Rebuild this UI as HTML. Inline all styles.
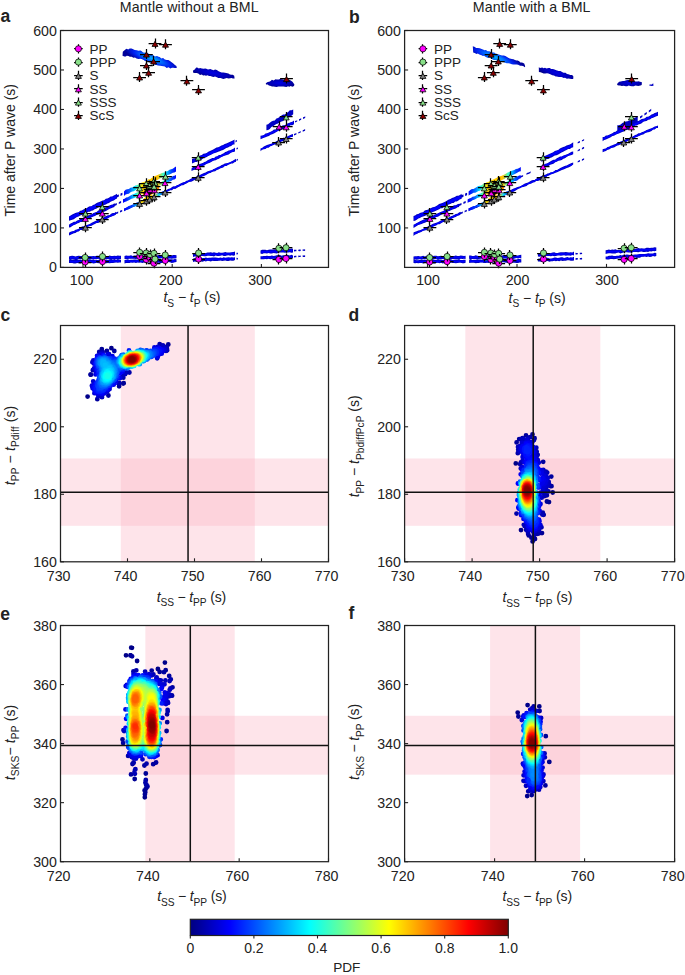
<!DOCTYPE html>
<html><head><meta charset="utf-8"><style>
html,body{margin:0;padding:0;background:#fff;overflow:hidden;}
svg{display:block;font-family:"Liberation Sans",sans-serif;}
</style></head><body>
<svg width="685" height="975" viewBox="0 0 685 975" font-family="Liberation Sans, sans-serif" fill="#222222"><rect x="120.80" y="325.5" width="134.00" height="236.30" fill="#fbb4c4" fill-opacity="0.36"/>
<rect x="60.5" y="458.50" width="268.00" height="67.31" fill="#fbb4c4" fill-opacity="0.36"/>
<rect x="465.35" y="325.5" width="135.00" height="236.30" fill="#fbb4c4" fill-opacity="0.36"/>
<rect x="404.6" y="458.50" width="270.00" height="67.31" fill="#fbb4c4" fill-opacity="0.36"/>
<rect x="145.37" y="625.5" width="89.33" height="236.20" fill="#fbb4c4" fill-opacity="0.36"/>
<rect x="60.5" y="715.79" width="268.00" height="58.87" fill="#fbb4c4" fill-opacity="0.36"/>
<rect x="490.10" y="625.5" width="90.00" height="236.20" fill="#fbb4c4" fill-opacity="0.36"/>
<rect x="404.6" y="715.79" width="270.00" height="58.87" fill="#fbb4c4" fill-opacity="0.36"/>
<g fill="none" stroke-width="4.8" stroke-linecap="round"><path d="M87.6 396.6h0M111.4 348.2h0" stroke="#00008a"/><path d="M123.7 383.2h0M101.8 349.1h0M123.2 383.5h0M168.3 344.5h0M119.1 386.3h0M90.6 374.6h0" stroke="#000095"/><path d="M90.8 374.7h0M114.3 351.0h0M108.4 395.5h0M97.3 399.2h0M106.9 350.9h0" stroke="#00009f"/><path d="M159.7 344.1h0M99.2 352.0h0M119.0 383.4h0M166.6 347.0h0M129.4 372.5h0M92.8 370.2h0M123.3 377.7h0M167.2 350.3h0" stroke="#0000aa"/><path d="M166.9 348.3h0M125.1 374.2h0M119.0 382.6h0M102.7 352.0h0M162.9 345.5h0M166.1 348.2h0M166.3 349.1h0M92.4 362.2h0M102.0 397.2h0" stroke="#0000b5"/><path d="M125.0 373.4h0M126.3 372.5h0M166.0 350.9h0M163.4 346.1h0M122.5 376.1h0" stroke="#0000bf"/><path d="M94.0 368.3h0M101.8 396.3h0M93.3 360.5h0M93.2 381.3h0M164.9 348.8h0M157.2 358.3h0M98.4 396.3h0M164.8 348.9h0M109.0 354.1h0M91.9 385.7h0" stroke="#0000ca"/><path d="M164.4 349.6h0M157.7 346.8h0M120.1 378.0h0M107.3 391.5h0M93.8 363.5h0M107.4 391.3h0M109.6 389.0h0M94.4 393.2h0M102.1 353.7h0" stroke="#0000d4"/><path d="M95.5 374.4h0M97.1 355.8h0M163.8 350.0h0M107.7 354.4h0M100.8 354.1h0M92.5 387.6h0M154.4 347.5h0M104.7 393.3h0M92.6 388.3h0M163.5 350.7h0M112.4 356.1h0M108.5 389.5h0M98.3 355.4h0M161.6 353.7h0M113.6 384.7h0M157.9 356.5h0M96.0 371.5h0" stroke="#0000df"/><path d="M119.4 377.7h0M115.1 383.1h0M93.5 385.4h0M122.8 371.7h0M108.0 389.4h0M162.6 350.5h0M162.0 352.4h0M103.2 393.4h0M157.2 356.6h0M97.3 393.8h0M159.4 348.1h0M96.3 370.0h0M116.0 381.7h0" stroke="#0000ea"/><path d="M162.0 351.7h0M162.1 351.4h0M95.7 367.1h0M161.7 349.7h0M161.0 349.2h0M101.0 393.7h0M159.3 348.5h0M161.6 350.3h0M159.7 354.0h0M95.6 391.9h0M161.5 350.3h0M96.5 368.9h0M94.4 389.9h0M161.4 351.6h0M97.6 356.8h0M94.1 388.4h0" stroke="#0000f4"/><path d="M95.6 391.6h0M160.2 349.3h0M94.2 387.6h0M97.4 357.2h0M160.2 349.5h0M121.0 371.9h0M106.9 389.3h0M120.2 373.1h0M95.4 363.1h0M159.0 349.2h0M95.7 391.0h0M95.6 391.0h0M160.6 351.3h0M117.9 378.0h0M103.3 355.1h0M158.7 349.4h0M107.6 388.4h0M102.2 392.5h0M95.5 383.7h0" stroke="#0000ff"/><path d="M113.2 383.4h0M95.8 390.8h0M156.0 349.1h0M95.7 363.9h0M160.0 350.8h0M117.7 377.8h0M110.5 385.8h0M112.1 358.1h0M95.1 386.6h0M112.5 358.3h0M97.6 373.9h0M96.5 359.2h0M97.5 369.5h0M158.3 353.7h0M114.7 358.6h0M99.0 392.1h0" stroke="#000bff"/><path d="M104.3 355.7h0M98.8 356.9h0M156.9 349.9h0M157.2 350.0h0M112.9 358.7h0M95.8 389.1h0M97.8 370.1h0M97.9 391.5h0M158.5 350.8h0M103.6 390.8h0M98.6 391.6h0M109.9 385.8h0M96.5 364.9h0M97.3 367.1h0M157.7 350.7h0M96.2 363.6h0M154.7 349.9h0M103.8 390.3h0M100.6 391.6h0M129.0 350.5h0M106.5 388.3h0M157.7 353.1h0" stroke="#0015ff"/><path d="M101.8 391.2h0M153.9 350.0h0M96.2 362.3h0M97.0 382.5h0M110.1 358.1h0M98.1 390.9h0M114.2 359.3h0M103.8 390.0h0M96.8 383.6h0M117.2 377.2h0M110.8 384.6h0M100.9 391.2h0M123.2 369.4h0M96.9 360.0h0M104.4 356.2h0M101.2 390.9h0M98.0 390.3h0M98.6 372.1h0" stroke="#0020ff"/><path d="M110.0 358.4h0M156.2 353.9h0M156.6 351.6h0M156.8 352.5h0M97.1 360.1h0M115.4 359.6h0M111.9 359.5h0M113.1 360.0h0M97.0 385.7h0M103.5 389.4h0M101.8 390.1h0M155.4 351.3h0M121.5 369.2h0M97.5 384.1h0M113.0 360.1h0M119.5 370.0h0M97.0 364.0h0M103.1 389.3h0" stroke="#002aff"/><path d="M155.0 351.4h0M114.9 379.8h0M154.6 351.2h0M98.4 380.2h0M110.2 359.0h0M98.5 389.3h0M154.0 355.5h0M105.8 387.6h0M109.0 385.3h0M97.6 385.8h0M98.1 359.1h0M98.1 382.9h0M97.6 359.9h0M116.8 376.0h0M99.2 370.7h0M97.1 361.6h0M98.1 383.4h0M109.0 385.2h0M105.7 387.3h0M98.2 383.4h0M98.4 367.0h0M155.1 352.7h0M97.4 360.8h0M115.6 360.4h0M146.5 350.3h0M113.5 381.0h0M155.0 352.8h0M98.2 359.2h0" stroke="#0035ff"/><path d="M150.9 350.9h0M99.0 376.5h0M99.0 388.2h0M98.5 387.2h0M99.8 357.9h0M98.6 366.8h0M117.6 372.4h0M114.1 380.0h0M110.3 359.8h0M98.5 386.4h0M154.4 353.1h0M119.3 368.9h0M107.8 385.6h0M98.8 382.1h0M153.2 351.8h0M97.8 364.6h0M105.7 386.8h0M151.5 356.9h0M154.2 353.4h0M98.3 359.6h0M101.4 388.4h0M98.7 386.6h0M140.5 349.8h0M118.2 369.9h0M114.4 361.4h0M146.8 350.6h0M153.4 352.1h0" stroke="#0040ff"/><path d="M115.0 378.4h0M121.7 355.1h0M149.9 351.1h0M119.4 368.5h0M153.7 352.7h0M97.7 362.5h0M153.7 353.5h0M101.2 387.9h0M153.7 353.6h0M115.0 361.7h0M98.1 360.6h0M153.5 352.7h0M99.2 358.9h0M100.6 357.9h0M105.7 357.8h0M153.0 354.9h0M108.2 359.0h0M153.5 353.2h0M116.0 376.3h0M153.1 354.8h0M101.8 387.7h0M104.9 357.6h0M98.6 365.5h0M101.2 387.5h0M99.5 385.8h0M152.6 355.1h0M104.8 357.7h0" stroke="#004aff"/><path d="M116.8 372.9h0M104.5 357.7h0M115.9 375.8h0M103.8 386.8h0M99.5 383.7h0M98.4 364.6h0M114.1 362.3h0M120.6 367.8h0M151.2 356.4h0M99.0 359.6h0M117.4 369.8h0M152.8 353.4h0M117.0 370.9h0M142.5 350.3h0M127.1 368.4h0M104.9 358.0h0M105.6 385.8h0M119.0 358.3h0" stroke="#0055ff"/><path d="M152.0 355.0h0M109.5 383.5h0M116.1 362.5h0M101.4 386.0h0M98.9 360.2h0M101.8 358.1h0M112.5 362.4h0M151.9 354.8h0M106.2 358.7h0M105.6 358.4h0M121.8 367.6h0M105.6 385.6h0M147.0 359.5h0M100.0 377.9h0M102.0 386.0h0M98.9 364.6h0M101.8 385.9h0M116.3 372.4h0M100.3 383.0h0M115.5 363.3h0M98.7 363.9h0M151.9 353.8h0M148.2 358.4h0M98.6 362.0h0M98.9 364.5h0M151.6 354.9h0M98.6 362.2h0M99.6 365.9h0M102.7 385.8h0M100.9 370.1h0" stroke="#0060ff"/><path d="M151.3 355.2h0M109.1 360.7h0M100.4 381.9h0M120.9 356.5h0M149.7 352.3h0M106.6 359.2h0M101.7 385.1h0M100.8 383.6h0M101.5 384.8h0M106.7 359.3h0M104.5 385.4h0M115.5 364.3h0M115.6 374.3h0M100.6 382.1h0M100.3 359.3h0M104.3 358.5h0M99.2 360.7h0M101.6 384.5h0M99.0 362.5h0M99.1 361.6h0M113.7 364.2h0M115.3 374.7h0M99.3 360.9h0M100.9 359.1h0M116.1 367.9h0" stroke="#006aff"/><path d="M149.3 352.5h0M118.0 361.3h0M150.5 353.3h0M106.9 384.4h0M110.4 362.3h0M150.4 355.5h0M118.0 365.6h0M106.3 384.6h0M111.1 381.4h0M148.5 357.6h0M112.2 363.7h0M113.1 364.3h0M120.6 357.2h0M114.4 376.8h0M99.3 363.3h0M114.8 365.6h0M112.3 363.8h0M115.6 369.7h0M99.4 361.5h0M123.4 354.7h0M104.5 359.0h0M101.5 368.7h0M117.8 363.1h0M107.6 383.8h0M104.4 359.0h0M150.1 353.7h0M150.0 355.4h0M115.4 370.7h0M106.4 359.8h0M114.6 366.0h0M112.6 379.5h0M118.8 365.5h0M120.5 366.4h0M150.2 354.2h0M112.3 379.9h0M114.5 376.0h0M101.1 374.0h0" stroke="#0075ff"/><path d="M108.3 383.3h0M105.3 384.4h0M101.9 383.2h0M103.5 384.4h0M118.2 361.8h0M102.0 383.2h0M105.8 384.2h0M105.7 359.7h0M115.1 371.6h0M108.4 383.0h0M106.6 360.3h0M149.8 354.8h0M109.4 382.3h0M113.4 377.8h0M141.6 350.9h0M107.1 383.7h0M101.4 359.7h0M102.0 359.5h0M109.5 362.6h0M113.8 376.9h0M140.2 350.8h0M114.7 374.2h0M99.9 363.5h0M149.0 356.3h0M106.6 383.8h0M105.5 359.9h0M100.5 360.6h0M149.6 354.3h0" stroke="#0080ff"/><path d="M102.2 369.3h0M102.6 359.4h0M106.4 383.7h0M147.7 352.7h0M104.4 359.6h0M113.6 377.2h0M114.6 368.7h0M149.3 355.3h0M148.8 353.4h0M100.1 363.4h0M146.6 352.3h0M112.4 365.4h0M101.6 380.7h0M102.4 382.5h0M148.2 356.9h0M144.0 351.6h0M109.3 363.0h0M119.9 365.3h0M102.5 369.8h0M118.6 362.6h0M108.4 362.3h0M119.5 359.6h0M113.5 366.9h0M101.4 376.5h0M113.1 377.7h0M101.5 366.1h0M111.4 364.9h0M119.0 361.0h0M111.1 364.8h0M108.2 362.3h0M114.5 372.2h0" stroke="#008aff"/><path d="M103.0 382.8h0M144.1 360.9h0M100.5 361.7h0M100.6 361.5h0M120.0 358.8h0M113.5 376.7h0M100.6 361.8h0M102.0 380.7h0M101.5 376.4h0M100.8 364.3h0M110.5 380.9h0M139.8 364.2h0M102.0 380.6h0M100.6 362.4h0M107.4 361.9h0M113.8 375.6h0M101.9 360.4h0M124.8 367.2h0M128.6 367.6h0M113.3 367.7h0M101.5 360.7h0M104.4 360.2h0M100.9 364.0h0M108.6 363.1h0M102.5 360.2h0M114.0 369.7h0M102.3 372.8h0M112.5 366.8h0M108.6 382.2h0M119.1 361.8h0M113.5 376.0h0M113.6 369.0h0M119.7 359.7h0M119.1 362.0h0" stroke="#0095ff"/><path d="M147.9 356.6h0M147.1 353.1h0M102.8 360.4h0M111.9 378.9h0M105.1 383.0h0M103.9 382.7h0M146.2 358.5h0M114.0 372.1h0M110.1 380.8h0M102.3 380.5h0M113.1 376.7h0M108.6 363.8h0M108.8 381.8h0M113.9 372.1h0M108.2 363.4h0M103.4 382.1h0M101.8 361.1h0M146.0 352.7h0M119.3 362.5h0M103.5 369.1h0M102.9 360.7h0M102.9 366.4h0M102.3 379.7h0M120.7 358.2h0M146.2 358.5h0M102.3 374.2h0M108.5 381.9h0M102.2 365.0h0M104.2 360.9h0M110.4 380.3h0M102.5 373.6h0M104.4 382.5h0" stroke="#009fff"/><path d="M137.5 351.0h0M111.0 366.6h0M102.4 361.2h0M102.1 361.6h0M119.4 361.9h0M103.5 371.0h0M120.6 358.7h0M107.4 382.2h0M103.7 370.3h0M112.8 376.6h0M143.1 361.3h0M103.1 372.3h0M104.0 369.4h0M104.1 368.3h0M109.7 365.8h0M102.4 375.0h0M103.0 361.3h0M146.5 353.3h0M113.1 375.2h0M102.7 374.0h0M102.1 362.7h0M107.9 364.4h0M103.1 365.3h0M107.1 363.7h0M103.3 365.6h0M129.6 352.2h0M147.3 354.2h0M104.1 361.7h0M102.7 379.7h0M108.2 365.1h0M108.8 381.2h0" stroke="#00aaff"/><path d="M112.2 377.4h0M147.5 354.7h0M102.5 363.6h0M103.3 365.1h0M112.4 369.5h0M110.1 380.1h0M111.8 377.9h0M102.7 379.2h0M106.3 382.2h0M110.0 366.8h0M103.1 364.5h0M104.6 367.9h0M112.2 369.3h0M111.6 378.3h0M102.8 374.3h0M103.1 362.1h0M104.6 369.0h0M146.7 357.2h0M109.9 380.3h0M102.9 362.9h0M106.4 363.9h0M112.1 369.3h0M103.7 362.3h0M104.8 368.6h0M104.4 362.5h0M103.1 363.0h0M123.9 366.5h0M146.5 357.3h0M103.8 364.8h0M102.7 378.5h0M107.4 365.4h0M112.1 369.8h0M107.6 365.7h0M103.4 363.7h0M105.5 381.9h0M107.2 365.5h0M121.9 365.5h0M104.6 365.3h0M110.6 379.3h0M104.6 363.3h0M103.2 373.7h0M105.2 366.0h0M106.1 364.9h0M104.6 363.5h0" stroke="#00b5ff"/><path d="M110.0 379.8h0M105.0 364.9h0M120.9 358.7h0M105.4 365.1h0M103.6 372.8h0M110.1 367.9h0M111.7 369.6h0M106.1 366.5h0M109.4 367.5h0M105.6 368.4h0M112.0 370.1h0M120.5 359.6h0M147.0 355.0h0M110.0 379.6h0M103.3 374.3h0M106.6 367.3h0M107.6 367.1h0M104.4 371.5h0M103.2 374.5h0M106.5 367.7h0M112.4 372.2h0M106.8 367.7h0M106.6 367.9h0M146.7 356.2h0M146.6 354.5h0M104.6 380.9h0" stroke="#00bfff"/><path d="M146.7 354.9h0M105.5 370.0h0M104.1 372.7h0M103.7 379.8h0M103.7 379.9h0M105.3 370.6h0M107.3 381.1h0M109.5 368.6h0M109.1 368.5h0M121.6 364.8h0M143.6 352.6h0M122.5 365.4h0M103.3 376.2h0M144.4 359.4h0M122.9 356.5h0M146.5 355.3h0M104.9 380.7h0M108.6 368.7h0M112.1 373.8h0M145.5 357.9h0M141.7 352.1h0M103.8 379.1h0" stroke="#00caff"/><path d="M131.8 366.7h0M108.5 380.2h0M110.7 370.5h0M145.3 358.1h0M108.9 379.9h0M104.6 380.1h0M110.7 370.6h0M103.7 375.3h0M111.7 375.5h0M106.4 380.8h0M111.2 371.4h0M103.6 376.2h0M105.0 380.3h0M120.7 360.4h0M111.6 373.1h0M146.0 354.9h0M120.9 363.4h0M106.1 371.1h0M107.0 370.3h0M103.8 376.0h0M110.0 370.6h0" stroke="#00d4ff"/><path d="M105.1 380.1h0M103.8 376.7h0M142.4 352.5h0M109.6 378.7h0M109.2 379.1h0M109.0 370.5h0M111.2 373.4h0M120.9 362.8h0M143.0 352.8h0M104.1 376.0h0M109.9 371.3h0M108.4 379.5h0M111.0 375.9h0M104.6 374.5h0" stroke="#00dfff"/><path d="M107.2 371.3h0M107.0 371.6h0M134.2 365.9h0M143.4 359.9h0M110.7 372.9h0M145.5 355.0h0M106.1 372.5h0M107.1 379.7h0M145.3 354.7h0M144.5 353.9h0M104.5 377.7h0M110.8 374.1h0M138.4 364.0h0M109.6 377.9h0M122.1 364.3h0M105.8 379.4h0M110.5 373.5h0M125.6 366.2h0M121.0 362.4h0M104.6 376.4h0M144.2 358.7h0" stroke="#00eaff"/><path d="M105.8 379.2h0M107.6 372.0h0M105.4 378.8h0M107.7 379.2h0M121.0 362.0h0M128.7 353.3h0M109.0 378.3h0M107.1 379.2h0M145.3 355.6h0M104.9 376.3h0M121.5 359.7h0M105.1 377.5h0M105.9 374.0h0M108.0 378.6h0M105.9 378.6h0" stroke="#00f4ff"/><path d="M121.3 362.3h0M105.2 377.1h0M108.8 377.9h0M105.6 374.7h0M139.3 352.2h0M105.9 374.2h0M109.4 376.9h0M109.1 373.3h0M109.3 373.6h0M109.0 377.4h0M109.8 375.0h0M106.3 374.1h0M107.0 378.6h0M107.0 378.6h0M145.0 356.0h0M108.3 377.9h0M108.6 377.7h0M125.1 365.8h0M109.0 373.8h0M105.7 377.2h0M109.2 376.3h0M109.1 376.6h0M105.8 377.2h0" stroke="#00ffff"/><path d="M109.3 375.1h0M105.9 375.7h0M109.1 375.1h0M108.0 374.0h0M106.7 374.6h0M143.2 359.4h0M108.5 374.3h0M106.1 376.9h0M109.0 375.4h0M121.7 362.8h0M106.6 374.9h0M106.2 376.6h0M106.8 374.9h0M144.6 355.5h0M144.7 356.4h0M108.2 376.7h0M108.5 375.9h0M143.7 354.2h0M107.0 375.2h0M106.7 376.0h0" stroke="#0bfff4"/><path d="M107.9 376.6h0M142.1 353.3h0M122.7 364.2h0M107.3 375.2h0M107.3 376.5h0M107.1 376.0h0M107.8 376.0h0M122.4 363.7h0M133.8 365.6h0M125.8 365.8h0M143.8 358.1h0M122.2 359.1h0M124.9 365.4h0" stroke="#15ffea"/><path d="M137.2 352.3h0M122.0 362.7h0M130.7 353.0h0M141.0 353.0h0M121.9 360.0h0M142.0 353.4h0M142.6 353.8h0M121.9 362.4h0M144.2 355.6h0M144.2 356.0h0M122.9 363.9h0M127.4 354.4h0M121.9 361.7h0M142.4 359.8h0" stroke="#20ffdf"/><path d="M143.6 354.9h0M144.0 356.0h0M143.2 354.4h0M143.7 357.6h0M143.5 354.9h0M142.5 353.9h0M142.2 353.8h0M142.2 359.9h0" stroke="#2bffd4"/><path d="M122.2 362.2h0M122.2 362.2h0" stroke="#35ffca"/><path d="M123.9 364.4h0M139.6 362.2h0M138.0 352.7h0M142.7 358.9h0M142.4 354.4h0M122.4 360.2h0" stroke="#40ffbf"/><path d="M139.1 362.5h0M124.7 364.7h0M122.4 361.8h0M143.3 355.7h0M142.3 359.3h0M142.3 354.6h0" stroke="#4affb5"/><path d="M132.2 353.1h0M130.3 353.6h0M142.4 355.1h0M125.2 364.7h0" stroke="#55ffaa"/><path d="M142.9 357.2h0M125.8 365.0h0M124.8 356.8h0M134.6 352.9h0M142.8 356.7h0M142.2 358.5h0M124.4 364.1h0" stroke="#60ff9f"/><path d="M127.7 354.9h0" stroke="#6aff95"/><path d="M141.4 354.7h0M141.8 358.9h0M142.3 357.7h0M139.7 353.8h0M141.3 354.6h0M141.9 355.3h0M135.5 353.1h0M137.4 353.3h0" stroke="#75ff8a"/><path d="M137.9 362.8h0M123.5 362.5h0M139.1 353.7h0M131.9 365.2h0M141.6 359.0h0M140.5 360.4h0M123.2 360.4h0M125.5 356.6h0M124.4 363.6h0M142.0 355.9h0" stroke="#80ff80"/><path d="M135.7 353.3h0M125.5 364.3h0M142.1 356.5h0M137.4 353.4h0M123.3 361.0h0M133.6 364.7h0M140.9 354.8h0M128.0 365.1h0M141.0 355.0h0" stroke="#8aff75"/><path d="M135.4 364.0h0M123.5 359.8h0M134.7 364.2h0M127.3 364.9h0M126.4 364.6h0M129.3 365.1h0" stroke="#95ff6a"/><path d="M124.2 362.9h0M141.5 355.8h0M139.8 360.7h0M137.2 362.9h0M141.2 358.6h0M141.1 355.4h0M123.7 361.7h0M140.7 359.6h0" stroke="#9fff60"/><path d="M125.2 363.7h0M123.8 359.9h0M141.6 356.9h0M135.0 353.6h0M133.2 364.5h0M123.9 359.7h0" stroke="#aaff55"/><path d="M137.6 362.4h0M126.2 356.6h0M141.3 356.5h0M137.1 353.9h0" stroke="#b5ff4a"/><path d="M132.0 364.7h0M124.8 358.2h0M126.7 356.3h0M140.4 355.3h0M124.5 362.7h0M134.1 364.1h0M139.2 354.6h0M140.2 355.2h0M126.9 364.3h0M136.3 353.8h0M124.3 359.3h0M124.6 362.6h0" stroke="#bfff40"/><path d="M130.8 354.4h0M141.0 356.9h0M140.9 356.8h0M138.2 361.6h0M140.9 357.5h0M127.3 364.3h0M125.5 357.6h0" stroke="#caff35"/><path d="M140.8 357.3h0M140.6 356.3h0M125.6 363.3h0M140.6 358.2h0M139.9 355.5h0M131.0 364.6h0M130.3 354.7h0M140.7 356.8h0" stroke="#d5ff2a"/><path d="M138.8 354.8h0M125.5 363.2h0M139.8 359.7h0M124.5 361.6h0M136.7 354.2h0M133.7 354.1h0M140.6 357.9h0M124.9 362.3h0M140.6 357.2h0" stroke="#dfff20"/><path d="M140.4 358.3h0M138.5 354.8h0M126.2 363.5h0" stroke="#eaff15"/><path d="M126.6 363.7h0M140.4 357.6h0M139.2 360.2h0M124.7 360.0h0M135.1 354.2h0M126.4 357.2h0" stroke="#f4ff0b"/><path d="M126.2 363.3h0M129.9 355.2h0M129.5 355.3h0M137.0 362.0h0M135.8 354.4h0M136.9 354.6h0" stroke="#ffff00"/><path d="M125.4 358.7h0M126.6 363.3h0M139.9 357.0h0M137.6 361.5h0M131.8 354.7h0M136.3 362.4h0M133.6 354.5h0M127.8 363.8h0M128.8 355.8h0" stroke="#fff400"/><path d="M131.6 364.0h0M125.0 360.3h0M133.5 363.6h0M126.8 363.3h0M138.4 355.4h0M134.0 354.5h0M125.7 358.6h0" stroke="#ffea00"/><path d="M126.2 357.9h0M129.3 364.0h0M139.2 356.2h0M125.3 361.5h0M127.2 357.0h0M132.3 354.8h0" stroke="#ffdf00"/><path d="M133.1 363.6h0M126.3 362.7h0M138.7 355.9h0M131.1 355.1h0M133.8 354.7h0M138.8 359.5h0" stroke="#ffd500"/><path d="M130.8 355.3h0M137.0 361.5h0M125.4 361.1h0M131.3 363.8h0M130.1 363.9h0M129.9 363.9h0M125.4 360.2h0M139.3 357.4h0M139.2 357.0h0M126.4 358.1h0M138.6 356.1h0M135.6 362.4h0M127.2 357.2h0" stroke="#ffca00"/><path d="M131.8 355.1h0M126.2 358.5h0M137.5 360.9h0M136.2 355.0h0M137.2 355.3h0M128.4 363.5h0M126.4 362.4h0M126.9 362.8h0M125.8 359.3h0" stroke="#ffbf00"/><path d="M138.2 360.0h0M133.0 355.0h0M132.5 363.4h0M139.0 357.7h0M138.9 358.4h0M137.6 360.6h0M129.5 363.6h0M132.5 355.1h0M128.4 363.4h0M125.8 361.2h0M138.9 357.3h0" stroke="#ffb500"/><path d="M133.6 355.0h0M125.8 360.2h0M133.2 363.2h0M138.9 357.8h0M126.5 358.4h0M136.9 355.5h0M137.4 360.6h0M136.3 355.4h0M137.8 360.1h0M133.2 355.1h0" stroke="#ffaa00"/><path d="M137.7 360.2h0M130.3 355.8h0M129.7 356.0h0M138.6 358.6h0M126.5 362.0h0M135.6 362.0h0" stroke="#ff9f00"/><path d="M126.8 362.2h0M126.9 362.3h0M127.4 357.6h0M128.2 357.0h0M137.8 356.3h0M126.1 360.1h0M128.2 363.0h0M126.2 359.5h0M129.5 363.3h0M136.0 361.6h0" stroke="#ff9500"/><path d="M138.4 358.0h0M138.2 356.9h0M138.0 359.3h0M137.8 359.7h0M136.4 355.7h0M127.7 357.6h0M130.1 356.2h0" stroke="#ff8a00"/><path d="M138.0 357.0h0M131.6 355.7h0M127.8 362.6h0M135.9 355.7h0M132.3 355.6h0M138.0 358.9h0M137.3 360.2h0M138.1 358.7h0M126.8 361.7h0M137.4 359.9h0" stroke="#ff8000"/><path d="M133.4 362.7h0M137.3 356.4h0M128.8 356.9h0M131.7 363.1h0M126.5 360.2h0M134.9 362.0h0M136.2 361.1h0M135.6 361.5h0M137.5 356.7h0M134.8 355.6h0M136.2 356.0h0" stroke="#ff7500"/><path d="M137.9 358.1h0M133.8 355.6h0M130.6 363.1h0M137.7 359.0h0M135.8 361.3h0" stroke="#ff6a00"/><path d="M134.6 362.0h0M132.5 355.8h0M137.6 357.3h0M128.3 362.5h0M137.6 359.1h0M137.2 359.7h0M133.6 362.4h0M126.9 359.6h0M137.3 356.9h0M136.2 360.8h0" stroke="#ff6000"/><path d="M135.2 361.5h0M127.7 358.3h0M126.9 360.7h0M133.0 362.5h0M136.6 356.5h0M127.5 358.5h0M127.3 361.4h0M128.1 362.2h0" stroke="#ff5500"/><path d="M137.0 357.0h0M130.7 356.4h0M133.2 362.3h0M129.7 362.7h0M129.2 362.5h0M137.0 357.2h0M127.5 361.5h0M127.1 360.6h0M127.4 359.1h0" stroke="#ff4a00"/><path d="M130.6 356.6h0M135.8 356.4h0M135.2 356.2h0M137.1 357.4h0M128.0 358.3h0M134.3 361.7h0M137.0 357.6h0M137.1 358.9h0" stroke="#ff4000"/><path d="M127.6 359.1h0M134.2 356.1h0M135.3 361.1h0M132.7 362.3h0M127.4 360.9h0M127.3 360.1h0M135.6 356.5h0M132.8 362.3h0M134.9 356.2h0M128.0 361.6h0M131.7 356.4h0M132.5 356.2h0M128.7 362.0h0" stroke="#ff3500"/><path d="M136.9 357.9h0M127.5 360.5h0M127.7 361.0h0M129.6 362.3h0M135.2 356.5h0M127.6 360.8h0M130.5 362.4h0" stroke="#ff2a00"/><path d="M135.4 360.7h0M132.1 356.5h0M129.1 357.7h0M134.5 361.3h0M129.2 362.1h0M129.1 362.0h0M127.7 360.5h0M136.6 358.1h0M136.3 357.4h0M127.9 360.9h0" stroke="#ff2000"/><path d="M128.1 358.9h0M127.9 359.3h0M130.8 356.9h0M135.9 357.2h0M131.5 362.2h0M128.3 361.3h0M134.2 361.3h0M131.8 356.7h0M136.4 358.6h0M135.7 360.1h0" stroke="#ff1500"/><path d="M136.1 357.5h0M130.6 362.1h0M133.4 356.6h0M129.4 361.8h0M135.7 357.3h0M134.3 356.7h0M129.7 361.9h0M136.1 359.2h0M135.4 357.1h0M134.7 360.9h0M128.9 358.3h0" stroke="#ff0b00"/><path d="M135.5 357.3h0M134.7 356.9h0M131.2 362.0h0M134.1 361.1h0M135.4 360.1h0M128.4 360.9h0M136.0 358.5h0" stroke="#ff0000"/><path d="M133.8 361.2h0M134.2 356.9h0M131.0 357.2h0M133.1 356.8h0M132.6 356.9h0M128.4 360.3h0M135.5 359.7h0M132.4 361.7h0" stroke="#f40000"/><path d="M129.2 361.3h0M129.4 361.4h0M135.8 358.5h0M128.5 359.7h0M135.3 359.8h0M133.5 361.2h0M132.9 357.0h0M128.6 359.6h0M135.5 358.0h0M135.6 358.2h0M132.3 357.1h0" stroke="#ea0000"/><path d="M130.5 361.6h0M132.1 361.6h0M128.9 359.0h0M130.0 361.5h0M130.4 357.7h0M134.3 357.3h0M128.7 359.8h0" stroke="#df0000"/><path d="M128.8 360.3h0M129.3 358.7h0M130.6 361.5h0M129.1 360.7h0M131.8 361.5h0M128.9 360.0h0M134.8 359.8h0M133.8 360.7h0M129.0 360.0h0M129.2 359.1h0" stroke="#d50000"/><path d="M132.6 361.2h0M130.5 358.0h0M135.0 358.2h0M129.4 360.7h0M132.8 357.4h0M135.0 358.9h0M132.2 357.5h0M130.0 358.4h0M134.3 357.7h0" stroke="#ca0000"/><path d="M129.3 360.4h0M129.8 360.9h0M129.4 359.1h0M132.3 357.5h0M131.3 361.2h0M131.1 357.8h0M133.9 357.7h0M134.2 357.9h0M130.2 360.9h0" stroke="#bf0000"/><path d="M131.1 361.1h0M133.6 357.7h0M129.6 360.3h0M134.5 358.3h0M129.5 360.1h0M134.6 358.5h0M134.6 358.9h0M129.7 360.3h0M134.2 358.1h0M132.4 360.9h0M132.7 357.7h0M133.9 360.0h0M132.8 357.8h0M133.4 360.4h0M134.4 358.6h0" stroke="#b50000"/><path d="M129.9 360.3h0M130.0 360.5h0M134.1 359.7h0M129.8 360.0h0M130.0 360.3h0M130.7 358.5h0M132.4 360.7h0M133.7 360.0h0M132.3 357.9h0M130.3 360.5h0M130.3 358.9h0M133.4 360.1h0" stroke="#aa0000"/><path d="M130.7 360.6h0M134.0 359.4h0M130.0 359.9h0M131.8 358.2h0M130.7 360.5h0M130.5 358.9h0M132.5 360.5h0M133.8 359.4h0M132.2 360.5h0M131.9 360.5h0" stroke="#9f0000"/><path d="M133.8 358.9h0M130.3 359.7h0M133.7 359.4h0M130.4 359.7h0M132.5 358.3h0M130.6 359.1h0M131.0 358.7h0M131.6 358.4h0M133.0 360.0h0M133.2 359.8h0M131.7 360.4h0M131.1 360.2h0M130.6 359.7h0M133.2 359.6h0M131.0 360.1h0" stroke="#950000"/><path d="M131.7 358.6h0M132.5 360.1h0M132.7 359.9h0M130.9 359.9h0M131.1 359.0h0M131.7 360.1h0M132.9 358.8h0M131.8 360.1h0M132.9 358.8h0M131.7 358.8h0M132.3 359.9h0M132.4 358.7h0M131.2 359.3h0M131.3 359.9h0M131.9 358.8h0M132.3 359.8h0M132.5 358.9h0" stroke="#8a0000"/><path d="M131.7 359.0h0M132.1 358.9h0M132.4 359.1h0M132.5 359.2h0M131.7 359.5h0M132.0 359.1h0M131.7 359.3h0M132.2 359.3h0" stroke="#800000"/></g>
<g fill="none" stroke-width="4.8" stroke-linecap="round"><path d="M532.6 541.4h0M549.0 502.1h0M515.8 463.4h0M552.7 492.5h0M521.0 530.1h0" stroke="#00008a"/><path d="M535.0 539.0h0M546.9 501.5h0M542.0 533.1h0M532.5 434.3h0M531.4 537.7h0" stroke="#000095"/><path d="M516.6 442.4h0M551.5 486.2h0M534.6 438.2h0M528.7 535.4h0M543.7 514.8h0M551.3 476.6h0M519.2 439.1h0M526.0 435.4h0M546.9 495.3h0M550.3 486.0h0M543.2 461.8h0M528.2 534.3h0M539.4 533.2h0" stroke="#00009f"/><path d="M516.5 513.6h0M542.8 512.7h0M548.4 491.4h0M517.8 453.2h0M544.6 496.0h0M537.7 533.8h0M534.3 535.0h0M534.0 440.0h0M542.5 512.8h0M520.2 464.2h0M530.1 437.2h0M534.6 534.8h0M522.4 438.2h0M537.7 454.8h0" stroke="#0000aa"/><path d="M527.9 532.5h0M544.4 494.5h0M518.0 446.9h0M521.4 439.5h0M542.3 514.6h0M520.9 462.5h0M536.7 451.7h0M541.5 527.3h0M526.1 529.8h0M547.2 472.6h0M518.2 449.7h0M533.9 534.1h0M536.5 451.6h0M536.3 447.7h0M544.0 493.3h0M523.8 524.8h0M548.8 484.2h0M528.4 438.0h0M522.2 439.6h0M524.5 526.0h0M546.1 490.3h0M545.9 471.6h0" stroke="#0000b5"/><path d="M546.2 489.6h0M547.9 485.7h0M523.4 439.2h0M548.7 481.9h0M536.7 456.3h0M541.7 497.7h0M539.0 530.2h0M546.4 487.2h0M545.5 488.4h0M520.8 468.4h0M543.3 469.8h0" stroke="#0000bf"/><path d="M519.4 446.7h0M519.6 451.6h0M519.5 446.6h0M528.1 530.0h0M542.9 490.1h0M527.2 439.5h0M532.4 441.9h0M522.7 460.6h0M547.7 478.1h0M537.7 459.8h0M519.9 446.1h0M546.5 484.7h0M535.9 457.3h0M544.7 473.2h0M545.5 486.0h0M540.5 525.2h0M528.2 529.3h0M521.8 442.9h0" stroke="#0000ca"/><path d="M543.5 487.6h0M546.4 476.4h0M538.1 461.4h0M534.6 451.7h0M538.8 462.6h0M534.6 454.4h0M540.5 504.0h0M533.2 531.6h0M544.2 486.3h0M526.9 440.4h0M522.6 456.9h0M542.0 470.4h0M542.5 487.7h0M546.8 478.8h0M543.5 486.2h0M546.0 482.7h0M540.5 492.7h0M522.2 443.2h0M546.4 481.2h0M535.3 530.8h0M538.4 462.9h0M534.0 447.8h0M520.6 449.3h0" stroke="#0000d4"/><path d="M534.4 457.1h0M544.7 483.6h0M530.7 442.3h0M522.3 467.2h0M538.3 527.8h0M545.9 480.6h0M541.8 471.9h0M533.9 452.7h0M521.9 468.8h0M541.0 470.2h0M543.6 484.2h0M532.2 530.5h0M530.7 442.8h0M543.7 475.5h0M530.2 529.4h0M528.5 442.0h0M521.3 447.2h0M524.5 462.0h0M539.7 496.0h0" stroke="#0000df"/><path d="M533.1 447.2h0M527.7 526.0h0M534.8 459.4h0M539.5 523.7h0M533.3 452.0h0M539.6 510.6h0M532.8 446.7h0M523.5 518.9h0M532.9 447.0h0M542.6 482.5h0M524.7 462.5h0M531.1 529.2h0M533.6 458.2h0M543.9 479.7h0M534.9 460.1h0M541.5 484.0h0M528.9 527.2h0M541.8 483.4h0M543.5 478.4h0M529.9 528.2h0M521.7 449.7h0M532.6 456.0h0M525.7 442.8h0M543.1 478.6h0M528.9 526.9h0M540.8 473.5h0M539.5 521.3h0M530.8 528.7h0M529.2 527.2h0M533.9 529.4h0M540.7 473.5h0M531.0 528.8h0M531.7 529.1h0M528.5 442.9h0M522.2 446.8h0M522.7 452.9h0M521.2 515.2h0" stroke="#0000ea"/><path d="M535.5 528.7h0M542.2 478.2h0M532.8 529.1h0M522.1 448.1h0M522.3 451.0h0M542.0 479.2h0M531.7 445.9h0M531.9 446.4h0M534.0 529.0h0M520.7 474.3h0M518.3 507.5h0M532.5 458.5h0M522.3 470.4h0M523.2 445.8h0M526.5 522.3h0M526.1 521.6h0M532.2 452.5h0M530.6 527.8h0M527.6 443.4h0M525.4 456.8h0M526.5 443.6h0M539.2 506.0h0M531.8 447.3h0M539.0 519.7h0" stroke="#0000f4"/><path d="M531.6 528.0h0M530.2 445.0h0M532.1 459.0h0M532.4 459.4h0M526.8 459.5h0M529.1 525.8h0M526.2 462.3h0M538.3 468.7h0M526.9 522.0h0M526.3 462.4h0M517.4 500.2h0M526.3 444.3h0M535.8 463.3h0M526.2 520.8h0M519.0 508.7h0M539.2 487.0h0M531.3 459.1h0M525.1 454.7h0M525.6 455.1h0M532.6 527.7h0M539.8 480.2h0M529.7 456.9h0M531.4 449.1h0M537.4 524.5h0M527.9 460.0h0M538.8 503.5h0M517.9 483.5h0M531.2 452.0h0" stroke="#0000ff"/><path d="M538.7 472.5h0M537.0 466.0h0M538.7 472.7h0M520.9 513.1h0M531.2 459.9h0M527.9 456.5h0M527.2 455.9h0M535.6 526.5h0M526.2 454.9h0M537.0 466.4h0M528.2 456.0h0M531.0 448.7h0M530.7 447.5h0M525.5 454.0h0M534.2 527.1h0M528.7 445.5h0M529.9 460.0h0M527.8 445.3h0M526.0 519.8h0M527.6 455.4h0M529.4 446.1h0M524.0 450.7h0M530.2 447.2h0M538.6 501.2h0M535.1 526.4h0M524.1 448.3h0M524.0 449.6h0M528.9 446.1h0M527.8 445.7h0M537.5 522.6h0M526.4 454.1h0M527.5 445.7h0M535.8 464.9h0M528.7 446.1h0" stroke="#000bff"/><path d="M529.9 452.6h0M528.3 454.3h0M524.4 449.0h0M537.9 513.2h0M538.5 487.4h0M525.0 451.8h0M527.6 446.1h0M524.9 447.6h0M538.7 478.6h0M525.0 518.1h0M527.5 463.2h0M527.4 463.4h0M528.8 446.8h0M532.4 526.2h0M538.3 508.8h0M527.8 521.6h0M521.9 513.9h0M523.9 469.6h0M529.1 447.1h0M530.1 524.6h0M524.6 517.4h0M528.7 447.0h0M537.5 520.7h0M536.3 524.0h0M528.7 447.1h0M538.5 479.5h0M529.1 523.1h0M537.3 470.4h0M527.2 446.7h0M528.8 462.4h0M528.8 447.4h0M531.1 525.1h0M529.7 450.2h0M525.2 448.9h0M530.3 524.3h0M525.2 449.6h0M534.6 464.3h0M533.6 463.4h0M529.2 448.3h0M526.4 519.2h0" stroke="#0015ff"/><path d="M534.6 525.3h0M526.4 447.5h0M535.1 525.0h0M531.0 462.2h0M536.7 522.6h0M526.3 451.8h0M528.0 463.6h0M523.9 470.2h0M527.7 452.2h0M529.1 449.6h0M526.2 466.3h0M530.5 462.6h0M526.0 449.2h0M527.7 448.1h0M528.8 449.7h0M526.0 518.4h0M528.6 449.5h0M523.4 471.6h0M527.6 448.5h0M538.1 505.4h0M528.4 449.8h0M526.9 450.8h0M521.5 512.5h0M529.7 463.0h0M526.6 450.0h0M532.5 524.9h0M537.7 477.9h0M534.0 524.8h0M535.5 466.8h0M535.4 466.5h0M535.2 523.9h0M537.0 472.4h0M537.5 511.5h0M531.6 463.2h0M536.9 518.8h0" stroke="#0020ff"/><path d="M537.8 479.3h0M538.0 503.3h0M534.5 465.5h0M524.3 516.0h0M537.8 498.0h0M530.3 463.8h0M523.5 472.1h0M529.0 464.3h0M536.9 475.7h0M536.1 520.6h0M531.7 464.0h0M528.2 465.2h0M525.8 517.4h0M531.5 523.3h0" stroke="#002aff"/><path d="M537.0 512.6h0M532.8 464.9h0M531.3 522.7h0M525.0 516.4h0M535.9 471.1h0M537.6 485.0h0M533.8 523.1h0M529.4 520.8h0M535.7 470.4h0M519.5 505.8h0M535.4 521.0h0M536.3 473.9h0M532.7 523.0h0M536.8 513.0h0M537.6 502.6h0M531.3 522.1h0M523.4 473.1h0M525.4 516.4h0M537.5 502.1h0" stroke="#0035ff"/><path d="M523.0 513.6h0M534.6 468.1h0M535.0 469.3h0M523.4 473.2h0M529.5 465.7h0M535.8 516.8h0M531.2 465.4h0M520.4 508.1h0M535.3 470.8h0M526.5 517.2h0M536.0 475.1h0M531.7 521.6h0M537.3 487.0h0M530.9 520.9h0M522.6 512.6h0M523.3 473.7h0M532.5 521.5h0M528.7 518.9h0" stroke="#0040ff"/><path d="M535.1 471.4h0M537.2 498.3h0M532.9 466.9h0M535.1 517.5h0M537.2 500.0h0M532.5 520.6h0M532.1 520.5h0M519.9 505.5h0M537.1 500.1h0M537.0 486.0h0" stroke="#004aff"/><path d="M533.9 519.2h0M527.7 468.4h0M531.2 466.8h0M526.2 470.2h0M534.9 473.2h0M534.5 472.0h0M533.4 519.0h0M529.4 467.5h0M532.3 467.8h0M534.2 518.0h0M533.9 470.2h0M522.4 476.0h0M532.0 519.4h0M530.8 467.3h0M526.2 515.9h0M527.9 517.2h0M530.6 518.9h0M535.7 477.9h0M530.9 467.5h0M534.1 517.5h0" stroke="#0055ff"/><path d="M533.7 470.5h0M533.6 518.0h0M533.8 517.7h0M527.0 516.3h0M533.6 517.8h0M530.1 518.3h0M526.9 470.1h0M532.7 469.3h0M530.3 518.1h0M520.0 481.7h0M534.7 515.1h0M533.9 516.9h0M535.2 513.5h0M520.0 504.5h0M536.7 492.9h0M533.6 471.3h0M534.0 516.6h0M527.4 470.0h0M535.9 510.5h0M530.2 468.5h0" stroke="#0060ff"/><path d="M535.7 479.6h0M533.8 516.6h0M534.2 473.9h0M527.0 470.6h0M536.2 482.2h0M528.6 516.9h0M536.6 502.1h0M528.0 469.9h0M521.6 508.9h0M535.1 477.7h0M528.3 469.8h0M530.4 469.1h0M533.3 516.7h0M523.2 511.7h0M527.9 470.3h0M531.3 517.5h0M530.1 469.3h0M536.3 506.9h0M532.1 517.2h0M519.8 502.2h0" stroke="#006aff"/><path d="M535.4 511.5h0M531.0 469.8h0M535.9 482.5h0M531.6 517.0h0M533.0 516.1h0M521.9 508.8h0" stroke="#0075ff"/><path d="M532.7 472.5h0M531.3 470.8h0M526.4 514.6h0M527.4 471.4h0M536.3 499.1h0M520.6 505.1h0M524.1 512.2h0M523.7 511.7h0M528.6 515.8h0M536.3 501.1h0M531.3 471.3h0M529.6 516.1h0M534.1 513.4h0M520.0 501.6h0M530.7 471.2h0M519.0 495.1h0" stroke="#0080ff"/><path d="M527.2 472.1h0M536.1 492.6h0M532.5 473.3h0M530.2 515.9h0M533.6 513.9h0M520.0 501.1h0M530.0 471.5h0M530.1 515.8h0M520.2 482.8h0M523.0 476.9h0M536.1 494.8h0M531.8 472.8h0M519.1 495.1h0M530.2 515.7h0M527.0 514.4h0M519.0 493.0h0M523.3 510.4h0" stroke="#008aff"/><path d="M520.8 504.5h0M531.7 472.9h0M535.3 482.0h0M521.3 506.2h0M533.9 477.2h0M535.7 505.6h0M528.6 515.0h0M535.9 500.3h0M525.4 474.3h0M530.2 472.2h0M534.9 509.6h0M528.3 472.4h0M530.0 472.3h0M519.8 498.6h0M535.9 496.3h0" stroke="#0095ff"/><path d="M523.2 509.8h0M532.2 474.3h0M532.2 514.3h0M533.7 477.4h0M527.4 514.0h0M519.4 495.2h0M530.3 472.9h0M526.5 473.8h0M524.5 511.3h0M530.2 473.1h0" stroke="#009fff"/><path d="M520.7 502.5h0M520.3 500.6h0M523.4 509.7h0M529.4 514.4h0M519.3 493.3h0M524.6 511.2h0M533.9 478.7h0M529.7 514.3h0M534.0 510.7h0M533.9 510.8h0" stroke="#00aaff"/><path d="M519.8 497.3h0M535.6 496.4h0M524.2 476.5h0M532.3 513.2h0M530.1 514.1h0M528.0 513.6h0M535.0 506.3h0M530.6 474.1h0M523.5 509.3h0M531.9 475.4h0M527.2 513.1h0M535.3 503.2h0M532.0 475.8h0M532.4 476.3h0M519.9 496.7h0" stroke="#00b5ff"/><path d="M534.4 508.7h0M532.1 476.1h0M527.1 474.4h0M530.5 474.5h0M519.9 496.1h0M535.2 500.9h0" stroke="#00bfff"/><path d="M533.3 478.7h0M526.2 511.9h0M521.4 503.6h0M530.5 513.3h0M523.8 509.1h0M531.1 513.0h0M528.2 513.0h0M528.4 513.0h0M533.9 509.0h0M532.4 511.6h0M535.1 500.9h0" stroke="#00caff"/><path d="M532.2 477.1h0M528.9 512.9h0M526.0 511.3h0M528.8 512.7h0M531.3 476.3h0M534.6 504.7h0" stroke="#00d4ff"/><path d="M529.1 475.0h0M525.5 476.3h0M530.0 475.5h0M528.4 512.3h0M519.8 489.6h0M531.0 476.3h0M530.1 512.4h0M529.8 475.5h0M525.9 510.8h0M529.5 512.4h0M521.8 503.4h0M528.5 475.2h0M533.5 480.7h0M533.9 507.3h0M520.1 494.8h0M534.7 501.6h0" stroke="#00dfff"/><path d="M531.3 511.7h0M534.7 502.2h0M524.1 477.9h0M531.5 477.1h0M528.8 512.1h0M534.9 493.8h0M525.1 509.6h0M526.5 510.9h0M529.8 512.0h0M520.9 484.1h0M527.6 511.5h0" stroke="#00eaff"/><path d="M526.2 510.5h0M534.4 503.4h0M522.9 506.0h0M526.1 476.5h0M520.0 492.2h0M532.0 478.1h0M522.7 480.3h0M534.8 492.6h0M525.9 510.2h0M526.7 510.8h0M534.4 502.1h0M527.5 511.2h0M527.1 476.1h0M532.2 510.0h0" stroke="#00f4ff"/><path d="M534.0 505.3h0M533.8 482.6h0M534.2 503.7h0M534.7 492.1h0M521.9 502.4h0M527.2 510.7h0M524.8 508.6h0M521.9 502.3h0" stroke="#00ffff"/><path d="M534.1 503.0h0M524.5 508.0h0M533.9 483.7h0M534.4 486.8h0M521.5 500.4h0M531.3 478.0h0M532.0 509.3h0M533.4 506.0h0M523.9 479.1h0" stroke="#0bfff4"/><path d="M521.0 497.9h0M534.2 499.9h0M532.1 508.8h0" stroke="#15ffea"/><path d="M530.6 477.8h0M529.6 477.1h0M520.4 491.8h0M529.9 477.3h0M526.2 477.4h0M534.4 492.8h0M533.1 506.1h0M528.7 510.4h0M521.2 497.8h0M530.1 510.2h0M523.5 505.5h0M528.0 510.2h0M521.1 497.1h0M533.9 501.2h0M524.6 478.7h0" stroke="#20ffdf"/><path d="M527.8 477.0h0M530.0 510.0h0M533.7 484.8h0M526.7 477.3h0M531.6 479.3h0M533.7 502.2h0M525.3 478.3h0M525.9 508.5h0M529.7 509.9h0M522.4 502.2h0M522.2 482.6h0M530.0 477.8h0M529.2 509.9h0" stroke="#2bffd4"/><path d="M530.5 478.2h0M527.6 509.5h0M531.7 479.8h0M527.3 477.4h0M520.7 488.3h0M534.1 488.7h0M533.0 505.1h0M528.4 509.6h0M524.8 507.0h0M534.0 495.6h0M532.3 506.9h0M522.2 500.8h0M533.1 504.4h0" stroke="#35ffca"/><path d="M520.8 488.4h0M528.8 509.5h0M522.7 482.0h0M527.4 509.0h0M528.1 509.2h0M521.7 498.3h0M524.1 479.9h0M526.9 508.7h0M528.5 509.3h0M530.1 509.0h0" stroke="#40ffbf"/><path d="M525.6 507.5h0M531.4 507.8h0M532.5 505.7h0M522.4 501.0h0M533.4 501.4h0M523.5 504.0h0M532.1 506.4h0M522.2 483.5h0" stroke="#4affb5"/><path d="M523.5 503.7h0M529.1 508.8h0M521.9 498.7h0M532.0 481.2h0M521.1 494.4h0M523.6 503.8h0M522.1 483.7h0M531.4 480.4h0M524.6 479.8h0M527.9 478.1h0M521.8 497.8h0" stroke="#55ffaa"/><path d="M528.9 508.6h0M527.5 478.2h0M529.5 508.3h0M531.4 480.6h0M532.9 484.0h0" stroke="#60ff9f"/><path d="M526.4 507.3h0M532.0 505.2h0M533.5 495.4h0M527.1 507.7h0M529.7 508.0h0M525.7 506.5h0M533.3 498.2h0M522.3 499.0h0" stroke="#6aff95"/><path d="M529.8 479.2h0M529.5 479.1h0M523.2 501.6h0M525.2 505.6h0M521.7 496.0h0M527.3 507.4h0M526.8 507.2h0M523.5 481.8h0M530.0 507.4h0M528.8 507.7h0M529.2 479.0h0M528.5 478.8h0M533.4 494.6h0M526.6 506.9h0" stroke="#75ff8a"/><path d="M521.8 496.3h0M530.2 507.1h0M528.0 507.5h0M529.1 507.5h0M524.2 503.8h0M531.6 505.1h0M527.7 478.9h0M522.9 483.0h0M529.2 507.4h0M533.4 491.8h0M533.0 498.1h0M531.4 481.6h0" stroke="#80ff80"/><path d="M533.2 494.7h0M530.8 480.7h0M527.8 507.1h0M532.9 486.1h0" stroke="#8aff75"/><path d="M524.4 503.5h0M532.3 501.9h0M533.2 492.3h0M523.3 500.9h0M531.5 504.4h0M533.0 487.1h0M532.5 484.6h0M529.5 506.6h0M528.5 479.4h0" stroke="#95ff6a"/><path d="M530.4 505.7h0M525.2 504.4h0M531.9 483.4h0M523.6 501.2h0M530.2 505.8h0M531.4 503.9h0" stroke="#9fff60"/><path d="M521.6 492.2h0M532.9 494.6h0M531.7 483.1h0M530.8 504.8h0M530.5 481.0h0M523.8 501.3h0" stroke="#aaff55"/><path d="M528.9 480.0h0M529.5 505.9h0M521.7 489.6h0M527.4 505.9h0M523.1 499.2h0M529.3 480.3h0M527.5 505.8h0M529.0 480.2h0" stroke="#b5ff4a"/><path d="M532.9 492.8h0M531.6 502.2h0M523.7 482.9h0M530.3 504.8h0M524.0 501.1h0M523.9 501.0h0M521.9 492.7h0M526.6 505.0h0" stroke="#bfff40"/><path d="M522.5 485.6h0M529.6 505.2h0M527.4 505.3h0M521.9 489.0h0M530.4 504.3h0M532.1 498.9h0M531.7 500.9h0M528.9 505.2h0" stroke="#caff35"/><path d="M532.4 486.6h0M527.6 505.1h0M521.9 489.6h0M524.8 481.8h0M524.9 502.4h0M531.3 502.1h0M525.1 481.5h0M530.8 482.4h0M530.3 503.9h0M529.1 480.8h0M531.2 502.0h0M529.6 481.2h0" stroke="#d5ff2a"/><path d="M531.5 500.9h0M532.5 488.1h0M526.6 504.3h0M522.3 493.9h0M529.3 504.6h0M527.0 504.5h0M525.3 481.5h0M526.0 481.0h0M526.2 503.9h0M523.9 483.1h0M524.2 500.6h0M523.2 497.9h0M525.6 503.1h0" stroke="#dfff20"/><path d="M525.3 502.5h0M529.5 481.4h0M531.6 499.3h0M526.4 503.6h0" stroke="#eaff15"/><path d="M532.4 489.6h0M526.1 503.3h0M528.4 504.3h0M522.2 491.0h0M525.9 503.0h0M531.3 500.2h0M532.0 486.7h0M531.0 501.2h0M524.8 482.4h0M523.5 484.3h0" stroke="#f4ff0b"/><path d="M532.2 494.0h0M523.9 499.1h0M526.1 481.4h0M527.7 503.9h0M531.0 500.9h0M531.5 498.7h0M522.9 495.4h0M528.3 503.8h0M524.7 500.7h0" stroke="#ffff00"/><path d="M531.7 497.1h0M529.3 503.3h0M527.0 481.3h0M527.4 481.2h0M532.0 494.4h0M525.1 501.1h0M526.4 502.8h0M522.5 488.5h0M530.7 483.7h0M526.2 502.6h0" stroke="#fff400"/><path d="M527.9 503.5h0M532.0 494.5h0M523.7 484.6h0M525.8 502.1h0M528.2 481.4h0M529.2 503.1h0M527.0 481.5h0M530.8 500.3h0M528.4 503.2h0M529.6 502.5h0M522.6 488.7h0M531.6 496.3h0" stroke="#ffea00"/><path d="M526.3 502.3h0M527.7 503.1h0M531.0 499.2h0M523.5 485.3h0M524.4 483.5h0M525.6 482.3h0M531.8 494.4h0M531.0 484.8h0M532.0 491.2h0M525.4 482.5h0M526.7 502.4h0" stroke="#ffdf00"/><path d="M532.0 491.3h0M524.9 499.9h0M522.7 491.8h0M529.6 482.7h0M531.5 496.1h0M524.4 498.8h0M530.7 499.8h0M529.1 502.3h0M531.8 488.9h0" stroke="#ffd500"/><path d="M531.4 486.3h0M525.7 501.0h0M524.0 497.6h0M530.5 499.8h0M524.6 483.7h0M531.6 487.5h0M527.8 481.9h0M527.2 502.2h0M526.9 482.0h0M531.0 485.3h0M529.6 501.5h0M531.7 493.7h0M523.1 487.2h0M531.7 488.9h0" stroke="#ffca00"/><path d="M526.3 482.2h0M527.3 482.0h0M531.1 497.4h0M522.8 491.3h0M527.4 482.0h0M524.6 498.6h0M531.3 495.8h0M529.0 501.8h0M531.6 493.0h0M529.4 501.4h0M531.6 488.4h0M531.7 491.8h0M527.2 501.8h0" stroke="#ffbf00"/><path d="M522.9 489.5h0M530.8 497.9h0M524.1 497.2h0M525.4 483.2h0M526.1 482.7h0M526.5 501.1h0M529.3 483.1h0M531.0 496.7h0M526.2 500.8h0" stroke="#ffb500"/><path d="M529.9 500.2h0M529.7 483.6h0M523.6 495.0h0M527.1 501.4h0M525.2 499.2h0M527.6 501.5h0M523.7 495.4h0M531.3 487.9h0M523.0 490.7h0M530.3 484.7h0M526.5 500.8h0" stroke="#ffaa00"/><path d="M529.7 500.0h0M529.6 483.7h0M524.0 496.0h0M524.2 496.8h0M527.4 501.2h0M526.5 500.6h0M530.3 498.3h0M528.9 500.8h0M529.2 500.4h0M528.4 501.0h0" stroke="#ff9f00"/><path d="M529.8 499.5h0M529.9 499.1h0M523.2 490.7h0M526.1 499.8h0M530.7 486.0h0M529.3 500.0h0M530.4 485.4h0M531.3 489.8h0" stroke="#ff9500"/><path d="M529.1 500.2h0M531.3 491.9h0M527.0 500.6h0M523.7 486.8h0M526.2 483.2h0M528.2 483.1h0M529.6 499.3h0M531.1 493.0h0M527.4 483.0h0M530.5 496.5h0M524.5 496.7h0M529.4 499.5h0M524.0 486.4h0M525.5 498.7h0M526.9 500.2h0M526.0 499.4h0" stroke="#ff8a00"/><path d="M529.8 484.7h0M528.7 483.5h0M530.1 485.2h0M526.4 499.7h0M524.5 496.3h0M525.2 484.3h0M530.1 497.6h0M526.9 500.0h0M528.4 483.4h0M527.8 500.2h0M531.1 489.5h0" stroke="#ff8000"/><path d="M527.1 483.2h0M523.8 487.3h0M529.0 483.9h0M526.9 499.9h0M530.9 488.3h0M528.6 499.8h0M529.2 484.1h0M524.2 495.2h0M528.4 499.8h0M530.5 495.5h0M525.9 483.9h0M530.4 486.3h0M525.2 484.5h0M525.0 497.0h0" stroke="#ff7500"/><path d="M529.2 484.2h0M524.7 496.4h0M526.9 483.4h0M530.4 495.8h0M530.1 496.7h0M528.6 483.8h0M530.5 486.9h0M525.6 498.0h0M530.0 496.8h0M530.8 493.5h0M526.4 499.0h0M530.9 489.6h0" stroke="#ff6a00"/><path d="M528.4 483.8h0M530.1 486.0h0M530.8 492.3h0M530.8 491.8h0M526.7 483.8h0M528.1 499.3h0M530.7 493.2h0M525.0 496.4h0" stroke="#ff6000"/><path d="M524.2 486.9h0M527.4 499.2h0M524.9 485.5h0M526.9 483.8h0M530.0 486.0h0M530.4 487.3h0M525.5 497.2h0M527.7 499.0h0M524.8 495.7h0M527.8 499.0h0M529.9 496.3h0" stroke="#ff5500"/><path d="M526.1 497.9h0M524.3 493.9h0M527.4 498.8h0M524.9 485.8h0M528.2 498.6h0M529.7 496.3h0M524.7 495.0h0M528.1 484.2h0M525.4 496.6h0" stroke="#ff4a00"/><path d="M525.9 497.4h0M526.1 497.6h0M527.0 498.4h0M528.6 484.6h0M525.9 497.3h0M524.9 486.0h0M524.5 494.3h0M529.1 497.3h0M525.0 495.6h0" stroke="#ff4000"/><path d="M530.3 492.9h0M524.9 495.1h0M525.9 484.9h0M530.4 488.8h0M529.3 496.7h0M526.1 484.8h0M529.5 496.1h0M526.3 497.4h0M530.3 492.8h0M524.6 487.0h0M524.4 493.1h0M526.7 497.8h0M524.2 492.0h0M525.4 485.5h0M527.9 498.0h0M525.5 485.4h0M525.3 495.8h0M527.2 497.9h0" stroke="#ff3500"/><path d="M526.5 484.6h0M526.7 497.6h0M524.4 487.9h0M525.1 495.2h0M527.6 484.5h0M530.4 490.2h0M526.9 497.6h0M530.1 493.2h0M524.2 489.6h0M527.3 484.6h0M529.5 495.5h0" stroke="#ff2a00"/><path d="M527.3 497.6h0M525.7 485.5h0M527.7 497.6h0M529.6 494.9h0M525.0 494.5h0M524.3 490.8h0M527.5 497.4h0M524.5 492.4h0M528.2 497.2h0M529.6 494.9h0M524.8 493.6h0M527.6 497.3h0M524.5 492.1h0M529.4 495.1h0" stroke="#ff2000"/><path d="M530.0 492.6h0M528.0 485.0h0M526.2 485.2h0M526.4 496.7h0M529.8 487.5h0M525.0 486.8h0M524.9 493.8h0M528.3 496.8h0M527.0 496.9h0M524.4 489.9h0M527.9 497.0h0" stroke="#ff1500"/><path d="M529.9 492.6h0M529.2 486.5h0M527.4 485.1h0M527.9 496.8h0M530.0 490.6h0M524.6 491.7h0M528.9 495.7h0M529.6 487.5h0M529.9 489.0h0M528.9 495.6h0M525.4 494.6h0M527.8 496.6h0M529.8 492.5h0" stroke="#ff0b00"/><path d="M524.5 489.9h0M529.9 491.5h0M525.3 486.8h0M524.7 492.2h0M529.9 490.2h0M526.9 496.4h0M527.5 485.4h0M528.2 496.2h0M525.4 486.9h0M529.0 495.0h0M529.8 491.0h0" stroke="#ff0000"/><path d="M526.1 495.3h0M524.8 491.8h0M529.7 488.5h0M524.8 488.5h0M527.6 496.3h0M526.1 486.0h0M527.1 496.2h0M529.6 492.5h0M525.8 494.7h0M527.9 496.0h0M526.9 495.9h0" stroke="#f40000"/><path d="M529.4 488.0h0M525.1 492.8h0M529.6 491.5h0M526.8 485.8h0M528.3 486.1h0M527.1 495.8h0M524.8 489.9h0M528.6 494.9h0M529.3 492.9h0M526.1 494.8h0M529.4 488.4h0M528.2 486.2h0M527.4 495.7h0M527.8 495.6h0M527.6 495.6h0M526.0 486.5h0" stroke="#ea0000"/><path d="M525.2 488.0h0M529.5 491.3h0M527.1 485.9h0M525.5 487.5h0M526.6 486.2h0M529.3 488.3h0M529.2 492.8h0M528.7 494.4h0M526.4 494.9h0M525.0 490.1h0M525.1 489.1h0M526.1 494.3h0M526.0 486.8h0" stroke="#df0000"/><path d="M525.9 486.9h0M528.3 486.6h0M525.1 490.8h0M525.7 493.6h0M525.1 489.3h0M529.2 492.4h0M527.5 495.1h0M527.0 486.3h0M528.5 487.1h0M529.4 490.5h0M527.3 494.9h0M525.8 493.3h0" stroke="#d50000"/><path d="M528.3 494.3h0M529.3 490.8h0M525.8 487.5h0M528.3 487.0h0M528.0 494.5h0M526.5 486.8h0M527.9 486.8h0M527.9 486.7h0M529.1 491.7h0" stroke="#ca0000"/><path d="M526.1 493.6h0M528.9 488.5h0M527.0 494.4h0M528.0 487.0h0M526.9 486.8h0M525.8 492.6h0M529.1 489.6h0M525.4 490.3h0M527.0 486.9h0M525.7 488.3h0M526.2 487.5h0M529.0 490.2h0M529.0 489.7h0M525.8 488.3h0" stroke="#bf0000"/><path d="M528.0 493.6h0M526.0 492.6h0M526.5 493.4h0M528.1 493.4h0M525.6 489.9h0M528.8 491.5h0M528.8 490.4h0M528.8 489.4h0" stroke="#b50000"/><path d="M526.0 492.3h0M526.7 493.4h0M527.2 493.6h0M526.9 487.5h0M526.6 493.2h0M528.6 492.0h0M527.4 493.5h0M526.4 487.9h0M528.7 491.3h0M527.1 487.5h0M525.9 489.0h0M527.8 487.7h0M528.6 489.3h0M526.0 491.8h0M527.9 493.0h0M526.1 492.1h0" stroke="#aa0000"/><path d="M526.7 487.8h0M526.2 488.7h0M527.8 492.8h0M528.5 490.5h0M526.4 492.3h0M528.1 492.4h0M528.5 490.8h0M527.0 492.9h0M527.7 492.8h0M526.9 488.0h0M526.9 492.7h0M527.7 492.7h0M526.2 489.1h0M528.0 492.3h0" stroke="#9f0000"/><path d="M526.6 488.4h0M527.9 492.3h0M527.7 492.5h0M527.9 492.2h0M526.9 492.3h0M527.9 488.9h0M527.5 492.3h0M527.8 491.9h0M528.1 490.8h0M526.6 491.7h0" stroke="#950000"/><path d="M528.1 489.6h0M526.9 488.7h0M528.1 490.3h0M526.8 488.9h0M526.5 489.7h0M526.9 491.8h0M527.7 491.5h0M527.4 488.9h0M527.6 489.1h0M527.9 489.6h0M527.2 488.9h0M526.5 490.2h0M527.0 489.0h0M526.8 489.2h0M527.8 490.1h0M527.0 491.3h0M527.2 489.2h0" stroke="#8a0000"/><path d="M527.7 490.3h0M527.7 490.2h0M526.8 489.9h0M527.4 491.0h0M526.8 490.4h0M526.9 490.1h0M527.6 490.3h0M527.1 490.9h0M527.0 490.1h0M527.2 489.9h0M527.4 490.3h0" stroke="#800000"/></g>
<g fill="none" stroke-width="4.8" stroke-linecap="round"><path d="M126.0 655.3h0M131.2 647.7h0M132.0 647.8h0M137.1 661.0h0M164.9 662.6h0M157.9 669.0h0M144.8 797.3h0" stroke="#00008a"/><path d="M167.2 722.2h0M134.7 779.0h0M144.9 794.3h0M145.3 792.2h0M144.6 790.4h0M166.6 731.0h0M122.5 739.5h0M145.7 789.1h0M165.7 670.2h0M130.4 655.4h0M130.6 655.5h0M145.8 773.5h0M159.7 671.9h0M146.4 787.8h0" stroke="#000095"/><path d="M151.7 670.6h0M164.0 672.2h0M123.1 743.1h0M132.1 656.3h0M169.2 675.9h0M147.5 786.5h0M156.1 762.5h0M132.5 764.0h0M144.4 765.5h0M167.1 714.3h0M172.1 695.7h0M131.0 774.4h0M153.2 764.2h0M172.5 687.3h0" stroke="#00009f"/><path d="M171.5 695.3h0M133.7 762.8h0M170.8 679.3h0M133.6 762.3h0M136.3 670.3h0M133.4 671.4h0M146.4 784.6h0M128.1 755.9h0M146.0 784.6h0M167.7 711.2h0M146.5 763.7h0M145.8 780.0h0M145.6 781.0h0M145.4 782.7h0M167.6 710.0h0M123.5 730.1h0" stroke="#0000aa"/><path d="M134.9 773.8h0M153.4 674.4h0M169.6 681.0h0M170.4 688.4h0M135.4 769.2h0M134.5 772.1h0M145.1 671.6h0M134.9 770.3h0" stroke="#0000b5"/><path d="M169.3 696.2h0M160.8 680.3h0M168.1 702.9h0M142.5 759.3h0M169.3 694.3h0M169.7 689.8h0M165.4 680.5h0M124.1 731.0h0M167.6 702.5h0M167.8 701.9h0M159.3 680.1h0M156.6 677.3h0M151.9 675.3h0M131.7 757.0h0" stroke="#0000bf"/><path d="M133.8 758.2h0M166.0 704.0h0M149.0 674.1h0M159.6 681.2h0M135.9 758.7h0M125.7 686.1h0M133.7 757.9h0M166.1 702.5h0M133.5 674.1h0M132.9 757.2h0M156.4 678.5h0" stroke="#0000ca"/><path d="M132.8 757.0h0M167.3 693.1h0M134.4 757.5h0M162.3 684.5h0M166.4 698.4h0M164.5 684.3h0M164.8 702.3h0M149.8 675.4h0M166.5 694.7h0M162.2 685.3h0M134.6 757.2h0" stroke="#0000d4"/><path d="M165.2 698.7h0M157.6 755.2h0M165.8 695.2h0M130.7 754.6h0M162.4 717.9h0M129.3 753.1h0M125.5 709.4h0M158.5 682.7h0M140.8 756.1h0M159.3 683.9h0M165.2 696.7h0M126.8 685.0h0" stroke="#0000df"/><path d="M164.8 692.4h0M145.6 674.6h0M137.9 756.3h0M162.0 687.4h0M164.3 698.3h0M131.7 755.0h0M134.3 756.1h0M163.0 703.3h0M164.3 696.5h0" stroke="#0000ea"/><path d="M155.7 756.2h0M125.6 728.0h0M135.6 675.0h0" stroke="#0000f4"/><path d="M161.3 688.9h0M140.4 754.8h0M162.6 699.6h0M155.7 681.1h0M154.2 757.0h0M126.1 718.8h0M130.8 678.8h0" stroke="#0000ff"/><path d="M133.4 676.7h0M127.6 685.8h0M142.8 675.4h0M138.4 675.2h0" stroke="#000bff"/><path d="M129.7 680.8h0M148.8 677.8h0" stroke="#0015ff"/><path d="M147.2 677.4h0M129.6 681.7h0M151.6 756.9h0M161.3 703.3h0M127.9 686.9h0M149.4 756.8h0M160.8 739.3h0M153.6 755.9h0" stroke="#0020ff"/><path d="M128.2 747.1h0M145.5 754.2h0M141.0 753.0h0M133.4 753.2h0M134.9 753.5h0" stroke="#002aff"/><path d="M160.0 745.1h0M156.4 753.0h0M131.8 679.7h0M152.4 681.1h0M144.7 677.3h0M134.8 753.2h0" stroke="#0035ff"/><path d="M137.1 753.1h0M141.9 676.8h0M129.5 683.7h0M130.4 681.8h0M131.0 750.9h0M152.1 681.3h0M129.1 748.1h0" stroke="#0040ff"/><path d="M155.4 684.0h0M136.6 752.8h0M127.6 741.5h0M133.2 752.2h0M147.8 679.3h0M148.6 679.8h0M140.4 751.9h0" stroke="#004aff"/><path d="M140.9 677.3h0M127.4 715.6h0M148.7 754.9h0M160.0 696.1h0M135.3 678.1h0M155.4 753.1h0M160.0 697.0h0M130.3 683.2h0M154.8 683.9h0M132.5 680.2h0M159.3 745.2h0M159.3 692.7h0" stroke="#0055ff"/><path d="M151.1 681.6h0M152.5 682.3h0M154.1 753.9h0M157.6 750.0h0M151.0 755.0h0M146.6 753.1h0M153.3 754.3h0" stroke="#0060ff"/><path d="M127.9 709.4h0M130.7 749.3h0M130.9 682.7h0M139.9 677.8h0M132.2 681.1h0M127.8 717.3h0M154.3 684.2h0M129.4 686.8h0" stroke="#006aff"/><path d="M133.7 751.5h0M152.3 683.0h0M128.8 744.7h0M135.5 679.0h0M159.4 741.7h0M135.9 751.6h0" stroke="#0075ff"/><path d="M156.7 750.4h0M157.7 690.2h0M138.0 751.2h0M129.7 686.9h0" stroke="#0080ff"/><path d="M149.3 753.7h0M148.7 681.6h0M131.3 749.2h0M144.1 679.5h0M154.1 752.8h0M145.3 750.8h0M159.7 723.3h0" stroke="#008aff"/><path d="M159.5 709.9h0M136.1 751.1h0M144.3 679.7h0M150.5 682.8h0M149.6 753.5h0M128.3 694.8h0M154.9 686.2h0M145.7 680.4h0M128.2 736.5h0M128.0 733.1h0M158.3 693.8h0" stroke="#0095ff"/><path d="M128.1 697.8h0M136.5 679.5h0M156.2 688.4h0M153.4 684.8h0M140.7 679.3h0M134.7 750.7h0M143.6 679.9h0M148.0 752.2h0" stroke="#009fff"/><path d="M128.2 698.9h0M152.0 684.2h0M143.1 749.0h0M133.0 682.0h0M158.6 743.1h0M149.3 752.8h0M154.3 751.9h0M146.2 750.5h0M146.4 750.6h0M135.2 680.5h0" stroke="#00aaff"/><path d="M131.1 685.4h0M159.1 732.8h0M137.0 750.2h0M142.6 748.4h0M128.4 701.8h0" stroke="#00b5ff"/><path d="M138.8 679.9h0M150.4 752.7h0M132.5 683.3h0M128.8 737.9h0M128.4 729.6h0M141.3 680.1h0M149.2 683.5h0M158.0 696.3h0" stroke="#00bfff"/><path d="M158.9 733.6h0M128.8 695.4h0M151.9 752.5h0M140.9 748.4h0M128.9 717.3h0M150.9 684.6h0M142.3 747.8h0M148.6 683.6h0" stroke="#00caff"/><path d="M133.2 683.1h0M143.5 747.7h0M136.2 749.8h0M128.8 735.1h0M133.3 749.0h0M148.3 751.2h0M157.6 695.7h0M134.7 681.9h0M150.9 752.2h0M157.9 700.2h0M140.7 680.7h0M143.1 747.3h0M128.8 723.8h0M153.8 687.0h0M156.1 748.9h0" stroke="#00d4ff"/><path d="M154.6 750.6h0M147.2 683.1h0M143.8 747.3h0M128.8 701.1h0M138.0 749.1h0M129.2 738.5h0M150.5 751.9h0M129.5 692.9h0M151.6 685.6h0M146.3 749.1h0M130.9 688.2h0M158.6 712.4h0M153.3 686.9h0" stroke="#00dfff"/><path d="M154.4 750.6h0M152.2 751.8h0M131.3 687.0h0M139.5 681.0h0M143.3 681.7h0M130.4 690.1h0M152.3 751.6h0M129.8 692.2h0M154.5 688.4h0M144.2 682.1h0M158.3 737.7h0M133.4 748.6h0M158.8 727.6h0M158.6 716.7h0" stroke="#00eaff"/><path d="M142.2 746.6h0M149.8 751.3h0M158.4 735.6h0M132.2 685.7h0M141.1 681.5h0M153.4 687.5h0M154.7 689.2h0M132.2 747.4h0M141.5 746.5h0M148.6 684.8h0M154.3 750.3h0" stroke="#00f4ff"/><path d="M152.1 686.6h0M146.4 748.4h0M142.1 681.9h0M129.6 693.9h0M131.4 746.1h0M148.4 750.2h0M129.4 720.5h0M156.4 693.1h0M153.9 688.4h0M143.6 682.4h0M157.4 702.0h0M156.8 694.8h0M134.8 683.0h0M158.6 725.8h0M150.3 685.9h0" stroke="#00ffff"/><path d="M140.1 681.8h0M129.7 738.8h0M157.1 745.0h0M134.5 748.5h0M151.6 686.8h0M131.5 688.1h0M157.7 741.7h0" stroke="#0bfff4"/><path d="M138.0 682.1h0M154.4 749.7h0M130.4 742.4h0M156.5 746.4h0M158.5 725.2h0M147.0 684.8h0M139.3 747.2h0M147.6 748.8h0" stroke="#15ffea"/><path d="M157.3 703.8h0M158.1 713.5h0M153.7 750.0h0M139.0 682.4h0M138.7 682.4h0M146.9 748.0h0M156.4 746.3h0M132.9 747.2h0M130.1 709.2h0M154.4 690.1h0M142.0 744.7h0M153.8 689.3h0M130.4 692.6h0M146.4 684.8h0M152.4 688.0h0M129.5 733.3h0M148.6 686.0h0M135.4 748.2h0M130.1 710.8h0M144.3 683.7h0M143.5 744.4h0M155.2 691.9h0" stroke="#20ffdf"/><path d="M146.8 685.2h0M135.0 683.9h0M139.4 682.7h0M155.5 747.9h0M144.4 683.9h0M129.8 736.3h0M129.8 721.1h0M156.5 696.9h0M155.7 693.5h0M139.8 746.0h0M131.1 743.7h0M151.9 688.0h0M129.8 696.5h0" stroke="#2bffd4"/><path d="M151.0 750.4h0M157.7 737.0h0M139.9 683.1h0M140.3 683.2h0M129.7 733.6h0M155.5 693.3h0M151.3 687.9h0M134.6 747.6h0M138.3 746.9h0M130.9 691.8h0M131.2 743.5h0" stroke="#35ffca"/><path d="M152.2 750.1h0M130.4 707.5h0M132.2 745.7h0M149.0 749.2h0M144.8 744.5h0M138.1 683.4h0M149.9 749.8h0M138.9 683.4h0M143.5 684.2h0M136.7 683.7h0M130.3 738.5h0M135.4 684.4h0M147.2 747.3h0M151.3 688.3h0M154.9 692.5h0M140.6 744.3h0M148.6 748.7h0M130.3 715.0h0M135.8 684.2h0M156.8 743.5h0M138.2 683.6h0" stroke="#40ffbf"/><path d="M147.3 686.6h0M146.3 686.1h0M155.1 693.0h0M143.7 684.6h0M129.9 698.2h0M148.0 748.0h0M130.1 735.8h0M145.1 744.2h0M135.0 684.9h0M136.0 747.4h0M144.3 685.0h0M130.3 714.6h0M133.2 687.0h0M147.7 687.0h0M154.0 748.9h0M152.8 749.5h0M131.5 743.6h0" stroke="#4affb5"/><path d="M153.2 690.2h0M156.3 701.9h0M140.0 744.6h0M144.2 742.6h0M137.3 684.2h0M157.0 741.5h0M130.4 719.2h0M131.8 690.1h0M142.4 741.1h0M153.9 748.7h0M149.2 748.8h0M154.4 692.3h0M130.4 720.0h0M139.7 744.7h0M142.8 684.9h0M151.6 749.6h0M134.7 685.7h0" stroke="#55ffaa"/><path d="M146.8 746.1h0M157.9 728.8h0M134.1 746.6h0M130.3 704.2h0M153.9 691.6h0M138.1 684.4h0M134.3 686.2h0M155.9 699.6h0M138.9 745.3h0M157.2 710.2h0M150.9 689.1h0M136.6 746.8h0M141.4 741.5h0M130.3 722.6h0M132.2 689.7h0M153.4 691.1h0M130.2 701.6h0M135.0 746.8h0M141.6 741.1h0M133.0 745.6h0M130.5 695.5h0M130.3 697.3h0M153.1 749.0h0" stroke="#60ff9f"/><path d="M132.7 688.9h0M136.8 684.9h0M155.3 695.2h0M130.0 727.1h0M131.7 743.1h0M135.6 685.4h0M144.9 686.5h0M136.8 685.0h0M153.1 748.9h0M154.5 693.2h0M130.5 704.3h0M140.5 742.5h0M133.8 687.2h0M130.3 697.2h0M130.1 730.2h0M144.6 709.1h0M152.9 691.0h0M132.1 743.8h0M157.8 726.5h0M153.6 748.5h0M143.6 686.1h0M145.0 686.9h0" stroke="#6aff95"/><path d="M145.9 744.1h0M135.2 685.9h0M155.7 700.0h0M141.3 708.7h0M130.9 713.0h0M140.6 741.7h0M154.4 693.4h0M140.1 685.3h0M146.3 744.6h0M150.8 749.0h0M132.5 689.7h0M130.7 719.9h0M144.6 712.5h0M153.8 692.4h0M146.3 688.2h0M143.4 686.5h0M131.5 692.5h0M154.3 693.4h0M144.3 715.4h0" stroke="#75ff8a"/><path d="M157.2 713.9h0M143.7 686.8h0M152.1 690.8h0M144.2 716.4h0M145.1 687.7h0M146.1 688.4h0M133.8 687.7h0M154.5 747.3h0M134.2 687.4h0M155.4 699.3h0M133.3 688.6h0M157.3 733.9h0M141.0 715.5h0M135.0 686.6h0M143.9 687.1h0M156.6 707.6h0M130.9 737.8h0M149.2 747.9h0M155.5 700.7h0M157.5 730.7h0M131.0 714.4h0M130.6 696.6h0M135.0 686.6h0M131.0 714.9h0M142.8 686.7h0M156.3 706.0h0M142.5 686.6h0M130.5 723.5h0M146.7 689.2h0M139.0 685.8h0M156.9 710.6h0M155.0 746.5h0M146.5 744.4h0" stroke="#80ff80"/><path d="M132.3 690.8h0M133.0 689.3h0M147.9 689.9h0M146.3 689.3h0M155.3 699.1h0M140.4 710.0h0M152.9 692.0h0M140.8 716.4h0M151.5 748.7h0M152.3 691.5h0M137.7 685.9h0M145.2 741.1h0M140.4 710.9h0M145.5 688.9h0M131.8 742.0h0M143.8 687.8h0M146.6 689.7h0M155.1 698.3h0M140.3 686.4h0M147.4 690.1h0M151.1 748.6h0M138.2 686.1h0M140.8 686.7h0M156.8 711.0h0M133.6 745.1h0" stroke="#8aff75"/><path d="M144.2 688.4h0M144.7 739.0h0M144.4 737.9h0M146.1 689.8h0M132.1 691.5h0M157.1 714.6h0M143.5 734.4h0M130.7 701.2h0M140.8 706.4h0M139.6 742.1h0M147.1 690.5h0M131.2 713.4h0M144.5 718.5h0M151.1 691.2h0M140.8 686.9h0M140.4 740.0h0M139.5 686.6h0M140.1 709.6h0M146.4 690.3h0M136.6 686.5h0M154.4 695.2h0M140.4 707.2h0M143.8 688.5h0M145.2 689.6h0M131.3 706.6h0M141.9 704.3h0M145.0 689.5h0M146.6 743.8h0M155.8 704.6h0M141.8 687.6h0M131.4 712.6h0M150.4 691.2h0M131.1 695.1h0M140.3 739.9h0M150.1 691.2h0M142.2 734.7h0M145.6 705.7h0M144.8 689.5h0M131.3 717.8h0" stroke="#95ff6a"/><path d="M131.2 716.4h0M156.4 741.0h0M144.2 721.6h0M139.2 742.6h0M140.3 687.1h0M135.7 687.1h0M145.8 710.5h0M140.3 739.5h0M130.7 700.2h0M149.1 691.4h0M137.2 745.1h0M149.6 691.4h0M132.1 692.2h0M156.8 736.3h0M144.2 723.3h0M137.1 686.7h0M140.2 715.5h0M131.3 738.5h0M149.9 747.7h0M131.2 695.2h0M143.7 689.2h0M155.2 701.9h0M146.2 742.5h0M138.2 686.8h0M145.4 703.0h0M146.0 708.8h0M140.0 713.4h0M141.9 734.0h0M140.5 719.1h0M156.7 738.1h0M139.9 712.6h0M131.7 710.4h0M141.9 733.3h0M147.9 745.6h0M157.1 732.7h0M145.3 691.0h0M131.0 722.1h0M139.7 740.9h0M146.2 691.8h0M130.9 702.2h0M144.2 700.9h0" stroke="#9fff60"/><path d="M146.4 692.1h0M151.1 692.0h0M150.6 691.9h0M156.3 741.2h0M131.0 735.0h0M131.7 711.4h0M146.9 692.4h0M142.7 689.2h0M132.8 743.3h0M154.6 697.6h0M139.9 715.5h0M143.6 689.9h0M131.1 721.9h0M142.4 689.1h0M131.0 696.8h0M133.3 744.0h0M141.4 728.7h0M151.9 692.5h0M131.1 696.4h0M136.6 745.0h0M131.8 740.3h0M131.5 694.4h0M131.0 702.3h0M146.1 710.4h0M146.2 705.1h0M148.4 692.4h0M131.8 711.3h0M155.0 702.1h0M145.2 730.7h0M152.7 693.3h0M132.4 742.1h0M147.4 693.0h0M141.5 732.8h0M140.2 705.8h0M145.0 693.1h0M146.3 702.9h0M138.6 687.5h0M153.7 747.1h0M145.2 728.5h0M137.6 687.3h0" stroke="#aaff55"/><path d="M139.9 717.2h0M146.4 700.3h0M135.1 745.0h0M149.9 692.4h0M136.3 687.5h0M131.5 717.3h0M157.1 722.6h0M135.0 745.0h0M155.2 744.7h0M132.7 691.4h0M140.2 705.5h0M154.2 696.7h0M131.4 737.4h0M139.5 713.1h0M144.1 692.8h0M150.5 692.6h0M149.2 692.8h0M146.5 705.6h0M137.4 744.1h0M134.0 689.3h0M142.7 700.4h0M136.5 687.6h0M148.1 693.5h0M131.3 721.2h0M141.5 689.5h0M131.6 715.2h0M135.8 744.9h0M145.3 732.3h0M150.3 692.7h0M146.5 708.9h0M140.9 724.2h0M134.1 689.4h0M153.4 694.8h0M146.1 712.2h0M135.3 688.2h0M142.3 701.1h0M147.5 694.7h0M142.7 700.0h0M140.4 721.3h0" stroke="#b5ff4a"/><path d="M146.8 704.5h0M145.2 719.3h0M141.8 690.1h0M145.6 738.5h0M153.7 695.6h0M139.5 715.3h0M156.7 735.5h0M147.1 697.9h0M146.7 705.7h0M140.6 704.1h0M143.4 695.7h0M153.8 696.0h0M143.3 693.2h0M155.1 703.8h0M139.8 705.9h0M142.4 700.3h0M147.4 696.2h0M142.7 699.1h0M145.5 728.3h0M145.6 730.0h0M142.8 691.9h0M140.8 689.5h0M149.7 693.3h0M154.3 699.6h0M147.6 695.7h0M139.6 717.6h0M136.8 687.9h0M146.7 707.9h0M145.6 730.1h0M132.0 707.8h0M139.7 705.8h0M147.4 700.1h0M154.9 703.0h0M136.6 688.0h0M131.0 731.1h0M146.1 740.3h0M142.2 700.3h0M140.8 689.7h0M148.1 745.1h0M153.4 747.0h0M139.2 713.5h0M137.9 743.0h0M147.6 697.8h0M140.8 726.5h0M138.4 688.4h0" stroke="#bfff40"/><path d="M145.4 725.8h0M140.0 737.6h0M150.1 747.1h0M140.8 733.7h0M142.4 698.4h0M145.9 738.7h0M131.9 706.2h0M139.1 714.1h0M153.0 695.1h0M148.3 745.1h0M142.3 698.2h0M142.4 693.7h0M154.6 702.5h0M154.2 700.7h0M136.4 744.1h0M148.7 695.4h0M140.3 703.8h0M133.7 743.4h0M152.1 694.3h0M157.0 729.7h0M156.7 718.2h0M154.9 744.6h0M141.9 692.4h0M140.7 729.2h0M148.3 697.2h0M135.2 689.0h0M140.8 690.6h0M135.1 744.2h0M142.0 698.9h0M138.8 711.7h0" stroke="#caff35"/><path d="M139.1 689.2h0M142.2 695.4h0M138.0 742.3h0M137.8 742.6h0M154.3 745.6h0M148.8 695.8h0M149.2 695.2h0M132.4 708.8h0M138.7 740.8h0M140.1 703.8h0M137.1 688.6h0M156.1 710.6h0M141.9 698.0h0M151.9 747.3h0M150.0 694.5h0M132.7 741.3h0M137.7 742.6h0M149.2 695.4h0M153.7 698.2h0M151.6 747.2h0M132.4 693.4h0M149.8 694.9h0M146.5 740.6h0M148.3 701.8h0M146.0 730.9h0M133.1 691.9h0M149.2 695.8h0M145.9 734.6h0M148.0 744.2h0M154.2 745.7h0M131.4 733.0h0M155.7 741.5h0M152.1 694.9h0M155.9 709.6h0M153.6 698.3h0M141.8 695.3h0M134.0 690.6h0M133.1 742.0h0M132.1 715.1h0M132.3 739.6h0M138.9 715.7h0M155.9 740.0h0M152.4 695.3h0" stroke="#d5ff2a"/><path d="M152.6 747.0h0M132.3 712.5h0M139.3 719.6h0M139.2 738.7h0M150.7 694.8h0M155.5 707.3h0M140.4 726.9h0M139.3 705.1h0M134.0 743.1h0M139.4 737.9h0M131.7 703.4h0M146.3 714.6h0M138.5 712.9h0M141.5 694.7h0M146.9 741.5h0M150.7 695.1h0M150.9 746.9h0M149.1 697.7h0M148.9 700.4h0M137.4 689.2h0M141.3 699.0h0M147.5 707.0h0M155.8 709.5h0M150.9 695.1h0M151.4 695.2h0M153.0 696.9h0M140.3 729.7h0M136.1 689.2h0M146.0 717.8h0M148.9 701.2h0M132.7 709.5h0M138.7 715.9h0M146.7 740.5h0M153.8 701.5h0M132.2 715.8h0M156.5 718.6h0M139.7 722.2h0M150.9 695.3h0M138.1 741.2h0M145.8 725.1h0" stroke="#dfff20"/><path d="M146.3 730.3h0M141.2 698.7h0M136.1 743.4h0M132.5 739.7h0M152.7 696.8h0M155.6 708.9h0M153.1 698.1h0M140.7 692.8h0M156.5 719.3h0M139.6 690.9h0M139.9 734.9h0M151.4 695.6h0M152.9 697.3h0M154.8 705.1h0M150.6 695.8h0M149.5 698.2h0M133.3 741.8h0M141.2 697.6h0M145.7 724.1h0M149.5 698.6h0M148.8 745.0h0M153.2 699.4h0M132.1 695.1h0M148.1 705.0h0M156.6 722.5h0M152.9 697.7h0M139.6 691.1h0M154.6 704.6h0M156.8 725.8h0M153.9 702.5h0M151.8 696.0h0M153.3 700.4h0M135.0 743.3h0M141.2 696.1h0M132.7 707.9h0M147.3 709.8h0M140.1 731.3h0M156.4 718.7h0M138.9 705.0h0M146.2 717.3h0M151.3 696.0h0M156.6 731.5h0M140.1 692.0h0M139.7 691.5h0M132.8 710.5h0" stroke="#eaff15"/><path d="M131.3 726.0h0M140.5 693.1h0M131.6 733.3h0M133.1 740.9h0M153.5 701.6h0M150.4 697.1h0M140.6 699.9h0M140.4 692.9h0M139.1 704.4h0M140.0 732.3h0M132.4 716.6h0M132.5 714.4h0M151.8 696.6h0M140.0 731.8h0M131.7 734.0h0M153.2 700.7h0M151.4 696.6h0M154.7 705.5h0M140.7 694.4h0M155.5 709.1h0M131.8 701.8h0M146.4 716.8h0M151.2 746.6h0M146.4 735.4h0M136.1 689.9h0M147.2 741.0h0M132.2 737.5h0M155.4 708.9h0M147.6 709.5h0M151.8 697.2h0M137.7 709.4h0M139.9 730.1h0M154.0 703.6h0M132.3 695.0h0M133.0 710.8h0M139.6 724.1h0M138.0 713.2h0" stroke="#f4ff0b"/><path d="M150.8 697.9h0M152.0 697.9h0M152.8 700.4h0M132.1 721.1h0M152.4 699.3h0M132.1 696.2h0M131.9 702.1h0M134.5 691.1h0M139.8 727.8h0M146.9 739.4h0M151.8 698.2h0M152.1 698.8h0M132.2 703.8h0M147.4 741.2h0M150.7 699.3h0M146.4 717.6h0M132.8 713.1h0M152.4 700.2h0M151.2 698.7h0M151.1 698.8h0M149.3 703.6h0M134.7 742.5h0M151.3 699.1h0M139.6 692.6h0M147.9 708.3h0M138.1 706.0h0M146.8 715.1h0M133.2 710.6h0M138.0 715.5h0M132.7 714.3h0M151.1 699.9h0M147.8 709.1h0" stroke="#ffff00"/><path d="M137.7 712.9h0M133.3 708.7h0M137.6 712.3h0M138.7 704.1h0M131.7 730.0h0M146.8 738.0h0M133.5 740.8h0M150.2 745.7h0M153.1 702.6h0M132.5 737.7h0M134.2 691.7h0M131.7 729.4h0M151.6 700.9h0M155.7 711.6h0M146.6 727.3h0M132.2 721.9h0M135.2 742.3h0M132.2 736.0h0M137.5 740.5h0M148.1 708.3h0M138.6 691.6h0M155.8 737.0h0M146.6 717.4h0M151.0 746.0h0M152.5 701.8h0M132.5 737.6h0M138.5 737.6h0M135.5 742.3h0M132.8 717.0h0M147.3 712.8h0M139.0 722.4h0M151.1 701.6h0M146.8 729.0h0M138.7 691.9h0M140.2 696.6h0M132.4 736.9h0M132.0 700.9h0M156.5 728.5h0M133.3 707.6h0" stroke="#fff400"/><path d="M132.6 719.9h0M151.7 701.7h0M156.1 733.7h0M133.8 740.9h0M137.3 712.6h0M153.8 744.7h0M138.9 703.0h0M154.4 706.1h0M155.5 739.3h0M149.8 745.1h0M147.4 712.5h0M136.9 709.8h0M151.3 702.1h0M151.9 702.2h0M139.9 698.2h0M152.6 702.8h0M136.9 708.6h0M138.0 738.4h0M138.3 720.5h0M133.6 711.1h0M137.9 691.5h0M137.5 715.2h0M152.1 745.8h0M137.5 715.4h0M139.5 700.4h0M138.3 704.1h0M133.8 709.1h0M131.7 726.7h0M139.9 696.2h0M150.9 702.8h0M133.7 708.1h0M133.1 714.3h0M133.3 713.0h0M137.9 718.8h0M136.8 708.4h0M132.4 721.6h0M151.7 702.5h0" stroke="#ffea00"/><path d="M133.3 713.6h0M148.9 706.4h0M151.1 702.7h0M132.8 737.6h0M154.7 707.7h0M132.2 722.6h0M133.3 706.4h0M139.4 694.2h0M147.8 711.3h0M137.7 738.9h0M132.2 700.6h0M134.6 741.4h0M136.7 708.5h0M136.9 712.3h0M133.6 740.0h0M132.9 704.8h0M137.4 716.0h0M138.2 692.2h0M133.8 711.4h0M137.9 704.8h0M133.6 712.5h0M139.2 726.4h0M132.8 704.5h0M132.3 734.0h0M153.5 704.7h0M148.5 708.3h0M150.0 704.4h0M137.3 715.8h0M155.2 740.3h0M138.1 692.2h0M136.4 709.0h0M147.0 727.6h0M147.1 733.6h0M133.6 713.1h0M134.1 710.3h0M132.4 701.7h0" stroke="#ffdf00"/><path d="M147.2 737.2h0M132.9 695.3h0M156.0 719.9h0M147.1 732.7h0M139.2 728.7h0M146.6 724.3h0M133.9 707.6h0M132.2 731.7h0M138.9 732.8h0M134.3 710.1h0M132.9 737.1h0M150.3 704.3h0M138.7 723.0h0M152.6 703.8h0M132.8 736.7h0M148.0 710.9h0M149.2 706.4h0M133.3 694.4h0M134.3 710.5h0M156.0 719.5h0M133.8 712.5h0M156.3 728.8h0M147.1 727.8h0M132.3 700.1h0M138.4 702.8h0M137.4 739.0h0M133.4 705.8h0M135.6 691.7h0M134.6 740.8h0M136.6 691.7h0M138.5 693.2h0M138.6 723.0h0M139.3 695.3h0M137.3 705.5h0M147.4 738.4h0M132.9 704.1h0M132.5 702.1h0M136.2 740.7h0M138.9 700.9h0M134.0 740.0h0M156.2 730.4h0M148.5 709.0h0M135.8 709.4h0M138.5 702.2h0M154.3 742.8h0M138.5 734.8h0M134.7 709.0h0M132.4 733.7h0" stroke="#ffd500"/><path d="M137.2 692.0h0M148.3 710.0h0M135.6 710.0h0M133.1 720.1h0M156.3 726.3h0M139.3 697.6h0M137.3 705.0h0M138.2 735.9h0M135.3 709.1h0M135.1 709.0h0M134.1 693.2h0M135.0 710.5h0M135.7 711.1h0M135.0 708.6h0M135.2 710.5h0M152.3 745.2h0M153.8 743.9h0M135.3 710.9h0M147.3 736.3h0M134.6 707.8h0M138.8 725.3h0M134.8 708.1h0M137.1 717.6h0M134.0 739.6h0M139.1 699.3h0M133.5 718.2h0M146.9 725.1h0M156.2 724.9h0M136.4 713.9h0M132.7 735.1h0M138.7 700.9h0M155.6 714.9h0M134.3 712.6h0M156.2 729.9h0M155.9 733.2h0M135.6 711.9h0M134.5 707.3h0M134.6 707.4h0M134.0 739.4h0M152.0 745.1h0M132.1 728.5h0M137.1 692.4h0M137.0 717.9h0" stroke="#ffca00"/><path d="M155.4 713.4h0M154.5 742.0h0M138.8 725.7h0M149.5 706.6h0M135.4 712.0h0M152.5 704.6h0M136.4 715.0h0M154.2 742.7h0M155.2 711.7h0M135.1 740.3h0M132.2 725.3h0M138.9 699.5h0M134.5 712.9h0M134.8 712.5h0M139.0 698.2h0M136.5 715.8h0M135.8 713.2h0M155.2 738.0h0M155.1 739.1h0M133.5 704.7h0M156.1 724.5h0M132.3 729.7h0M135.7 706.9h0M133.7 718.6h0M136.8 717.9h0M135.9 713.7h0M151.6 704.7h0M152.7 744.6h0M148.8 742.4h0M132.8 734.5h0M132.9 697.1h0M134.0 705.7h0M136.5 716.5h0M134.5 706.4h0M135.4 713.3h0M134.6 739.6h0M135.5 713.5h0M147.7 714.4h0M147.4 716.9h0M136.1 739.6h0" stroke="#ffbf00"/><path d="M135.7 706.5h0M136.3 739.4h0M152.0 744.9h0M137.3 720.2h0M134.8 713.8h0M132.7 700.0h0M147.6 736.4h0M135.6 714.2h0M153.6 706.5h0M132.5 724.2h0M149.7 707.0h0M147.9 713.7h0M136.7 704.8h0M133.8 738.0h0M135.6 692.8h0M135.8 706.2h0M134.2 717.4h0M138.6 699.0h0M132.3 728.7h0M133.7 719.7h0M134.5 693.5h0M136.0 715.8h0M151.1 705.3h0M137.9 722.4h0M132.3 727.3h0M134.4 693.8h0M137.7 702.5h0M149.7 743.4h0M134.3 738.8h0M134.6 715.8h0M137.1 737.2h0M137.2 693.3h0M134.8 715.6h0M135.0 715.3h0" stroke="#ffb500"/><path d="M147.3 718.9h0M138.1 700.8h0M136.2 717.9h0M138.1 694.7h0M133.1 722.0h0M137.9 722.8h0M148.9 741.8h0M152.7 705.7h0M155.5 716.9h0M132.7 731.9h0M133.0 698.2h0M137.3 703.1h0M154.9 711.5h0M132.5 729.3h0M133.1 701.7h0M137.2 693.6h0M132.6 730.2h0M136.7 737.8h0M136.8 704.0h0M132.9 699.8h0M138.3 695.7h0M137.8 734.4h0M147.6 716.6h0M135.2 716.8h0M151.2 705.7h0M134.8 717.3h0M138.4 725.7h0M135.8 717.5h0M138.4 729.6h0M148.3 739.9h0M149.0 709.9h0M133.0 699.2h0M152.6 705.9h0M134.7 717.7h0M151.1 744.4h0M147.9 737.3h0M150.5 706.4h0M132.4 727.2h0M150.4 706.5h0M133.3 735.0h0M138.4 729.1h0M135.3 717.5h0M155.9 724.7h0M134.3 694.3h0M151.8 705.6h0M149.2 709.2h0M132.7 724.0h0M138.1 731.8h0M136.9 693.7h0" stroke="#ffaa00"/><path d="M155.0 712.5h0M135.5 738.8h0M153.8 742.4h0M138.4 727.4h0M133.1 733.5h0M134.9 718.3h0M136.9 736.9h0M133.5 696.3h0M138.3 728.5h0M135.2 738.7h0M133.5 735.6h0M150.9 744.1h0M137.8 733.2h0M135.2 718.4h0M137.7 722.9h0M155.4 734.4h0M135.9 738.3h0M147.9 736.0h0M149.2 709.7h0M137.9 732.6h0M155.4 717.0h0M149.2 709.6h0M154.6 711.1h0M137.1 694.2h0M133.5 702.4h0M132.8 730.0h0M137.4 734.6h0M152.9 706.7h0M153.6 707.7h0M137.8 695.6h0M147.9 732.7h0M133.6 702.6h0M135.6 704.6h0M149.6 742.5h0" stroke="#ff9f00"/><path d="M134.4 720.1h0M137.6 722.9h0M136.0 737.8h0M134.4 704.3h0M155.3 717.5h0M150.2 707.5h0M138.0 698.0h0M137.6 700.7h0M136.3 720.2h0M138.0 724.9h0M147.6 718.6h0M134.2 695.1h0M148.0 730.4h0M147.9 716.0h0M148.4 739.1h0M134.8 694.5h0M148.0 730.3h0M135.6 704.3h0M155.4 718.9h0M136.6 736.3h0M153.0 707.2h0M149.5 709.3h0M152.4 743.7h0M154.6 739.3h0M133.4 700.0h0M135.9 720.1h0M147.5 724.2h0M133.7 735.1h0M148.1 735.4h0M132.8 728.8h0M147.7 718.3h0" stroke="#ff9500"/><path d="M135.9 737.2h0M133.4 699.3h0M134.1 736.0h0M133.1 723.8h0M137.2 733.9h0M136.7 694.6h0M136.9 735.1h0M137.5 696.2h0M134.5 703.6h0M155.7 725.2h0M137.1 734.3h0M137.2 722.6h0M133.6 733.9h0M154.7 738.1h0M155.5 732.0h0M154.8 737.6h0M151.2 743.6h0M148.5 713.5h0M154.6 711.9h0M151.0 707.1h0M134.1 721.4h0M137.6 724.2h0M155.4 720.8h0M136.2 736.3h0M150.8 707.4h0M137.4 732.3h0M136.0 694.5h0M151.6 743.6h0M133.3 731.5h0M137.8 728.9h0M133.0 729.4h0M137.4 723.7h0M149.9 709.1h0M133.7 700.9h0M134.7 720.8h0M134.4 736.2h0M153.3 742.3h0M137.5 698.0h0M133.7 733.9h0M133.9 734.5h0M152.6 707.3h0" stroke="#ff8a00"/><path d="M137.6 724.8h0M133.2 730.4h0M134.5 702.9h0M133.8 722.3h0M148.0 717.3h0M147.6 722.7h0M152.6 743.1h0M149.2 711.1h0M137.0 700.9h0M133.7 698.6h0M136.0 694.9h0M148.9 739.6h0M134.6 702.8h0M135.8 736.1h0M135.1 736.2h0M134.5 696.0h0M137.5 730.4h0M150.0 742.1h0M133.1 728.4h0M148.5 737.0h0M155.3 732.8h0M150.3 742.5h0M135.7 695.1h0M151.0 707.8h0M133.3 730.1h0M135.8 702.6h0M137.5 729.7h0M135.2 736.1h0M134.6 735.5h0M133.8 722.9h0M135.8 721.3h0M148.6 714.2h0M152.3 743.1h0M136.6 734.1h0M136.1 695.3h0" stroke="#ff8000"/><path d="M154.9 735.3h0M134.4 702.1h0M148.9 712.8h0M134.1 701.3h0M136.9 723.2h0M153.5 709.2h0M149.7 710.1h0M147.7 721.9h0M154.4 738.5h0M137.0 699.3h0M134.5 721.8h0M149.1 739.8h0M134.7 735.2h0M135.3 721.5h0M148.4 735.3h0M150.7 708.5h0M134.0 733.1h0M133.6 731.2h0M134.6 722.0h0M134.2 697.7h0M133.4 724.6h0M133.3 728.4h0M136.1 701.3h0M136.9 723.6h0M137.4 725.6h0M136.7 732.6h0" stroke="#ff7500"/><path d="M135.1 735.0h0M135.0 696.3h0M137.1 730.9h0M135.7 696.0h0M149.0 739.0h0M133.5 724.6h0M133.9 732.2h0M153.0 708.8h0M135.6 696.2h0M137.4 728.1h0M136.4 697.0h0M134.5 700.7h0M135.9 734.2h0M136.5 723.2h0M153.2 741.6h0M152.0 742.7h0M134.4 698.7h0M154.1 711.8h0M155.4 729.0h0M136.3 700.1h0M151.5 708.3h0M134.0 731.9h0M133.4 727.9h0M155.0 719.8h0M149.8 710.8h0M135.1 701.0h0M133.5 728.4h0M155.2 731.9h0M148.0 719.7h0" stroke="#ff6a00"/><path d="M134.6 699.1h0M135.0 700.7h0M137.1 729.1h0M134.8 700.3h0M155.0 720.2h0M135.2 697.1h0M136.4 723.4h0M151.4 742.5h0M148.1 725.1h0M136.1 697.8h0M134.9 733.3h0M155.3 730.6h0M136.7 731.0h0M134.9 698.2h0M135.5 722.6h0M148.7 734.9h0M154.9 733.3h0M136.2 732.3h0M153.2 741.1h0M136.1 732.6h0M135.9 698.3h0M148.1 719.9h0M151.8 708.6h0M135.5 733.2h0M135.5 722.7h0M135.0 698.8h0M133.7 725.0h0M136.1 732.4h0M135.4 698.2h0M151.3 742.2h0M135.0 722.9h0" stroke="#ff6000"/><path d="M133.6 726.0h0M148.8 735.8h0M133.6 727.6h0M133.7 728.7h0M155.3 724.5h0M148.1 723.0h0M152.9 741.3h0M150.0 740.7h0M152.2 742.0h0M134.4 731.4h0M151.8 708.9h0M149.3 738.7h0M148.8 715.5h0M155.0 721.3h0M151.2 741.9h0M133.7 727.2h0M133.9 729.1h0M150.9 741.7h0M134.6 731.3h0M136.1 731.0h0M155.3 726.6h0M153.7 739.3h0" stroke="#ff5500"/><path d="M154.9 720.9h0M136.6 729.1h0M134.2 729.8h0M136.3 730.0h0M149.2 714.2h0M148.9 734.7h0M133.9 726.1h0M151.8 709.4h0M153.8 712.4h0M136.1 730.5h0M149.1 736.4h0M134.5 730.3h0M136.5 728.7h0M134.0 727.6h0M153.5 711.6h0M134.1 725.5h0M135.3 723.9h0M148.4 725.5h0M154.2 736.5h0M134.3 728.9h0M135.4 730.7h0M153.1 710.8h0M134.3 725.2h0M150.3 711.3h0" stroke="#ff4a00"/><path d="M148.5 725.5h0M149.0 732.8h0M148.3 723.8h0M149.6 738.7h0M154.3 735.6h0M149.5 713.7h0M136.4 727.3h0M134.1 726.3h0M154.4 735.2h0M134.8 729.8h0M149.1 733.3h0M148.7 718.4h0M135.5 729.7h0M148.9 729.7h0" stroke="#ff4000"/><path d="M135.9 728.8h0M153.4 738.9h0M152.6 710.6h0M135.4 725.0h0M134.8 725.3h0M150.6 740.3h0M153.8 713.5h0M135.2 725.1h0M152.1 740.8h0M135.7 728.4h0M154.4 734.3h0M154.8 722.9h0M153.2 711.8h0M135.6 725.5h0M134.7 726.0h0M155.1 727.2h0M152.9 739.9h0M153.6 738.1h0M150.8 711.2h0M134.7 726.7h0M134.9 727.4h0M149.2 731.8h0" stroke="#ff3500"/><path d="M135.3 726.3h0M135.4 726.8h0M155.0 726.0h0M154.8 729.9h0M150.9 711.5h0M151.4 740.4h0M149.5 715.3h0M153.2 738.6h0M153.5 737.7h0M149.4 735.0h0M151.2 711.3h0M154.0 735.2h0M152.7 711.6h0M150.9 711.8h0" stroke="#ff2a00"/><path d="M154.7 730.2h0M154.5 732.1h0M151.3 739.9h0M149.6 734.6h0M153.0 712.6h0M149.3 729.5h0M154.4 721.2h0M149.7 715.5h0M154.1 718.4h0M150.7 739.0h0M154.5 731.3h0" stroke="#ff2000"/><path d="M153.9 735.0h0M151.2 712.0h0M149.1 719.0h0M149.0 725.7h0M153.9 717.0h0M149.6 716.1h0M153.2 737.6h0M153.2 713.6h0M154.8 727.5h0M152.4 739.1h0M153.2 713.6h0M154.5 723.0h0M151.1 712.4h0M153.0 713.2h0M154.3 721.7h0" stroke="#ff1500"/><path d="M150.2 736.8h0M153.7 735.5h0M149.8 715.7h0M150.3 714.1h0M151.0 738.7h0M149.3 718.4h0M149.9 734.8h0M154.1 720.0h0M150.8 738.2h0M149.8 733.5h0M152.7 738.0h0M149.7 730.8h0M149.0 723.0h0M149.8 732.2h0M153.7 734.8h0M151.8 712.6h0M150.1 715.2h0" stroke="#ff0b00"/><path d="M150.5 714.1h0M154.2 731.9h0M151.7 712.7h0M152.7 737.6h0M152.0 738.4h0M153.1 736.5h0M154.5 725.1h0M149.8 717.1h0M154.3 723.4h0M149.2 720.6h0M149.7 729.5h0M154.0 720.5h0M149.6 728.1h0M150.6 714.6h0" stroke="#ff0000"/><path d="M152.2 713.4h0M150.7 737.0h0M153.8 719.1h0M152.4 713.6h0M150.2 734.8h0M150.0 732.8h0M153.9 732.7h0M150.4 735.6h0M153.7 733.4h0M150.1 733.4h0M149.9 729.9h0M153.3 735.0h0" stroke="#f40000"/><path d="M149.7 727.2h0M152.1 737.3h0M152.5 736.7h0M151.3 714.3h0M153.1 735.2h0M150.7 715.3h0M151.3 737.1h0M154.1 730.3h0M152.9 715.8h0M149.7 727.3h0M150.2 716.9h0M152.2 736.7h0M153.2 734.7h0" stroke="#ea0000"/><path d="M149.9 728.5h0M150.2 717.4h0M153.9 730.7h0M153.7 720.9h0M150.2 730.9h0M154.0 729.6h0M151.3 715.0h0M151.4 736.3h0M152.2 736.2h0M153.2 718.1h0M151.5 736.3h0M153.1 734.1h0M154.0 729.1h0M152.0 736.1h0M150.7 733.9h0M152.3 715.4h0M150.1 728.4h0" stroke="#df0000"/><path d="M149.8 725.8h0M153.0 717.7h0M153.5 732.4h0M153.3 719.4h0M149.7 724.3h0M153.2 719.3h0M154.0 725.3h0M149.7 722.8h0M150.4 718.3h0M153.9 724.7h0M153.9 728.9h0M153.9 728.5h0M154.0 727.3h0" stroke="#d50000"/><path d="M150.3 729.3h0M151.5 716.0h0M151.0 734.2h0M152.1 716.1h0M152.6 716.9h0M152.9 718.1h0M152.5 734.5h0M151.7 734.9h0M152.0 734.9h0M150.4 718.8h0M152.9 733.4h0M152.7 717.8h0M153.9 726.2h0M153.6 722.7h0M153.3 720.6h0M152.4 734.4h0M151.6 734.5h0" stroke="#ca0000"/><path d="M150.7 718.1h0M151.8 716.8h0M150.7 718.4h0M153.3 721.0h0M152.8 733.2h0M150.9 731.6h0M150.2 726.3h0M151.3 717.4h0M152.4 733.7h0M153.5 723.4h0M150.3 720.5h0M150.8 730.2h0M152.4 733.5h0M153.5 729.5h0" stroke="#bf0000"/><path d="M150.3 721.0h0M152.7 719.8h0M150.2 722.7h0M150.3 724.6h0M151.3 718.6h0M151.0 730.3h0M150.4 721.8h0M152.8 720.6h0M152.4 719.2h0" stroke="#b50000"/><path d="M153.3 723.7h0M150.4 725.2h0M153.5 726.3h0M151.1 730.3h0M152.7 731.4h0M150.5 725.7h0M152.0 719.2h0M153.4 725.3h0M153.1 729.5h0M152.8 721.4h0M151.7 719.4h0M153.3 725.2h0" stroke="#aa0000"/><path d="M153.2 728.7h0M152.3 720.4h0M151.0 728.2h0M152.1 731.3h0M151.2 729.3h0M152.1 731.1h0M152.2 720.4h0M152.7 722.0h0M151.3 729.2h0M153.0 729.1h0M151.0 727.3h0M152.3 730.4h0" stroke="#9f0000"/><path d="M152.9 728.8h0M152.2 721.1h0M152.8 723.3h0M150.9 725.9h0M151.8 729.9h0M151.6 729.2h0M152.4 721.9h0M152.7 729.1h0M151.0 722.3h0M153.1 726.5h0M153.0 724.8h0M152.7 729.0h0M153.0 725.6h0M152.3 722.1h0M152.6 723.3h0M151.0 723.4h0M152.0 729.2h0" stroke="#950000"/><path d="M152.7 727.6h0M151.1 724.7h0M152.8 726.1h0M152.4 728.3h0M152.4 723.5h0M151.2 724.5h0M151.9 722.5h0M152.3 723.6h0M151.3 723.9h0M152.6 726.0h0M152.3 727.7h0M152.6 725.3h0M152.3 724.0h0M151.4 724.2h0" stroke="#8a0000"/><path d="M152.5 725.6h0M152.0 723.6h0M152.5 726.0h0M151.7 724.2h0M152.2 725.1h0M152.2 726.3h0M152.0 726.4h0M151.9 725.6h0M152.0 725.9h0" stroke="#800000"/></g>
<g fill="none" stroke-width="4.8" stroke-linecap="round"><path d="M549.3 761.8h0M517.7 712.6h0M527.2 796.1h0M539.3 706.4h0M527.6 705.1h0" stroke="#00008a"/><path d="M518.4 716.5h0M531.7 795.1h0M545.8 736.2h0" stroke="#000095"/><path d="M545.4 785.4h0M533.7 706.4h0M539.6 711.0h0" stroke="#00009f"/><path d="M528.2 791.3h0M529.1 790.9h0" stroke="#0000aa"/><path d="M544.9 757.3h0M523.5 780.8h0M532.3 708.2h0" stroke="#0000b5"/><path d="M539.0 789.7h0M526.0 785.8h0M541.1 717.9h0M523.6 775.3h0M533.5 791.0h0M532.7 790.9h0M544.6 753.4h0M543.4 781.1h0" stroke="#0000bf"/><path d="M530.6 789.8h0M543.5 774.4h0M536.2 711.0h0M522.9 763.7h0M542.6 767.6h0M525.0 781.2h0M540.3 787.1h0M530.2 709.6h0" stroke="#0000ca"/><path d="M534.0 710.2h0M523.4 764.5h0M535.1 789.7h0M542.9 775.9h0M521.8 720.1h0M535.0 711.0h0M524.6 771.6h0M542.5 761.9h0" stroke="#0000d4"/><path d="M534.9 789.3h0M523.2 716.4h0M523.8 715.3h0M539.4 786.7h0M530.5 787.9h0M534.0 789.0h0M524.4 765.5h0" stroke="#0000df"/><path d="M541.8 762.8h0M541.5 770.4h0M541.9 779.6h0M525.5 774.7h0M543.0 756.2h0M542.4 758.8h0M540.8 783.4h0M533.7 788.3h0M524.2 763.8h0M541.1 767.8h0M525.2 767.3h0M525.6 770.9h0" stroke="#0000ea"/><path d="M540.6 721.7h0M540.1 784.3h0M526.6 713.1h0M526.1 775.8h0M529.4 785.4h0M536.9 787.2h0M524.9 764.8h0M541.5 775.9h0M533.1 787.5h0M526.1 774.4h0M530.2 785.8h0" stroke="#0000f4"/><path d="M536.1 787.1h0M527.6 781.7h0M540.9 762.8h0M526.9 778.6h0M540.6 772.0h0M538.6 717.6h0M527.8 781.4h0" stroke="#0000ff"/><path d="M524.5 716.9h0M534.3 786.7h0M539.2 783.6h0M540.3 771.7h0M527.5 780.0h0M536.8 785.8h0M527.0 774.9h0M542.1 755.5h0M527.1 776.1h0M539.9 766.0h0" stroke="#000bff"/><path d="M528.4 781.5h0M526.8 714.3h0M526.9 769.9h0M527.1 771.7h0M526.7 768.3h0M539.7 767.7h0M527.6 713.7h0M540.1 764.0h0M528.7 781.6h0M542.1 753.4h0M532.7 712.7h0M530.5 783.9h0M532.0 712.6h0M539.4 770.2h0M527.4 771.6h0" stroke="#0015ff"/><path d="M540.2 724.3h0M541.3 757.4h0M530.2 783.3h0M528.8 781.0h0M539.3 766.6h0M523.2 754.0h0M525.3 762.2h0M538.4 782.7h0M539.6 779.7h0M539.5 773.6h0" stroke="#0020ff"/><path d="M539.0 781.1h0M539.5 779.2h0M529.3 781.3h0M538.6 719.8h0M538.9 767.9h0M527.8 770.3h0M527.5 768.0h0M539.5 776.7h0M527.5 768.0h0M532.4 784.3h0M529.2 780.6h0M534.3 714.1h0M539.4 775.8h0M531.0 783.0h0M525.8 762.4h0M534.2 784.5h0M529.1 779.8h0M539.1 779.1h0" stroke="#002aff"/><path d="M539.2 777.3h0M539.1 778.6h0M538.5 769.2h0M523.4 726.0h0M528.2 769.7h0M539.0 778.7h0M537.3 782.7h0M538.8 773.7h0M538.7 779.5h0M528.6 775.4h0M538.5 766.4h0M536.6 716.8h0M538.8 721.3h0M538.5 772.5h0M535.6 783.6h0" stroke="#0035ff"/><path d="M538.4 766.2h0M537.3 782.1h0M537.8 781.3h0M528.6 770.2h0M538.0 768.5h0M533.4 714.2h0M538.5 765.0h0M531.4 713.8h0M540.9 734.9h0M538.6 778.1h0M530.0 714.0h0M522.7 741.6h0M538.1 772.3h0M538.0 780.0h0M538.1 772.5h0M527.7 765.4h0M534.3 783.2h0" stroke="#0040ff"/><path d="M539.9 727.0h0M538.3 774.7h0M535.6 716.1h0M537.9 779.8h0M529.2 774.5h0M539.8 759.8h0M538.4 764.6h0M527.8 765.5h0M533.8 783.0h0M537.9 766.4h0M540.1 729.3h0M523.5 730.4h0M538.2 775.5h0M524.7 757.3h0M529.4 775.0h0M530.0 714.3h0M539.2 761.3h0M524.9 757.7h0M532.6 782.1h0M534.9 782.5h0M528.2 765.9h0M538.3 763.9h0" stroke="#004aff"/><path d="M535.1 782.3h0M537.3 770.9h0M533.5 714.9h0M537.3 779.6h0M529.7 773.7h0M538.8 761.8h0M537.3 772.2h0M536.1 781.1h0M537.3 766.5h0M529.0 766.8h0M530.0 773.8h0M537.6 765.2h0" stroke="#0055ff"/><path d="M530.1 775.1h0M533.4 781.6h0M533.6 781.6h0M525.0 757.3h0M530.1 775.0h0M536.9 771.5h0M539.7 758.4h0M530.0 770.2h0M536.7 771.0h0M534.5 781.3h0M530.3 772.7h0M541.2 747.1h0M536.5 769.9h0M536.8 778.7h0M535.1 716.6h0M540.7 753.0h0M527.6 763.3h0M530.4 772.0h0M535.1 780.7h0M536.4 770.5h0" stroke="#0060ff"/><path d="M536.4 770.8h0M526.5 760.8h0M535.7 717.4h0M536.7 766.9h0M528.9 765.5h0M536.1 779.5h0M523.2 744.4h0M525.5 757.9h0M537.4 720.4h0M524.2 728.3h0M524.3 727.3h0M524.3 728.1h0M523.3 743.3h0M530.9 772.1h0M536.3 767.2h0M536.1 773.2h0M529.0 715.8h0" stroke="#006aff"/><path d="M535.9 772.0h0M536.3 776.0h0M527.6 717.0h0M540.5 752.8h0M524.0 750.5h0M535.6 771.2h0M540.4 753.1h0M535.7 772.0h0M530.7 768.3h0M536.0 776.2h0M535.8 777.5h0M532.9 778.9h0M524.7 753.8h0M535.0 778.9h0M535.7 777.4h0M537.8 762.3h0M533.8 779.1h0M528.0 716.9h0M524.9 724.0h0M533.6 779.0h0M531.9 776.4h0M535.6 777.2h0M526.1 759.0h0M536.9 720.0h0" stroke="#0075ff"/><path d="M535.6 774.5h0M533.5 778.6h0M532.8 778.0h0M531.6 769.9h0M535.1 769.3h0M529.0 764.5h0M531.9 774.7h0M535.0 771.6h0M537.9 761.6h0M533.6 716.2h0M537.6 762.3h0M523.6 738.6h0M523.5 740.8h0M534.6 778.0h0M534.7 771.2h0M535.1 776.8h0M535.0 773.3h0M535.0 773.6h0M532.2 773.1h0M526.2 758.9h0M531.1 767.8h0M535.2 776.0h0M533.0 777.4h0M533.8 777.8h0M524.7 727.0h0M532.1 769.8h0M534.8 776.8h0M531.8 768.9h0M534.2 770.9h0M534.6 768.8h0M534.3 769.6h0M534.3 772.6h0M532.8 775.3h0M534.5 776.3h0M532.2 769.1h0M534.5 774.3h0M534.1 769.7h0M534.3 773.5h0M530.3 765.9h0M534.5 775.1h0M533.4 771.0h0" stroke="#0080ff"/><path d="M533.5 770.6h0M534.2 768.9h0M533.2 774.6h0M534.1 774.6h0M532.7 716.1h0M533.9 775.1h0M533.8 768.8h0M528.6 763.2h0M533.3 768.9h0M525.0 725.6h0M535.4 718.3h0M530.2 765.3h0M534.7 717.6h0" stroke="#008aff"/><path d="M524.2 748.8h0M535.7 764.7h0M529.9 716.5h0M524.6 751.0h0M532.8 766.9h0M538.0 724.4h0M530.6 764.9h0M529.6 763.7h0" stroke="#0095ff"/><path d="M531.1 716.4h0M537.1 761.6h0M525.8 755.9h0M533.1 766.5h0M530.4 764.5h0M529.1 717.2h0M531.8 765.7h0M534.8 718.4h0M530.3 764.2h0M525.5 754.3h0M528.4 761.7h0M539.6 735.0h0M530.3 764.1h0" stroke="#009fff"/><path d="M526.2 721.8h0M525.8 723.4h0M525.3 753.3h0M534.7 718.4h0M532.6 765.6h0M539.7 736.0h0M532.5 765.5h0M534.6 764.6h0M534.1 765.0h0" stroke="#00aaff"/><path d="M524.1 741.7h0M526.1 755.8h0M538.5 757.0h0M530.1 763.3h0M528.3 718.5h0M536.8 761.0h0M533.6 717.9h0M535.8 762.5h0M533.3 764.7h0M528.8 718.2h0M536.0 720.8h0M526.3 722.5h0M529.7 762.6h0M534.9 763.5h0M535.4 762.9h0M538.0 726.5h0" stroke="#00b5ff"/><path d="M536.1 761.9h0M532.9 717.6h0M539.3 735.0h0M525.7 753.8h0M529.9 717.7h0M528.3 760.4h0M538.7 730.9h0M529.5 718.0h0M528.8 718.4h0M525.8 725.4h0M535.5 720.3h0M531.6 717.5h0M534.3 763.6h0M531.8 763.8h0M535.0 719.7h0M529.3 761.7h0" stroke="#00bfff"/><path d="M524.8 748.7h0M524.7 736.3h0M535.4 762.1h0M533.6 763.5h0M534.5 762.8h0" stroke="#00caff"/><path d="M536.3 722.3h0M531.9 763.3h0M533.2 763.4h0M525.3 731.4h0M531.7 718.0h0M530.1 718.2h0M533.3 763.2h0M535.9 760.9h0M524.5 744.4h0M532.1 763.0h0" stroke="#00d4ff"/><path d="M530.8 718.2h0M538.9 752.7h0M538.4 755.1h0M525.2 733.9h0M526.0 727.3h0M529.7 761.2h0M526.6 724.2h0M537.6 757.4h0M528.5 759.5h0M528.0 720.6h0M532.0 718.5h0M526.1 753.3h0" stroke="#00dfff"/><path d="M533.5 719.2h0M526.3 726.1h0M536.5 759.4h0M530.0 761.2h0M532.9 762.6h0M531.6 718.5h0M532.0 762.4h0M529.9 761.0h0M528.1 720.8h0M533.9 762.1h0M538.7 752.6h0M532.0 718.7h0M527.1 723.1h0M539.0 751.1h0M534.4 761.7h0M538.9 751.8h0" stroke="#00eaff"/><path d="M537.2 757.5h0M534.5 761.5h0M538.9 736.1h0M534.8 720.9h0M539.4 740.7h0M527.7 757.2h0M527.6 722.2h0M534.0 761.6h0M532.9 719.3h0M526.1 729.3h0" stroke="#00f4ff"/><path d="M525.5 749.6h0M538.9 750.6h0M535.7 759.9h0M531.8 719.1h0M539.2 748.4h0M533.1 761.7h0M535.2 760.4h0M529.8 719.6h0M531.6 761.4h0M539.2 747.5h0M531.0 719.3h0" stroke="#00ffff"/><path d="M528.5 721.1h0M536.6 725.4h0M532.5 719.6h0M536.7 757.7h0M529.8 759.9h0M526.9 725.6h0M525.9 750.7h0M537.7 755.0h0M528.2 757.4h0M531.5 761.0h0" stroke="#0bfff4"/><path d="M535.8 723.7h0M538.2 733.7h0M537.9 754.1h0M533.6 761.0h0M532.6 719.9h0M526.5 728.7h0M525.1 744.6h0M534.3 760.4h0M539.0 748.1h0M534.1 721.2h0M532.7 761.0h0M526.8 727.2h0M536.4 757.7h0M535.1 722.6h0" stroke="#15ffea"/><path d="M529.4 758.9h0M530.4 759.9h0M530.0 720.4h0M536.9 756.5h0M527.4 724.8h0M529.3 758.7h0M532.1 760.7h0M538.2 734.8h0M530.0 720.6h0M536.3 725.6h0M537.2 755.5h0M526.8 728.2h0" stroke="#20ffdf"/><path d="M539.0 741.4h0M534.4 759.8h0M532.4 720.4h0M536.7 727.1h0M526.5 730.3h0M527.3 725.9h0M533.2 760.3h0M537.7 732.4h0M536.8 727.9h0M536.8 756.2h0M527.6 724.8h0M525.7 747.4h0M530.6 720.5h0M525.4 739.8h0M529.2 758.0h0M534.8 722.8h0" stroke="#2bffd4"/><path d="M527.8 724.6h0M525.5 745.5h0M529.8 758.7h0M532.5 760.2h0M536.2 757.1h0M535.9 757.7h0M538.6 748.4h0M527.5 754.4h0M529.0 757.5h0M528.0 724.1h0M530.0 758.8h0M529.1 722.1h0M530.9 759.5h0M530.6 720.9h0M538.8 741.6h0" stroke="#35ffca"/><path d="M534.5 759.1h0M538.2 750.6h0M532.6 721.1h0M534.4 722.8h0M530.6 759.1h0M529.5 757.9h0M530.8 721.1h0M528.0 724.7h0M527.6 726.2h0" stroke="#40ffbf"/><path d="M525.5 744.0h0M529.9 721.8h0M528.8 756.8h0M533.7 722.2h0M537.2 731.1h0M531.9 759.5h0M526.3 749.5h0M527.0 729.9h0M529.9 758.1h0M537.4 732.7h0M530.2 721.8h0M532.3 721.5h0M537.5 733.3h0M533.4 722.2h0" stroke="#4affb5"/><path d="M536.5 728.6h0M531.3 721.4h0M532.4 721.6h0M527.9 754.4h0M533.0 759.2h0M534.6 723.8h0M529.3 722.9h0M531.1 721.6h0M530.1 722.1h0M537.7 751.4h0M534.5 723.7h0M526.6 750.2h0M529.9 722.3h0M526.5 749.3h0" stroke="#55ffaa"/><path d="M533.8 722.9h0M537.6 734.7h0M537.1 753.3h0M536.3 755.5h0M529.7 722.8h0M530.6 722.1h0M537.4 752.3h0M530.3 757.9h0M527.6 728.0h0M526.0 746.1h0M536.3 728.7h0M526.9 750.6h0M525.8 744.4h0" stroke="#60ff9f"/><path d="M535.5 726.4h0M528.0 727.1h0M531.1 722.3h0M534.0 723.8h0M535.2 756.8h0M527.0 731.8h0M537.9 748.9h0" stroke="#6aff95"/><path d="M527.1 731.5h0M533.5 723.4h0M538.3 742.4h0M531.2 758.0h0M529.1 724.5h0M533.4 723.3h0M529.4 724.0h0M538.3 744.8h0M527.8 728.4h0M531.8 722.6h0" stroke="#75ff8a"/><path d="M537.7 736.9h0M536.1 729.2h0M535.4 726.9h0M535.2 726.5h0M531.6 722.8h0M530.0 723.6h0M533.4 723.7h0M526.6 735.6h0M531.6 757.9h0M533.2 723.5h0M527.3 731.3h0M536.5 731.0h0M529.4 755.8h0" stroke="#80ff80"/><path d="M528.3 727.2h0M527.7 729.7h0M533.6 724.0h0M537.3 735.4h0M531.0 757.4h0M535.6 755.4h0M532.4 723.2h0M530.3 723.6h0M536.2 754.1h0M534.2 757.1h0M534.5 756.8h0M536.6 731.8h0M530.7 757.1h0M535.8 754.8h0M531.7 757.5h0M534.2 756.9h0" stroke="#8aff75"/><path d="M535.6 728.2h0M529.3 725.2h0M533.4 724.2h0M535.7 728.6h0M531.3 723.5h0M526.2 741.3h0M528.8 726.5h0M529.6 755.5h0M527.7 730.5h0M526.2 742.4h0M529.3 725.5h0M527.1 749.1h0" stroke="#95ff6a"/><path d="M528.6 727.4h0M527.6 731.3h0M529.1 726.1h0M535.5 728.4h0M532.6 757.2h0M536.5 732.4h0M537.7 739.4h0M537.9 742.3h0M528.3 752.7h0M529.9 725.0h0M531.9 757.1h0M529.7 725.4h0" stroke="#9fff60"/><path d="M530.6 724.4h0M528.1 729.7h0M530.9 756.5h0M534.2 725.9h0M532.1 757.0h0M530.6 756.2h0M534.4 756.1h0M532.9 724.6h0M536.4 752.5h0M530.0 725.2h0M534.7 727.1h0" stroke="#aaff55"/><path d="M528.5 728.7h0M529.7 754.8h0M535.0 755.0h0M531.3 724.6h0M537.5 747.4h0M529.7 754.8h0M530.2 725.4h0M533.3 725.4h0" stroke="#b5ff4a"/><path d="M528.4 729.6h0M527.0 737.1h0M536.1 732.2h0M536.0 752.8h0M526.5 742.7h0M537.7 743.7h0M536.9 736.1h0M536.7 735.3h0M528.1 751.2h0M535.3 729.3h0M532.8 725.2h0M529.7 754.5h0M533.6 726.0h0M534.6 727.7h0M534.9 728.4h0M527.8 750.1h0" stroke="#bfff40"/><path d="M529.9 754.7h0M527.0 737.6h0M534.7 728.0h0M531.6 725.2h0M527.7 749.6h0M533.1 756.0h0M534.0 755.5h0M531.3 725.3h0M536.2 751.8h0M534.0 726.9h0M536.1 732.9h0M527.9 750.1h0M537.6 744.6h0M537.2 747.5h0" stroke="#caff35"/><path d="M528.5 730.3h0M535.0 754.2h0M535.1 729.5h0M533.4 726.2h0M537.5 742.4h0M533.0 755.9h0M535.8 732.1h0M530.3 754.8h0M531.2 725.5h0M526.8 744.9h0M528.2 731.6h0M535.7 752.7h0M531.6 725.5h0M529.8 727.0h0M527.6 735.0h0M529.6 727.6h0M534.4 728.0h0M537.5 744.8h0M537.2 739.3h0M529.3 728.2h0M536.5 735.3h0M535.1 753.8h0" stroke="#d5ff2a"/><path d="M537.1 747.6h0M536.1 733.6h0M536.9 748.6h0M535.7 752.4h0M535.5 731.2h0M536.7 749.2h0M528.3 750.8h0M536.8 737.4h0" stroke="#dfff20"/><path d="M532.4 755.4h0M529.3 752.8h0M536.9 738.2h0M534.7 753.9h0M533.4 755.2h0M531.3 755.0h0M534.6 729.0h0M529.2 729.2h0M532.1 726.2h0M535.2 753.0h0M532.4 755.3h0M527.2 738.3h0M535.5 752.3h0M534.7 753.8h0M534.2 754.4h0M536.1 734.3h0M527.7 748.4h0" stroke="#eaff15"/><path d="M536.9 747.7h0M528.4 732.2h0M534.6 729.4h0M534.9 753.2h0M534.1 728.6h0M534.8 730.2h0M529.4 729.2h0M529.1 730.3h0M536.4 749.6h0M528.6 732.0h0" stroke="#f4ff0b"/><path d="M531.6 754.8h0M533.6 754.5h0M530.1 753.5h0M531.9 754.8h0M530.6 727.5h0M536.9 739.8h0M527.1 742.2h0M536.1 750.3h0M536.7 738.3h0M536.8 747.3h0M529.4 729.7h0M536.0 734.9h0M534.8 730.7h0M536.5 737.5h0M534.1 729.0h0M535.8 750.9h0M528.0 735.2h0M534.5 729.8h0M527.4 738.7h0M531.1 754.3h0M530.6 753.8h0" stroke="#ffff00"/><path d="M529.5 729.7h0M534.8 752.8h0M528.2 749.1h0M533.2 728.0h0M536.3 737.1h0M536.9 745.8h0M532.9 727.7h0M534.1 753.6h0M531.8 754.3h0M537.0 742.8h0M527.4 739.3h0" stroke="#fff400"/><path d="M529.6 730.0h0M528.1 748.6h0M533.8 728.9h0M532.5 727.7h0M527.3 743.5h0M534.1 729.6h0M536.3 737.4h0M528.4 749.4h0M534.0 729.4h0M527.8 747.4h0M536.4 737.9h0M531.9 754.2h0M534.3 753.2h0M533.1 728.3h0M532.9 754.1h0M536.9 741.8h0M529.6 751.9h0" stroke="#ffea00"/><path d="M534.4 730.5h0M529.1 731.8h0M533.4 753.8h0M532.3 754.1h0M536.6 739.1h0M536.8 741.1h0M527.7 746.2h0M534.2 730.2h0M527.4 741.7h0M530.3 729.2h0M531.2 728.2h0M532.5 754.0h0M534.8 731.8h0M533.8 753.3h0M529.6 730.6h0M527.4 743.3h0M531.1 753.4h0M528.8 733.2h0M530.9 753.3h0M535.4 734.1h0" stroke="#ffdf00"/><path d="M527.4 742.1h0M534.1 730.3h0M529.0 732.6h0M534.5 731.5h0M534.2 752.7h0M535.1 733.3h0M536.2 748.2h0M528.1 747.7h0M531.9 753.6h0M530.2 730.0h0M531.3 728.6h0M529.8 730.7h0" stroke="#ffd500"/><path d="M532.3 753.6h0M532.2 753.6h0M532.4 728.7h0M530.6 729.5h0M529.9 751.8h0M527.6 741.5h0M531.6 728.8h0M528.6 749.0h0" stroke="#ffca00"/><path d="M531.5 729.0h0M532.8 729.2h0M532.4 753.3h0M536.1 747.9h0M532.4 753.3h0M531.2 752.9h0M534.9 751.1h0M536.6 741.9h0M528.9 734.1h0M530.8 729.9h0M535.9 737.5h0" stroke="#ffbf00"/><path d="M531.5 752.8h0M536.3 746.3h0M531.9 729.4h0M533.6 730.7h0M528.1 738.3h0M531.1 729.8h0M534.1 731.9h0M532.2 729.6h0" stroke="#ffb500"/><path d="M527.9 740.4h0M534.8 750.8h0M532.8 730.1h0M531.7 729.8h0M533.5 731.0h0M534.6 733.5h0M528.7 748.3h0M536.2 746.4h0M528.1 739.3h0M528.6 736.5h0M531.5 730.1h0" stroke="#ffaa00"/><path d="M528.8 748.5h0M531.7 730.1h0M532.7 752.5h0M532.2 730.1h0M531.7 730.2h0M533.9 732.0h0M535.7 748.0h0M535.3 736.2h0M531.4 752.2h0M535.8 738.5h0M533.0 752.3h0M528.9 735.4h0M528.3 738.3h0M533.6 751.9h0M534.2 751.3h0" stroke="#ff9f00"/><path d="M534.3 751.0h0M529.0 748.5h0M535.4 748.7h0M535.2 736.0h0M533.0 731.1h0M529.9 750.3h0M528.2 745.3h0M534.7 750.2h0M534.7 734.7h0" stroke="#ff9500"/><path d="M534.1 751.1h0M536.0 745.8h0M530.9 731.3h0M532.3 752.1h0M533.9 732.7h0M534.3 733.5h0M528.1 740.7h0M531.9 752.0h0M532.8 731.2h0M532.8 751.9h0M531.6 730.9h0M533.1 731.5h0M529.7 749.7h0M532.6 751.9h0M536.1 742.4h0M530.8 731.8h0M530.0 750.2h0M534.9 735.8h0" stroke="#ff8a00"/><path d="M529.3 735.3h0M533.6 751.3h0M535.5 747.8h0M533.1 731.8h0M528.5 746.3h0M532.1 731.2h0M529.7 734.1h0M530.3 732.8h0M531.4 751.5h0M528.9 736.9h0M534.9 736.0h0M534.4 734.6h0M536.0 744.9h0M528.8 737.4h0M529.5 749.0h0M528.6 746.2h0M533.7 733.1h0M532.1 751.6h0" stroke="#ff8000"/><path d="M530.5 732.7h0M533.6 751.0h0M531.0 732.0h0M529.5 734.9h0M530.7 750.8h0M534.7 749.3h0M530.2 750.1h0M532.4 731.7h0M535.1 737.0h0M535.2 748.2h0M529.9 734.1h0M529.8 734.3h0M534.8 736.2h0M529.2 748.0h0M535.2 748.0h0" stroke="#ff7500"/><path d="M528.4 741.7h0M533.4 733.1h0M528.9 746.8h0M533.1 732.8h0M533.0 751.0h0M529.5 735.7h0M528.6 745.5h0M533.3 733.1h0M528.6 739.8h0M534.2 749.8h0M533.1 750.9h0M534.1 734.6h0" stroke="#ff6a00"/><path d="M532.2 732.3h0M528.5 744.2h0M530.4 749.9h0M528.8 746.0h0M534.5 736.0h0M529.4 747.8h0M532.0 732.4h0M535.3 739.0h0M533.2 733.2h0M529.0 738.2h0M532.0 732.5h0M528.5 742.1h0M534.3 749.4h0M535.6 740.7h0M533.5 733.8h0" stroke="#ff6000"/><path d="M532.0 732.6h0M534.7 748.4h0M530.3 749.4h0M532.2 732.7h0M528.5 742.1h0M534.2 749.3h0M530.5 734.1h0M535.0 738.3h0M533.8 734.7h0M529.2 737.8h0M529.4 747.5h0M532.4 733.0h0M535.6 744.2h0M530.3 749.2h0M531.4 750.3h0" stroke="#ff5500"/><path d="M533.6 749.9h0M530.4 734.4h0M529.8 735.9h0M534.6 737.0h0M531.8 750.4h0M529.5 737.0h0M532.6 750.5h0M528.7 741.7h0M531.0 749.9h0M532.2 733.2h0M529.0 738.9h0M532.7 733.5h0M529.4 747.1h0M529.7 747.8h0M530.9 733.9h0M532.5 750.4h0M533.3 734.4h0M533.5 749.8h0" stroke="#ff4a00"/><path d="M530.8 749.6h0M534.7 737.6h0M534.3 736.4h0M534.6 748.0h0M528.9 744.5h0M533.9 749.2h0M531.2 733.9h0M535.0 746.8h0M528.8 743.0h0M532.3 750.2h0M534.3 736.7h0M533.3 734.6h0M534.9 738.9h0M532.9 734.2h0M529.6 737.3h0" stroke="#ff4000"/><path d="M535.0 746.5h0M535.4 742.7h0M533.0 749.9h0M535.1 746.1h0M532.7 734.1h0M529.4 738.1h0M533.5 749.4h0M529.0 740.2h0M535.3 744.0h0M529.8 736.9h0M533.8 735.8h0M530.5 735.4h0M534.9 739.5h0M529.0 741.2h0M535.3 741.5h0M534.2 736.9h0M531.5 734.2h0M531.9 734.1h0M535.1 740.2h0M534.0 736.3h0M529.7 747.1h0M532.2 734.1h0M530.9 749.2h0" stroke="#ff3500"/><path d="M535.3 743.1h0M529.9 736.9h0M529.5 738.4h0M532.0 749.8h0M534.9 739.7h0M535.2 742.6h0M531.9 749.6h0M533.2 735.2h0M531.4 734.6h0M529.1 744.3h0M532.5 734.6h0M530.7 735.5h0M534.8 746.4h0" stroke="#ff2a00"/><path d="M535.0 740.8h0M529.1 742.5h0M532.8 735.0h0M534.1 737.3h0M532.4 734.8h0M531.9 749.4h0M530.0 747.3h0M532.7 749.3h0M533.4 736.0h0M532.4 734.9h0M529.7 738.2h0M534.5 746.9h0M530.1 737.2h0M529.3 740.8h0" stroke="#ff2000"/><path d="M534.9 745.1h0M531.7 749.2h0M531.0 735.5h0M534.1 737.7h0M530.5 748.1h0M529.3 740.9h0M532.3 735.0h0M532.3 749.2h0M534.4 747.0h0M532.9 749.0h0M532.7 735.4h0M533.5 748.5h0M533.9 737.2h0M529.9 746.7h0M532.8 749.0h0M530.3 737.1h0M532.5 735.4h0M530.7 748.2h0M532.5 749.1h0M530.1 747.1h0" stroke="#ff1500"/><path d="M529.5 745.2h0M533.6 736.9h0M529.5 744.7h0M534.6 740.0h0M531.4 735.7h0M532.6 748.9h0M534.9 744.2h0M530.7 736.5h0M532.6 735.7h0M531.5 748.7h0M529.4 741.1h0M533.0 748.6h0M530.5 737.0h0M530.5 747.5h0M531.8 735.7h0" stroke="#ff0b00"/><path d="M533.9 738.0h0M534.7 741.5h0M530.8 736.6h0M530.4 737.4h0M533.2 748.2h0M534.7 744.2h0M529.9 745.8h0M530.8 736.9h0M532.9 736.4h0M529.5 741.6h0M532.7 736.2h0M533.2 748.1h0" stroke="#ff0000"/><path d="M529.6 740.8h0M530.3 746.7h0M534.7 743.3h0M534.1 746.5h0M532.3 748.4h0M531.3 736.5h0M532.8 736.6h0M530.0 745.8h0M534.3 745.8h0M530.8 737.4h0M532.3 736.5h0" stroke="#f40000"/><path d="M531.9 748.2h0M530.5 746.7h0M533.8 738.8h0M529.8 740.8h0M531.8 736.6h0M530.5 738.2h0M534.1 746.0h0M533.1 747.6h0M531.1 737.3h0M529.7 742.6h0M531.8 736.7h0M532.5 736.8h0M529.9 740.2h0M529.8 743.6h0M531.1 747.4h0" stroke="#ea0000"/><path d="M533.6 746.8h0M533.2 747.3h0M530.6 738.4h0M534.4 743.0h0M533.7 739.0h0M530.0 744.2h0M533.6 738.9h0M530.2 739.8h0M530.5 739.0h0" stroke="#df0000"/><path d="M534.2 741.1h0M532.4 747.6h0M529.9 743.1h0M531.2 737.7h0M531.1 746.9h0M530.5 745.9h0M531.2 738.0h0M533.8 739.8h0M533.5 739.1h0M532.0 737.5h0M533.0 738.1h0M530.1 741.0h0M532.8 747.2h0M531.1 746.8h0M534.1 741.3h0" stroke="#d50000"/><path d="M530.7 739.1h0M533.1 738.5h0M530.3 740.5h0M533.4 746.3h0M530.1 741.6h0M532.1 737.8h0M534.1 743.0h0M531.2 738.4h0M532.5 747.1h0M533.6 745.8h0M530.8 739.0h0M530.5 745.2h0M532.5 738.1h0M531.1 738.6h0" stroke="#ca0000"/><path d="M530.4 744.8h0M533.2 746.4h0M532.4 738.2h0M533.7 745.2h0M533.5 739.9h0M533.3 739.6h0M531.2 746.2h0M532.9 746.5h0M531.5 738.6h0M533.9 743.4h0M530.5 740.7h0" stroke="#bf0000"/><path d="M530.8 745.3h0M531.2 746.0h0M532.1 746.6h0M531.1 745.8h0M532.4 746.5h0M532.6 738.9h0M531.0 739.7h0M531.2 739.3h0M531.8 738.8h0M531.3 739.2h0M532.4 746.4h0M533.7 742.0h0M533.2 740.1h0M531.2 745.7h0M533.3 745.3h0" stroke="#b50000"/><path d="M533.6 744.4h0M533.7 743.0h0M531.4 739.4h0M533.5 741.4h0M530.6 743.1h0M531.0 745.2h0M531.9 746.1h0M531.7 739.2h0M533.6 741.8h0M531.8 746.0h0M533.5 741.5h0M531.0 744.9h0M531.0 740.6h0M531.1 745.0h0M531.2 740.1h0M531.9 739.5h0M530.7 742.4h0M533.2 740.8h0" stroke="#aa0000"/><path d="M533.4 743.9h0M531.4 745.4h0M532.2 745.7h0M531.4 745.2h0M532.3 739.8h0M532.0 739.8h0M532.7 745.4h0M532.6 740.2h0M531.7 740.0h0M531.6 745.3h0M533.0 744.8h0M532.0 740.0h0M531.5 740.4h0" stroke="#9f0000"/><path d="M530.9 742.1h0M531.3 740.8h0M533.1 741.4h0M531.1 743.8h0M531.3 741.0h0M533.2 742.4h0M532.2 745.2h0M532.9 741.3h0M531.7 740.4h0M532.9 744.3h0M531.1 743.4h0M532.6 740.8h0M531.3 741.4h0M532.9 744.2h0M532.1 744.8h0M533.0 742.4h0" stroke="#950000"/><path d="M531.6 744.5h0M531.3 743.6h0M531.6 744.5h0M532.0 741.0h0M531.9 744.4h0M532.5 741.3h0M532.9 742.8h0M531.4 743.0h0M532.1 744.4h0M532.3 741.3h0M532.7 742.2h0M532.2 744.2h0M532.5 743.7h0M531.9 744.0h0" stroke="#8a0000"/><path d="M531.6 742.7h0M532.0 741.8h0M532.0 743.3h0M532.0 743.0h0" stroke="#800000"/></g>
<defs><radialGradient id="ga1" gradientUnits="userSpaceOnUse" cx="0" cy="0" r="1" gradientTransform="translate(152.0 58.5) rotate(21) scale(30 7)"><stop offset="0" stop-color="#00b4ff"/><stop offset="0.3" stop-color="#0078ff"/><stop offset="0.65" stop-color="#0020f0"/><stop offset="1" stop-color="#00009a"/></radialGradient></defs>
<defs><radialGradient id="ga2" gradientUnits="userSpaceOnUse" cx="0" cy="0" r="1" gradientTransform="translate(213.0 73.0) rotate(12) scale(24 5)"><stop offset="0" stop-color="#0000e4"/><stop offset="0.6" stop-color="#0000b8"/><stop offset="1" stop-color="#00008c"/></radialGradient></defs>
<defs><radialGradient id="ga3" gradientUnits="userSpaceOnUse" cx="0" cy="0" r="1" gradientTransform="translate(280.0 83.0) rotate(0) scale(16 4.5)"><stop offset="0" stop-color="#0000e4"/><stop offset="0.6" stop-color="#0000b8"/><stop offset="1" stop-color="#00008c"/></radialGradient></defs>
<path d="M69.0,232.8 70.6,231.7 72.2,231.3 73.9,230.9 75.5,229.8 77.1,229.5 78.7,228.8 80.3,227.6 82.0,226.6 83.6,226.2 85.2,225.9 86.8,224.9 88.4,224.5 90.1,223.9 91.7,222.8 93.3,222.0 94.9,221.3 96.6,220.6 98.2,219.4 99.8,218.9 101.4,218.6 103.0,217.9 104.7,216.8 106.3,216.0 107.9,215.2 109.5,215.3 111.1,213.8 112.8,213.0 114.4,213.1 116.0,211.8 116.0,214.5 114.4,215.5 112.8,216.0 111.1,216.8 109.5,217.3 107.9,218.6 106.3,218.9 104.7,219.6 103.0,220.0 101.4,220.9 99.8,222.0 98.2,223.0 96.6,223.1 94.9,224.1 93.3,224.8 91.7,225.7 90.1,226.1 88.4,226.6 86.8,227.2 85.2,227.8 83.6,229.1 82.0,230.1 80.3,230.0 78.7,231.4 77.1,231.7 75.5,232.9 73.9,233.3 72.2,234.1 70.6,234.7 69.0,235.5Z M116.0,212.5 117.1,212.1 118.2,211.6 118.2,213.3 117.1,213.8 116.0,214.1Z M120.0,210.8 121.1,210.2 122.2,209.9 122.2,211.5 121.1,211.9 120.0,212.5Z M69.0,224.7 70.6,223.5 72.2,222.7 73.9,221.7 75.5,221.8 77.1,220.6 78.8,220.1 80.4,219.0 82.0,218.5 83.6,217.2 85.2,216.7 86.9,216.4 88.5,215.8 90.1,214.4 91.8,214.3 93.4,213.1 95.0,212.5 96.6,212.0 98.2,210.6 99.9,209.9 101.5,209.1 103.1,208.8 104.8,207.5 106.4,207.2 108.0,206.0 109.6,205.5 111.2,204.8 112.9,204.5 114.5,202.9 114.5,207.0 112.9,207.5 111.2,208.3 109.6,208.8 108.0,209.7 106.4,210.7 104.8,211.5 103.1,212.1 101.5,213.0 99.9,213.6 98.2,214.5 96.6,214.9 95.0,216.1 93.4,216.6 91.8,217.3 90.1,218.3 88.5,219.0 86.9,219.0 85.2,220.2 83.6,221.0 82.0,222.0 80.4,222.1 78.8,223.0 77.1,223.5 75.5,224.4 73.9,225.1 72.2,225.9 70.6,227.2 69.0,227.4Z M114.5,204.0 115.7,203.5 116.8,203.0 116.8,205.0 115.7,205.5 114.5,205.9Z M118.8,202.2 119.9,201.6 121.1,200.9 121.1,202.9 119.9,203.4 118.8,204.0Z M69.0,216.5 70.6,215.4 72.2,214.6 73.8,213.7 75.4,213.1 77.0,212.5 78.6,212.2 80.2,210.8 81.8,210.5 83.4,209.4 85.0,208.7 86.6,208.2 88.2,206.9 89.8,206.2 91.4,206.2 93.0,205.0 94.6,204.5 96.2,203.3 97.8,202.5 99.4,202.0 101.0,201.2 102.6,200.5 104.2,200.2 105.8,198.7 107.4,198.4 109.0,197.8 110.6,196.6 112.2,196.6 113.8,195.4 115.4,194.7 117.0,193.7 117.0,198.5 115.4,199.2 113.8,200.6 112.2,201.0 110.6,201.7 109.0,202.9 107.4,203.6 105.8,204.5 104.2,205.1 102.6,205.7 101.0,206.6 99.4,206.7 97.8,207.7 96.2,208.8 94.6,209.3 93.0,210.4 91.4,210.7 89.8,211.7 88.2,211.8 86.6,213.2 85.0,213.9 83.4,214.4 81.8,215.0 80.2,215.6 78.6,216.6 77.0,217.1 75.4,217.9 73.8,219.3 72.2,219.8 70.6,220.3 69.0,220.7Z M117.0,195.1 118.9,194.4 118.9,196.6 117.0,197.5Z M120.5,193.5 122.4,192.7 122.4,195.1 120.5,195.9Z M124.0,208.9 125.6,208.2 127.2,207.4 128.8,206.4 130.4,205.9 132.0,205.0 133.6,204.6 135.2,203.5 136.8,202.6 138.4,201.9 140.0,201.3 141.6,200.4 143.2,200.3 144.8,199.6 146.4,198.3 148.0,198.2 149.6,197.5 151.2,196.3 152.8,195.6 154.4,195.2 156.0,194.9 157.6,193.6 159.2,192.6 160.8,192.3 162.4,191.6 164.0,191.2 165.6,190.6 167.2,189.5 168.8,188.7 170.4,188.4 172.0,187.1 173.6,186.3 175.2,186.4 176.8,185.3 178.4,184.7 180.0,183.8 181.6,183.1 183.2,182.3 184.8,182.0 186.4,180.8 188.0,180.6 189.6,179.6 191.2,178.5 192.8,178.0 194.4,177.4 196.0,176.7 197.6,175.6 199.2,175.6 200.8,174.4 202.4,173.7 204.0,172.9 205.6,172.4 207.2,171.6 208.8,170.9 210.4,170.6 212.0,170.2 213.6,168.9 215.2,168.6 216.8,167.5 218.4,166.8 220.0,166.2 221.6,165.0 223.2,164.6 224.8,163.6 226.4,163.3 228.0,162.9 229.6,162.4 231.2,161.4 232.8,160.8 234.4,159.8 236.0,158.7 236.0,161.7 234.4,162.3 232.8,163.4 231.2,163.4 229.6,164.2 228.0,165.1 226.4,166.1 224.8,166.1 223.2,167.5 221.6,168.1 220.0,168.6 218.4,169.5 216.8,169.9 215.2,171.2 213.6,171.6 212.0,172.1 210.4,172.9 208.8,173.2 207.2,174.2 205.6,175.3 204.0,176.1 202.4,176.4 200.8,177.4 199.2,178.2 197.6,178.8 196.0,179.3 194.4,179.9 192.8,181.0 191.2,181.7 189.6,181.7 188.0,182.5 186.4,183.4 184.8,184.2 183.2,185.2 181.6,185.2 180.0,186.3 178.4,187.0 176.8,188.0 175.2,188.9 173.6,188.8 172.0,190.3 170.4,190.3 168.8,191.0 167.2,192.0 165.6,192.3 164.0,193.0 162.4,194.3 160.8,195.1 159.2,195.2 157.6,196.6 156.0,196.7 154.4,197.8 152.8,198.0 151.2,199.0 149.6,199.4 148.0,200.7 146.4,200.8 144.8,202.3 143.2,203.0 141.6,203.1 140.0,204.3 138.4,204.5 136.8,205.5 135.2,206.1 133.6,206.9 132.0,207.2 130.4,208.2 128.8,208.9 127.2,209.4 125.6,210.4 124.0,211.3Z M191.5,168.4 193.1,167.0 194.7,166.4 196.3,166.1 197.9,164.7 199.6,164.1 201.2,163.6 202.8,162.9 204.4,162.1 206.0,161.5 207.6,160.3 209.2,159.4 210.8,158.8 212.4,158.0 214.1,157.9 215.7,156.6 217.3,156.3 218.9,155.0 220.5,154.9 222.1,154.1 223.7,153.2 225.3,152.0 226.9,151.6 228.6,150.6 230.2,150.2 231.8,149.5 233.4,148.7 235.0,147.5 235.0,151.5 233.4,152.1 231.8,152.2 230.2,153.3 228.6,154.4 226.9,155.0 225.3,155.6 223.7,156.0 222.1,156.8 220.5,157.6 218.9,158.7 217.3,159.3 215.7,160.3 214.1,160.5 212.4,161.2 210.8,162.2 209.2,163.1 207.6,163.6 206.0,164.3 204.4,165.4 202.8,165.9 201.2,166.8 199.6,167.3 197.9,168.0 196.3,169.4 194.7,169.7 193.1,170.2 191.5,171.1Z M192.0,159.1 193.6,158.6 195.3,158.3 196.9,156.7 198.5,156.2 200.2,155.5 201.8,155.0 203.4,153.8 205.1,153.6 206.7,152.9 208.3,151.8 210.0,151.0 211.6,150.2 213.2,149.4 214.9,148.6 216.5,147.6 218.2,147.3 219.8,146.4 221.4,145.5 223.1,145.0 224.7,143.9 226.3,143.6 228.0,142.7 229.6,141.9 231.2,141.3 232.9,140.6 234.5,139.5 234.5,144.5 232.9,144.5 231.2,146.1 229.6,146.5 228.0,147.6 226.3,147.9 224.7,149.1 223.1,149.9 221.4,150.5 219.8,151.2 218.2,151.7 216.5,152.6 214.9,153.0 213.2,153.6 211.6,154.6 210.0,155.3 208.3,156.0 206.7,157.0 205.1,157.8 203.4,158.1 201.8,159.4 200.2,160.3 198.5,160.7 196.9,162.0 195.3,162.1 193.6,162.7 192.0,163.6Z M236.5,159.4 237.9,158.7 237.9,160.2 236.5,161.0Z M236.5,148.0 237.9,147.5 237.9,148.9 236.5,149.6Z M235.5,140.6 236.9,140.1 236.9,141.6 235.5,142.4Z M260.5,148.5 262.1,147.9 263.8,146.6 265.4,145.7 267.0,145.1 268.6,144.4 270.2,144.0 271.9,143.4 273.5,142.3 275.1,142.0 276.8,140.9 278.4,140.4 280.0,139.3 281.6,139.1 283.2,137.8 284.9,137.7 286.5,137.1 288.1,136.1 289.8,135.3 291.4,134.5 293.0,134.1 293.0,136.8 291.4,137.1 289.8,137.6 288.1,138.7 286.5,139.9 284.9,140.3 283.2,141.0 281.6,141.4 280.0,142.4 278.4,143.2 276.8,144.0 275.1,144.2 273.5,144.9 271.9,145.7 270.2,146.2 268.6,147.7 267.0,147.7 265.4,149.1 263.8,149.3 262.1,149.8 260.5,151.2Z M294.0,134.0 295.2,133.4 296.4,132.9 296.4,134.6 295.2,135.1 294.0,135.4Z M298.3,132.2 299.5,131.7 300.7,131.0 300.7,132.6 299.5,133.1 298.3,133.5Z M302.7,130.2 303.9,129.8 305.1,129.1 305.1,130.7 303.9,131.3 302.7,131.8Z M260.5,135.8 262.2,135.6 263.9,134.9 265.5,133.6 267.2,133.2 268.9,132.6 270.6,131.7 272.2,131.0 273.9,129.6 275.6,129.5 277.2,128.5 278.9,127.1 280.6,126.8 282.3,125.6 283.9,125.3 285.6,124.9 287.3,123.4 289.0,123.0 290.6,122.2 292.3,121.8 294.0,120.4 294.0,124.3 292.3,125.3 290.6,125.3 289.0,126.2 287.3,126.9 285.6,127.7 283.9,129.0 282.3,129.2 280.6,130.5 278.9,130.6 277.2,131.6 275.6,132.5 273.9,133.6 272.2,134.3 270.6,134.7 268.9,136.0 267.2,136.5 265.5,137.3 263.9,137.8 262.2,138.6 260.5,139.3Z M295.0,121.1 296.1,120.7 297.2,120.2 297.2,121.6 296.1,122.1 295.0,122.6Z M299.0,119.3 300.1,118.7 301.2,118.3 301.2,119.7 300.1,120.3 299.0,121.0Z M303.0,117.3 304.1,116.9 305.2,116.3 305.2,117.9 304.1,118.6 303.0,119.0Z M266.4,124.8 268.1,124.2 269.8,122.8 271.4,121.5 273.1,120.8 274.8,120.4 276.4,118.5 278.1,118.0 279.8,116.7 281.5,115.4 283.1,114.4 284.8,114.4 286.5,113.2 288.2,112.0 289.8,110.3 291.5,110.3 293.2,109.4 293.2,114.3 291.5,115.7 289.8,116.5 288.2,117.7 286.5,119.2 284.8,119.4 283.1,121.1 281.5,121.4 279.8,122.2 278.1,123.6 276.4,124.0 274.8,125.1 273.1,126.2 271.4,126.9 269.8,129.0 268.1,130.1 266.4,130.3Z M69.0,256.6 70.6,256.1 72.2,255.7 73.9,256.0 75.5,256.4 77.1,255.9 78.8,255.7 80.4,255.9 82.0,256.1 83.6,256.4 85.2,256.2 86.9,256.2 88.5,256.1 90.1,256.3 91.8,256.2 93.4,256.1 95.0,256.3 96.6,255.8 98.2,255.7 99.9,256.0 101.5,256.3 103.1,256.3 104.8,255.8 106.4,256.0 108.0,256.3 109.6,255.5 111.2,256.0 112.9,256.1 114.5,255.7 116.1,255.9 117.8,255.4 119.4,255.7 121.0,255.8 121.0,259.0 119.4,259.2 117.8,259.3 116.1,259.2 114.5,259.5 112.9,259.1 111.2,259.3 109.6,259.2 108.0,259.0 106.4,258.9 104.8,259.1 103.1,259.2 101.5,259.1 99.9,259.1 98.2,258.8 96.6,259.3 95.0,259.3 93.4,259.2 91.8,258.9 90.1,259.4 88.5,259.3 86.9,259.0 85.2,259.3 83.6,259.2 82.0,259.2 80.4,259.0 78.8,259.1 77.1,259.8 75.5,259.6 73.9,259.8 72.2,259.2 70.6,259.7 69.0,259.6Z M69.0,259.7 70.6,259.7 72.2,259.7 73.9,260.1 75.5,259.6 77.1,259.8 78.8,259.7 80.4,259.6 82.0,260.2 83.6,259.7 85.2,260.1 86.9,259.8 88.5,259.4 90.1,259.7 91.8,259.7 93.4,259.4 95.0,260.2 96.6,260.1 98.2,260.0 99.9,259.3 101.5,259.9 103.1,259.7 104.8,259.9 106.4,259.5 108.0,259.9 109.6,259.6 111.2,259.3 112.9,259.5 114.5,259.4 116.1,260.0 117.8,259.3 119.4,259.7 121.0,259.8 121.0,262.5 119.4,262.6 117.8,262.7 116.1,262.6 114.5,262.7 112.9,263.0 111.2,262.9 109.6,263.3 108.0,262.9 106.4,263.3 104.8,262.9 103.1,263.0 101.5,262.6 99.9,262.7 98.2,263.3 96.6,262.7 95.0,263.3 93.4,263.5 91.8,263.0 90.1,263.0 88.5,262.8 86.9,263.5 85.2,262.7 83.6,262.9 82.0,263.1 80.4,263.5 78.8,263.3 77.1,263.1 75.5,263.5 73.9,263.5 72.2,263.1 70.6,263.0 69.0,263.1Z M124.5,255.9 126.1,255.6 127.8,255.8 129.4,255.8 131.0,255.3 132.6,256.0 134.2,255.4 135.9,255.4 137.5,255.4 139.1,255.9 140.8,255.7 142.4,256.0 144.0,255.6 145.6,255.5 147.2,255.8 148.9,255.6 150.5,255.8 152.1,255.5 153.8,255.7 155.4,255.2 157.0,255.6 158.6,255.0 160.2,255.6 161.9,254.9 163.5,255.2 165.1,255.2 166.8,255.2 168.4,254.9 170.0,255.2 171.6,255.6 173.2,255.0 174.9,255.0 176.5,255.3 176.5,258.2 174.9,258.4 173.2,258.4 171.6,258.8 170.0,258.6 168.4,258.7 166.8,258.9 165.1,258.3 163.5,258.5 161.9,258.3 160.2,258.5 158.6,258.5 157.0,258.8 155.4,258.4 153.8,258.6 152.1,259.1 150.5,259.2 148.9,259.0 147.2,259.1 145.6,259.2 144.0,258.7 142.4,258.8 140.8,258.8 139.1,258.6 137.5,258.6 135.9,259.0 134.2,258.7 132.6,258.8 131.0,258.8 129.4,258.8 127.8,259.1 126.1,259.3 124.5,258.9Z M124.5,260.0 126.1,259.9 127.8,259.3 129.4,259.9 131.0,259.7 132.6,259.7 134.2,259.4 135.9,259.5 137.5,259.8 139.1,259.3 140.8,259.8 142.4,259.1 144.0,259.6 145.6,259.0 147.2,259.2 148.9,259.6 150.5,259.7 152.1,259.5 153.8,259.5 155.4,259.4 157.0,259.5 158.6,259.6 160.2,259.5 161.9,259.5 163.5,259.1 165.1,258.9 166.8,259.0 168.4,259.3 170.0,259.3 171.6,259.3 173.2,259.4 174.9,259.0 176.5,259.2 176.5,262.1 174.9,262.2 173.2,262.7 171.6,262.9 170.0,262.3 168.4,262.1 166.8,262.6 165.1,262.5 163.5,262.5 161.9,262.9 160.2,262.9 158.6,262.7 157.0,262.8 155.4,263.1 153.8,262.6 152.1,263.0 150.5,262.8 148.9,262.6 147.2,262.6 145.6,262.9 144.0,262.5 142.4,262.9 140.8,262.4 139.1,262.8 137.5,262.5 135.9,263.0 134.2,262.6 132.6,262.7 131.0,262.4 129.4,263.1 127.8,263.1 126.1,263.0 124.5,263.4Z M193.0,253.7 194.6,253.5 196.2,253.6 197.8,253.5 199.5,253.1 201.1,252.8 202.7,253.1 204.3,253.2 205.9,252.9 207.5,252.6 209.2,252.5 210.8,252.3 212.4,252.8 214.0,252.3 215.6,252.7 217.2,252.9 218.8,252.3 220.5,252.8 222.1,252.8 223.7,252.5 225.3,252.1 226.9,252.6 228.5,252.6 230.2,252.5 231.8,252.2 233.4,251.9 235.0,251.5 235.0,255.3 233.4,255.7 231.8,255.3 230.2,255.8 228.5,255.2 226.9,255.4 225.3,255.9 223.7,256.0 222.1,255.3 220.5,255.8 218.8,256.0 217.2,256.1 215.6,255.4 214.0,256.4 212.4,256.1 210.8,256.1 209.2,255.8 207.5,255.8 205.9,256.2 204.3,256.2 202.7,255.9 201.1,256.1 199.5,256.2 197.8,256.1 196.2,256.6 194.6,256.6 193.0,256.9Z M193.0,258.7 194.6,258.0 196.2,258.4 197.8,258.0 199.5,258.6 201.1,258.5 202.7,258.0 204.3,257.9 205.9,257.6 207.5,257.9 209.2,257.7 210.8,257.7 212.4,257.4 214.0,257.5 215.6,257.5 217.2,257.7 218.8,258.0 220.5,257.4 222.1,257.9 223.7,257.3 225.3,257.8 226.9,257.6 228.5,257.3 230.2,257.6 231.8,257.2 233.4,257.5 235.0,257.2 235.0,260.0 233.4,260.8 231.8,260.8 230.2,260.5 228.5,261.0 226.9,261.1 225.3,260.4 223.7,260.8 222.1,261.1 220.5,260.5 218.8,260.7 217.2,260.9 215.6,260.9 214.0,261.0 212.4,260.7 210.8,261.6 209.2,261.1 207.5,260.8 205.9,261.5 204.3,260.9 202.7,261.8 201.1,261.5 199.5,261.7 197.8,261.6 196.2,261.8 194.6,261.4 193.0,262.1Z M260.5,250.4 262.1,249.8 263.8,249.8 265.4,249.8 267.0,250.2 268.6,249.8 270.2,249.6 271.9,249.4 273.5,249.5 275.1,249.2 276.8,249.7 278.4,249.3 280.0,249.6 281.6,249.3 283.2,249.5 284.9,249.5 286.5,249.3 288.1,249.3 289.8,248.7 291.4,248.6 293.0,248.8 293.0,252.4 291.4,252.7 289.8,252.2 288.1,252.6 286.5,252.4 284.9,252.7 283.2,252.5 281.6,252.6 280.0,252.5 278.4,252.8 276.8,253.4 275.1,253.3 273.5,253.1 271.9,253.6 270.2,253.4 268.6,253.0 267.0,253.5 265.4,253.3 263.8,253.2 262.1,253.9 260.5,253.4Z M260.5,256.2 262.1,256.2 263.8,256.1 265.4,256.1 267.0,255.8 268.6,255.9 270.2,255.9 271.9,255.4 273.5,256.1 275.1,255.8 276.8,255.2 278.4,255.1 280.0,255.1 281.6,255.8 283.2,255.3 284.9,255.2 286.5,254.8 288.1,255.1 289.8,255.5 291.4,254.7 293.0,255.4 293.0,257.8 291.4,258.7 289.8,258.0 288.1,258.9 286.5,258.1 284.9,258.7 283.2,258.8 281.6,258.7 280.0,259.2 278.4,259.2 276.8,259.3 275.1,259.1 273.5,258.8 271.9,259.1 270.2,259.2 268.6,258.8 267.0,259.2 265.4,259.1 263.8,259.3 262.1,259.2 260.5,259.2Z M294.0,249.8 295.2,249.7 296.4,249.8 296.4,251.3 295.2,251.3 294.0,251.4Z M298.3,249.7 299.5,249.6 300.7,249.6 300.7,251.0 299.5,251.2 298.3,251.1Z M302.7,249.3 303.9,249.4 305.1,249.2 305.1,250.9 303.9,250.8 302.7,251.1Z M294.0,255.9 295.2,255.8 296.4,255.7 296.4,257.3 295.2,257.3 294.0,257.4Z M298.3,255.6 299.5,255.7 300.7,255.6 300.7,256.9 299.5,257.1 298.3,257.3Z M302.7,255.3 303.9,255.5 305.1,255.2 305.1,257.0 303.9,257.0 302.7,256.9Z M236.5,252.8 237.9,252.8 237.9,254.3 236.5,254.4Z M236.5,257.8 237.9,258.0 237.9,259.5 236.5,259.4Z" fill="#0000c4"/>
<path d="M69.8,233.2 71.4,232.1 73.0,231.8 74.7,231.0 76.3,230.1 77.9,229.4 79.5,228.9 81.2,228.2 82.8,227.5 84.4,226.7 86.0,225.7 87.6,225.2 89.3,224.6 90.9,223.6 92.5,223.2 94.1,222.4 95.7,221.5 97.4,220.9 99.0,220.3 100.6,219.5 102.2,218.8 103.8,217.8 105.5,217.3 107.1,216.7 108.7,215.7 110.3,215.2 112.0,214.3 113.6,213.8 115.2,212.8 115.2,214.5 113.6,215.3 112.0,216.0 110.3,216.4 108.7,217.4 107.1,217.9 105.5,218.9 103.8,219.4 102.2,220.1 100.6,220.9 99.0,221.6 97.4,222.1 95.7,222.9 94.1,223.6 92.5,224.6 90.9,225.2 89.3,225.8 87.6,226.7 86.0,227.4 84.4,227.9 82.8,228.7 81.2,229.5 79.5,230.3 77.9,230.9 76.3,231.5 74.7,232.1 73.0,232.9 71.4,233.8 69.8,234.4Z M69.8,224.6 71.4,223.9 73.1,223.3 74.7,222.7 76.3,221.9 77.9,221.0 79.6,220.2 81.2,219.4 82.8,218.8 84.4,218.1 86.1,217.4 87.7,216.3 89.3,215.8 90.9,215.1 92.6,214.4 94.2,213.4 95.8,212.6 97.4,212.0 99.1,211.4 100.7,210.4 102.3,209.7 103.9,209.1 105.6,208.3 107.2,207.6 108.8,206.7 110.4,206.1 112.1,205.1 113.7,204.7 113.7,206.1 112.1,207.0 110.4,207.9 108.8,208.5 107.2,209.2 105.6,209.9 103.9,210.6 102.3,211.7 100.7,212.4 99.1,213.0 97.4,213.7 95.8,214.5 94.2,215.4 92.6,216.0 90.9,216.8 89.3,217.7 87.7,218.3 86.1,218.9 84.4,219.8 82.8,220.3 81.2,221.4 79.6,222.0 77.9,222.6 76.3,223.5 74.7,224.3 73.1,225.1 71.4,225.8 69.8,226.4Z M69.8,216.7 71.4,216.2 73.0,215.5 74.6,214.6 76.2,213.8 77.8,213.0 79.4,212.2 81.0,211.8 82.6,211.0 84.2,210.1 85.8,209.3 87.4,208.8 89.0,207.8 90.6,207.3 92.2,206.3 93.8,205.7 95.4,205.0 97.0,204.2 98.6,203.3 100.2,202.8 101.8,202.0 103.4,201.2 105.0,200.5 106.6,199.6 108.2,199.2 109.8,198.5 111.4,197.5 113.0,196.8 114.6,196.2 116.2,195.2 116.2,198.1 114.6,199.0 113.0,199.6 111.4,200.6 109.8,201.1 108.2,201.9 106.6,202.8 105.0,203.4 103.4,204.0 101.8,204.9 100.2,205.7 98.6,206.4 97.0,206.9 95.4,207.8 93.8,208.5 92.2,209.3 90.6,210.2 89.0,211.0 87.4,211.5 85.8,212.3 84.2,213.0 82.6,213.9 81.0,214.5 79.4,215.1 77.8,216.0 76.2,216.8 74.6,217.6 73.0,218.1 71.4,219.1 69.8,219.6Z M124.8,208.6 126.4,208.0 128.0,207.3 129.7,206.8 131.3,206.1 132.9,205.4 134.5,204.5 136.2,203.6 137.8,203.1 139.4,202.4 141.0,201.6 142.7,201.0 144.3,200.3 145.9,199.6 147.5,198.9 149.2,198.1 150.8,197.2 152.4,196.4 154.0,196.1 155.6,195.2 157.3,194.3 158.9,193.8 160.5,193.0 162.1,192.1 163.8,191.6 165.4,190.8 167.0,190.3 168.6,189.4 170.3,188.8 171.9,188.0 173.5,187.3 175.1,186.5 176.8,185.7 178.4,185.1 180.0,184.6 181.6,183.6 183.2,183.1 184.9,182.2 186.5,181.5 188.1,180.8 189.7,180.2 191.4,179.3 193.0,178.9 194.6,178.1 196.2,177.2 197.9,176.5 199.5,176.0 201.1,175.1 202.7,174.5 204.4,173.8 206.0,172.9 207.6,172.4 209.2,171.4 210.8,170.7 212.5,170.1 214.1,169.3 215.7,168.6 217.3,168.0 219.0,167.1 220.6,166.6 222.2,166.0 223.8,165.3 225.5,164.3 227.1,163.6 228.7,162.8 230.3,162.3 232.0,161.7 233.6,160.7 235.2,160.2 235.2,161.2 233.6,162.2 232.0,162.7 230.3,163.6 228.7,164.1 227.1,164.9 225.5,165.7 223.8,166.2 222.2,167.3 220.6,167.8 219.0,168.7 217.3,169.3 215.7,170.2 214.1,170.6 212.5,171.3 210.8,172.0 209.2,172.9 207.6,173.4 206.0,174.4 204.4,174.9 202.7,175.7 201.1,176.5 199.5,177.2 197.9,177.7 196.2,178.4 194.6,179.3 193.0,179.8 191.4,180.9 189.7,181.6 188.1,182.0 186.5,182.9 184.9,183.6 183.2,184.2 181.6,185.1 180.0,185.9 178.4,186.4 176.8,187.4 175.1,187.9 173.5,188.6 171.9,189.2 170.3,190.1 168.6,190.6 167.0,191.3 165.4,192.2 163.8,192.8 162.1,193.8 160.5,194.3 158.9,195.2 157.3,195.7 155.6,196.5 154.0,197.4 152.4,198.1 150.8,198.5 149.2,199.5 147.5,200.2 145.9,200.6 144.3,201.3 142.7,202.3 141.0,203.0 139.4,203.6 137.8,204.4 136.2,205.1 134.5,205.6 132.9,206.5 131.3,207.2 129.7,208.1 128.0,208.8 126.4,209.2 124.8,210.2Z M192.3,168.3 193.9,167.8 195.5,166.9 197.1,166.3 198.7,165.4 200.4,164.5 202.0,164.0 203.6,163.0 205.2,162.4 206.8,161.8 208.4,160.7 210.0,160.1 211.6,159.5 213.2,158.6 214.9,158.1 216.5,157.2 218.1,156.5 219.7,155.8 221.3,155.1 222.9,154.4 224.5,153.5 226.1,152.7 227.8,151.8 229.4,151.1 231.0,150.7 232.6,149.9 234.2,149.1 234.2,150.8 232.6,151.7 231.0,152.4 229.4,153.1 227.8,153.9 226.1,154.4 224.5,155.3 222.9,156.1 221.3,156.9 219.7,157.4 218.1,158.4 216.5,159.0 214.9,159.6 213.2,160.3 211.6,161.3 210.0,162.0 208.4,162.7 206.8,163.5 205.2,164.1 203.6,164.9 202.0,165.7 200.4,166.4 198.7,167.2 197.1,167.8 195.5,168.7 193.9,169.3 192.3,170.1Z M192.8,160.0 194.4,159.2 196.1,158.5 197.7,157.9 199.3,157.0 201.0,156.4 202.6,155.5 204.3,154.8 205.9,154.1 207.5,153.1 209.2,152.4 210.8,151.8 212.4,151.1 214.1,150.2 215.7,149.6 217.3,148.8 219.0,147.8 220.6,147.3 222.2,146.5 223.9,145.5 225.5,144.9 227.2,144.1 228.8,143.6 230.4,142.7 232.1,141.7 233.7,141.1 233.7,143.4 232.1,144.5 230.4,145.0 228.8,145.9 227.2,146.4 225.5,147.3 223.9,148.2 222.2,148.7 220.6,149.5 219.0,150.1 217.3,151.1 215.7,152.0 214.1,152.8 212.4,153.5 210.8,154.3 209.2,155.0 207.5,155.8 205.9,156.2 204.3,157.1 202.6,157.8 201.0,158.8 199.3,159.4 197.7,160.2 196.1,160.8 194.4,161.6 192.8,162.5Z M261.3,148.7 262.9,147.7 264.6,147.1 266.2,146.5 267.8,145.4 269.4,144.9 271.1,144.2 272.7,143.5 274.3,142.7 275.9,142.1 277.6,141.2 279.2,140.6 280.8,139.8 282.4,139.0 284.1,138.3 285.7,137.7 287.3,137.0 288.9,136.2 290.6,135.7 292.2,135.0 292.2,136.3 290.6,137.0 288.9,137.8 287.3,138.5 285.7,139.0 284.1,139.7 282.4,140.5 280.8,141.3 279.2,142.2 277.6,142.7 275.9,143.5 274.3,144.2 272.7,144.8 271.1,145.8 269.4,146.4 267.8,146.9 266.2,147.9 264.6,148.5 262.9,149.1 261.3,149.8Z M261.3,136.6 263.0,135.7 264.7,135.0 266.3,134.2 268.0,133.2 269.7,132.8 271.4,131.8 273.1,131.2 274.7,130.2 276.4,129.4 278.1,128.8 279.8,128.0 281.4,127.3 283.1,126.6 284.8,125.8 286.5,125.0 288.2,124.2 289.8,123.2 291.5,122.4 293.2,121.9 293.2,123.5 291.5,124.3 289.8,125.3 288.2,126.0 286.5,126.8 284.8,127.4 283.1,128.3 281.4,129.0 279.8,130.0 278.1,130.8 276.4,131.4 274.7,132.2 273.1,133.0 271.4,133.6 269.7,134.5 268.0,135.3 266.3,136.0 264.7,137.0 263.0,137.5 261.3,138.3Z M69.8,257.1 71.4,256.8 73.1,256.8 74.7,257.1 76.3,257.0 77.9,256.7 79.6,257.0 81.2,256.8 82.8,257.1 84.4,256.9 86.1,256.9 87.7,256.8 89.3,256.8 90.9,256.6 92.6,256.9 94.2,256.9 95.8,256.7 97.4,256.6 99.1,256.9 100.7,256.8 102.3,256.8 103.9,256.6 105.6,256.8 107.2,256.8 108.8,256.7 110.4,256.8 112.1,256.8 113.7,256.8 115.3,256.5 116.9,256.8 118.6,256.5 120.2,256.7 120.2,258.2 118.6,258.0 116.9,258.4 115.3,258.2 113.7,258.2 112.1,258.4 110.4,258.1 108.8,258.2 107.2,258.2 105.6,258.2 103.9,258.3 102.3,258.3 100.7,258.4 99.1,258.4 97.4,258.5 95.8,258.5 94.2,258.5 92.6,258.6 90.9,258.4 89.3,258.6 87.7,258.5 86.1,258.5 84.4,258.4 82.8,258.5 81.2,258.4 79.6,258.4 77.9,258.4 76.3,258.5 74.7,258.6 73.1,258.4 71.4,258.5 69.8,258.7Z M69.8,260.8 71.4,260.7 73.1,260.9 74.7,260.8 76.3,260.9 77.9,260.6 79.6,260.9 81.2,260.7 82.8,260.8 84.4,260.7 86.1,260.6 87.7,260.9 89.3,260.6 90.9,260.8 92.6,260.5 94.2,260.7 95.8,260.6 97.4,260.8 99.1,260.8 100.7,260.7 102.3,260.7 103.9,260.8 105.6,260.4 107.2,260.6 108.8,260.5 110.4,260.6 112.1,260.4 113.7,260.3 115.3,260.4 116.9,260.4 118.6,260.3 120.2,260.5 120.2,262.0 118.6,261.9 116.9,262.0 115.3,262.1 113.7,262.0 112.1,262.3 110.4,262.3 108.8,262.3 107.2,262.3 105.6,262.0 103.9,262.1 102.3,262.2 100.7,262.3 99.1,262.1 97.4,262.1 95.8,262.1 94.2,262.4 92.6,262.5 90.9,262.4 89.3,262.3 87.7,262.3 86.1,262.3 84.4,262.3 82.8,262.5 81.2,262.5 79.6,262.2 77.9,262.3 76.3,262.2 74.7,262.3 73.1,262.4 71.4,262.3 69.8,262.3Z M125.3,256.5 126.9,256.6 128.6,256.5 130.2,256.5 131.8,256.3 133.4,256.5 135.1,256.4 136.7,256.4 138.3,256.5 139.9,256.6 141.6,256.4 143.2,256.2 144.8,256.2 146.4,256.2 148.1,256.1 149.7,256.2 151.3,256.4 152.9,256.3 154.6,256.1 156.2,256.3 157.8,256.4 159.4,256.1 161.1,256.3 162.7,256.0 164.3,256.1 165.9,256.0 167.6,256.2 169.2,256.3 170.8,255.9 172.4,256.2 174.1,256.1 175.7,256.0 175.7,257.8 174.1,257.8 172.4,257.5 170.8,257.8 169.2,257.6 167.6,257.6 165.9,257.6 164.3,257.9 162.7,257.9 161.1,257.9 159.4,257.8 157.8,257.8 156.2,257.9 154.6,257.7 152.9,257.9 151.3,258.0 149.7,258.0 148.1,257.8 146.4,258.0 144.8,258.1 143.2,258.0 141.6,257.9 139.9,258.2 138.3,258.2 136.7,258.3 135.1,258.0 133.4,258.3 131.8,258.0 130.2,258.2 128.6,258.1 126.9,258.0 125.3,258.2Z M125.3,260.3 126.9,260.5 128.6,260.3 130.2,260.4 131.8,260.6 133.4,260.6 135.1,260.4 136.7,260.3 138.3,260.2 139.9,260.5 141.6,260.3 143.2,260.3 144.8,260.2 146.4,260.1 148.1,260.1 149.7,260.1 151.3,260.2 152.9,260.4 154.6,260.2 156.2,260.3 157.8,260.3 159.4,260.3 161.1,260.0 162.7,260.3 164.3,260.1 165.9,260.2 167.6,260.0 169.2,260.2 170.8,260.2 172.4,259.9 174.1,260.2 175.7,260.0 175.7,261.6 174.1,261.6 172.4,261.8 170.8,261.8 169.2,261.7 167.6,261.8 165.9,261.8 164.3,261.8 162.7,261.8 161.1,261.6 159.4,261.7 157.8,261.7 156.2,262.0 154.6,261.9 152.9,261.8 151.3,262.0 149.7,261.9 148.1,261.8 146.4,262.1 144.8,262.0 143.2,261.9 141.6,261.9 139.9,262.0 138.3,262.1 136.7,261.9 135.1,262.1 133.4,262.0 131.8,262.2 130.2,262.1 128.6,262.2 126.9,262.0 125.3,262.0Z M193.8,254.2 195.4,254.2 197.0,254.0 198.6,254.1 200.3,254.0 201.9,253.9 203.5,254.0 205.1,254.0 206.7,253.7 208.3,253.8 210.0,253.7 211.6,253.6 213.2,253.4 214.8,253.7 216.4,253.2 218.0,253.3 219.7,253.4 221.3,253.3 222.9,253.2 224.5,253.2 226.1,253.1 227.7,253.2 229.4,253.1 231.0,252.8 232.6,252.7 234.2,252.9 234.2,254.5 232.6,254.4 231.0,254.5 229.4,254.5 227.7,254.5 226.1,254.8 224.5,254.8 222.9,254.8 221.3,254.8 219.7,255.0 218.0,255.2 216.4,254.8 214.8,255.0 213.2,255.1 211.6,255.1 210.0,255.2 208.3,255.1 206.7,255.3 205.1,255.4 203.5,255.6 201.9,255.5 200.3,255.5 198.6,255.6 197.0,255.6 195.4,255.6 193.8,255.9Z M193.8,259.2 195.4,259.1 197.0,259.1 198.6,259.1 200.3,259.1 201.9,259.1 203.5,259.0 205.1,259.0 206.7,258.8 208.3,258.8 210.0,258.6 211.6,258.6 213.2,258.4 214.8,258.5 216.4,258.6 218.0,258.5 219.7,258.6 221.3,258.4 222.9,258.4 224.5,258.3 226.1,258.1 227.7,258.2 229.4,258.1 231.0,258.2 232.6,258.2 234.2,258.0 234.2,259.6 232.6,259.8 231.0,259.9 229.4,259.6 227.7,259.7 226.1,259.8 224.5,260.1 222.9,260.0 221.3,260.1 219.7,260.2 218.0,260.0 216.4,260.2 214.8,260.1 213.2,260.2 211.6,260.3 210.0,260.3 208.3,260.4 206.7,260.4 205.1,260.4 203.5,260.4 201.9,260.6 200.3,260.7 198.6,260.8 197.0,260.8 195.4,260.9 193.8,260.7Z M261.3,251.0 262.9,251.0 264.6,250.9 266.2,251.1 267.8,250.9 269.4,250.9 271.1,250.7 272.7,250.4 274.3,250.5 275.9,250.6 277.6,250.6 279.2,250.3 280.8,250.1 282.4,250.2 284.1,249.9 285.7,249.9 287.3,249.9 288.9,250.1 290.6,249.7 292.2,249.6 292.2,251.6 290.6,251.6 288.9,251.7 287.3,251.5 285.7,251.6 284.1,251.8 282.4,251.8 280.8,251.8 279.2,251.9 277.6,252.3 275.9,252.4 274.3,252.2 272.7,252.3 271.1,252.5 269.4,252.5 267.8,252.7 266.2,252.8 264.6,252.6 262.9,252.9 261.3,252.8Z M261.3,256.9 262.9,257.0 264.6,256.8 266.2,257.1 267.8,256.7 269.4,256.6 271.1,256.7 272.7,256.8 274.3,256.6 275.9,256.5 277.6,256.3 279.2,256.5 280.8,256.4 282.4,256.3 284.1,256.0 285.7,256.2 287.3,256.1 288.9,256.1 290.6,256.0 292.2,255.9 292.2,257.4 290.6,257.4 288.9,257.7 287.3,257.6 285.7,257.8 284.1,257.7 282.4,257.8 280.8,257.8 279.2,258.1 277.6,258.0 275.9,258.0 274.3,258.2 272.7,258.3 271.1,258.2 269.4,258.3 267.8,258.6 266.2,258.3 264.6,258.7 262.9,258.6 261.3,258.7Z" fill="#0000ff"/>
<path d="M122.8,51.8 125.4,49.4 126.6,48.8 128.2,49.6 129.7,48.4 131.5,48.6 133.2,49.2 134.7,49.9 136.7,50.3 138.5,50.7 140.4,50.5 141.4,51.0 143.2,52.4 145.3,52.7 146.4,53.0 148.4,53.5 150.2,54.9 151.6,55.0 153.6,55.3 154.8,56.4 157.0,55.9 158.5,56.8 159.6,57.1 161.4,58.4 163.1,58.1 164.8,59.6 166.7,60.0 168.3,60.0 169.6,60.8 171.3,62.0 173.3,63.5 174.9,65.1 176.4,66.1 176.8,68.1 174.8,68.0 173.2,67.8 172.0,67.7 170.3,68.4 168.6,67.3 166.7,67.9 164.8,66.6 163.5,66.3 161.7,65.9 160.4,65.7 158.0,65.6 156.5,64.9 155.0,64.8 153.3,63.5 151.3,63.1 149.8,62.6 148.4,61.9 146.3,61.3 145.0,60.9 143.7,59.9 141.6,59.1 140.2,58.7 138.6,58.9 136.5,58.6 135.0,57.6 133.4,57.7 131.7,56.7 129.8,56.7 128.5,56.0 126.8,55.8 125.8,56.4 124.4,56.4 122.5,55.8Z" fill="url(#ga1)"/>
<path d="M193.1,70.4 194.7,69.4 196.2,67.6 197.8,67.8 198.8,68.6 200.1,68.1 201.9,68.5 203.6,68.7 205.3,68.4 206.3,68.7 208.0,69.4 210.3,68.9 211.4,69.6 213.5,70.3 215.1,69.6 216.8,70.0 218.6,71.3 220.2,71.9 221.7,72.5 223.4,72.5 224.9,72.8 226.2,73.0 228.4,73.5 229.9,74.6 231.5,74.7 232.8,74.8 234.2,75.7 234.6,78.5 232.8,78.6 231.7,77.9 230.2,78.3 228.6,78.6 226.6,78.0 225.1,78.4 223.2,78.9 222.0,78.5 220.5,77.9 218.4,77.9 216.8,77.3 215.0,76.6 213.6,76.9 212.4,76.7 210.4,76.1 208.8,76.0 207.9,75.3 205.9,75.7 204.7,75.3 203.1,75.5 201.8,74.5 200.0,75.1 198.3,73.6 196.7,73.0 194.5,73.1 193.0,72.5Z" fill="url(#ga2)"/>
<path d="M265.8,83.3 267.7,82.1 269.2,81.8 270.7,80.9 271.9,79.8 273.6,80.6 275.6,79.3 276.7,79.4 278.8,79.4 280.0,79.1 282.1,79.3 283.4,79.4 285.1,79.6 286.1,80.0 287.7,79.5 289.5,79.7 290.7,80.4 292.5,81.8 294.4,84.4 294.0,86.1 292.4,86.7 290.7,85.9 289.3,86.7 288.0,86.2 286.4,86.9 284.8,86.8 283.5,86.5 281.6,86.5 280.0,86.4 278.4,86.6 276.5,87.1 275.0,86.8 273.8,86.4 271.9,86.5 270.9,86.0 268.9,85.5 267.7,84.6 266.0,84.5Z" fill="url(#ga3)"/>
<defs><linearGradient id="clau" gradientUnits="userSpaceOnUse" x1="124.0" y1="0" x2="176.0" y2="0"><stop offset="0.000" stop-color="#0000ff"/><stop offset="0.115" stop-color="#0060ff"/><stop offset="0.212" stop-color="#00e0ff"/><stop offset="0.288" stop-color="#80ff80"/><stop offset="0.346" stop-color="#ffe000"/><stop offset="0.654" stop-color="#ffc000"/><stop offset="0.750" stop-color="#40ffc0"/><stop offset="0.827" stop-color="#00c0ff"/><stop offset="0.904" stop-color="#0050ff"/><stop offset="1.000" stop-color="#0000ff"/></linearGradient></defs>
<defs><linearGradient id="clas" gradientUnits="userSpaceOnUse" x1="124.0" y1="0" x2="165.0" y2="0"><stop offset="0.000" stop-color="#0000ff"/><stop offset="0.195" stop-color="#0040ff"/><stop offset="0.317" stop-color="#00c0ff"/><stop offset="0.415" stop-color="#ffe000"/><stop offset="0.732" stop-color="#ffd000"/><stop offset="0.854" stop-color="#00e0ff"/><stop offset="1.000" stop-color="#0000ff"/></linearGradient></defs>
<path d="M124.0,208.6 125.6,207.9 127.2,207.0 128.8,206.1 130.5,205.4 132.1,204.8 133.7,204.4 135.3,203.3 136.9,203.0 138.5,202.2 140.2,201.5 141.8,200.9 143.4,199.8 145.0,199.1 146.6,198.8 148.2,197.6 149.8,197.4 151.5,196.4 153.1,195.4 154.7,194.8 156.3,194.3 157.9,193.8 159.5,192.7 161.2,192.4 162.8,191.7 164.4,190.6 166.0,190.2 166.0,192.7 164.4,193.1 162.8,194.1 161.2,194.8 159.5,195.7 157.9,195.8 156.3,197.0 154.7,197.3 153.1,198.4 151.5,199.0 149.8,199.7 148.2,200.3 146.6,201.3 145.0,201.9 143.4,202.6 141.8,203.3 140.2,203.9 138.5,204.6 136.9,205.3 135.3,206.4 133.7,206.8 132.1,207.4 130.5,208.2 128.8,209.2 127.2,209.7 125.6,210.1 124.0,211.2Z" fill="url(#clas)"/>
<path d="M123.0,199.3 124.6,198.7 126.2,197.5 127.8,197.2 129.4,196.2 131.0,195.3 132.6,194.6 134.2,193.9 135.8,193.1 137.5,192.3 139.1,192.0 140.7,191.0 142.3,190.6 143.9,189.5 145.5,189.1 147.1,188.5 148.7,187.7 150.3,187.2 151.9,186.4 153.5,185.1 155.1,185.0 156.7,183.8 158.3,183.5 159.9,182.6 161.5,181.9 163.2,180.8 164.8,180.4 166.4,179.7 168.0,178.8 169.6,177.6 171.2,177.4 172.8,176.1 174.4,175.7 176.0,175.0 176.0,178.2 174.4,179.6 172.8,179.8 171.2,181.0 169.6,181.4 168.0,182.2 166.4,183.1 164.8,183.4 163.2,184.1 161.5,185.3 159.9,185.6 158.3,186.2 156.7,187.7 155.1,188.0 153.5,188.5 151.9,189.7 150.3,190.1 148.7,191.5 147.1,191.7 145.5,192.2 143.9,193.7 142.3,193.7 140.7,194.7 139.1,195.7 137.5,196.3 135.8,197.3 134.2,198.0 132.6,198.6 131.0,199.1 129.4,200.1 127.8,200.7 126.2,201.5 124.6,202.0 123.0,203.1Z" fill="url(#clau)"/>
<path d="M124.0,191.4 125.6,189.8 127.2,189.3 128.9,188.9 130.5,187.7 132.1,187.6 133.8,186.5 135.4,185.4 137.0,185.2 138.6,184.3 140.2,183.0 141.9,182.5 143.5,182.1 145.1,181.5 146.8,180.9 148.4,179.2 150.0,179.3 151.6,177.9 153.2,177.3 154.9,176.1 156.5,175.4 158.1,174.8 159.8,173.9 161.4,173.2 163.0,172.8 164.6,172.4 166.2,171.5 167.9,171.0 169.5,169.8 171.1,169.2 172.8,168.7 174.4,167.6 176.0,166.4 176.0,171.5 174.4,172.6 172.8,172.7 171.1,173.8 169.5,174.6 167.9,174.9 166.2,175.7 164.6,177.0 163.0,177.4 161.4,177.8 159.8,178.4 158.1,179.5 156.5,180.2 154.9,181.2 153.2,181.9 151.6,182.2 150.0,183.2 148.4,184.5 146.8,185.2 145.1,185.9 143.5,186.4 141.9,187.7 140.2,187.9 138.6,188.4 137.0,189.1 135.4,190.3 133.8,191.2 132.1,191.6 130.5,192.2 128.9,193.7 127.2,194.0 125.6,194.6 124.0,195.9Z" fill="url(#clau)"/>
<ellipse cx="150.0" cy="186.0" rx="9" ry="3.2" transform="rotate(-24 150.0 186.0)" fill="#ffe000" fill-opacity="1"/>
<ellipse cx="151.0" cy="191.0" rx="9" ry="3.5" transform="rotate(-24 151.0 191.0)" fill="#ff8a00" fill-opacity="1"/>
<ellipse cx="150.0" cy="191.0" rx="7" ry="3.2" transform="rotate(-24 150.0 191.0)" fill="#1a0000" fill-opacity="1"/>
<ellipse cx="148.0" cy="197.5" rx="5" ry="1.4" transform="rotate(-24 148.0 197.5)" fill="#ffd000" fill-opacity="1"/>
<ellipse cx="143.0" cy="258.0" rx="5" ry="2.2" transform="rotate(-10 143.0 258.0)" fill="#00e0e0" fill-opacity="1"/>
<ellipse cx="149.0" cy="260.5" rx="4" ry="1.6" transform="rotate(0 149.0 260.5)" fill="#ffe000" fill-opacity="1"/>
<ellipse cx="147.0" cy="258.5" rx="3" ry="1.6" transform="rotate(0 147.0 258.5)" fill="#a0ff60" fill-opacity="1"/>
<path d="M78.7,262.5H91.5M85.5,257.0V267.0" stroke="#000" stroke-width="1.25"/><circle cx="85.1" cy="262.0" r="3.1" fill="#ff00ff" stroke="#000" stroke-width="0.75"/>
<path d="M96.1,261.5H108.9M102.5,256.6V266.6" stroke="#000" stroke-width="1.25"/><circle cx="102.5" cy="261.6" r="3.1" fill="#ff00ff" stroke="#000" stroke-width="0.75"/>
<path d="M133.3,256.5H146.1M139.5,251.5V261.5" stroke="#000" stroke-width="1.25"/><circle cx="139.7" cy="256.5" r="3.1" fill="#ff00ff" stroke="#000" stroke-width="0.75"/>
<path d="M139.8,259.5H152.6M146.5,254.5V264.5" stroke="#000" stroke-width="1.25"/><circle cx="146.2" cy="259.5" r="3.1" fill="#ff00ff" stroke="#000" stroke-width="0.75"/>
<path d="M143.6,258.5H156.4M150.5,253.0V263.0" stroke="#000" stroke-width="1.25"/><circle cx="150.0" cy="258.0" r="3.1" fill="#ff00ff" stroke="#000" stroke-width="0.75"/>
<path d="M147.6,263.5H160.4M154.5,258.2V268.2" stroke="#000" stroke-width="1.25"/><circle cx="154.0" cy="263.2" r="3.1" fill="#ff00ff" stroke="#000" stroke-width="0.75"/>
<path d="M158.8,260.5H171.6M165.5,255.5V265.5" stroke="#000" stroke-width="1.25"/><circle cx="165.2" cy="260.5" r="3.1" fill="#ff00ff" stroke="#000" stroke-width="0.75"/>
<path d="M192.2,259.5H205.0M198.5,254.1V264.1" stroke="#000" stroke-width="1.25"/><circle cx="198.6" cy="259.1" r="3.1" fill="#ff00ff" stroke="#000" stroke-width="0.75"/>
<path d="M272.5,259.5H285.3M278.5,254.5V264.5" stroke="#000" stroke-width="1.25"/><circle cx="278.9" cy="259.5" r="3.1" fill="#ff00ff" stroke="#000" stroke-width="0.75"/>
<path d="M279.6,258.5H292.4M286.5,253.5V263.5" stroke="#000" stroke-width="1.25"/><circle cx="286.0" cy="258.5" r="3.1" fill="#ff00ff" stroke="#000" stroke-width="0.75"/>
<path d="M78.7,257.5H91.5M85.5,252.5V262.5" stroke="#000" stroke-width="1.25"/><circle cx="85.1" cy="257.5" r="3.1" fill="#88e088" stroke="#000" stroke-width="0.75"/>
<path d="M96.1,256.5H108.9M102.5,251.5V261.5" stroke="#000" stroke-width="1.25"/><circle cx="102.5" cy="256.5" r="3.1" fill="#88e088" stroke="#000" stroke-width="0.75"/>
<path d="M133.3,252.5H146.1M139.5,247.4V257.4" stroke="#000" stroke-width="1.25"/><circle cx="139.7" cy="252.4" r="3.1" fill="#88e088" stroke="#000" stroke-width="0.75"/>
<path d="M139.8,253.5H152.6M146.5,248.0V258.0" stroke="#000" stroke-width="1.25"/><circle cx="146.2" cy="253.0" r="3.1" fill="#88e088" stroke="#000" stroke-width="0.75"/>
<path d="M143.6,254.5H156.4M150.5,249.5V259.5" stroke="#000" stroke-width="1.25"/><circle cx="150.0" cy="254.5" r="3.1" fill="#88e088" stroke="#000" stroke-width="0.75"/>
<path d="M147.6,253.5H160.4M154.5,248.4V258.4" stroke="#000" stroke-width="1.25"/><circle cx="154.0" cy="253.4" r="3.1" fill="#88e088" stroke="#000" stroke-width="0.75"/>
<path d="M148.6,259.5H161.4M155.5,254.1V264.1" stroke="#000" stroke-width="1.25"/><circle cx="155.0" cy="259.1" r="3.1" fill="#88e088" stroke="#000" stroke-width="0.75"/>
<path d="M158.8,255.5H171.6M165.5,250.0V260.0" stroke="#000" stroke-width="1.25"/><circle cx="165.2" cy="255.0" r="3.1" fill="#88e088" stroke="#000" stroke-width="0.75"/>
<path d="M192.2,253.5H205.0M198.5,248.0V258.0" stroke="#000" stroke-width="1.25"/><circle cx="198.6" cy="253.0" r="3.1" fill="#88e088" stroke="#000" stroke-width="0.75"/>
<path d="M272.5,248.5H285.3M278.5,243.3V253.3" stroke="#000" stroke-width="1.25"/><circle cx="278.9" cy="248.3" r="3.1" fill="#88e088" stroke="#000" stroke-width="0.75"/>
<path d="M279.6,247.5H292.4M286.5,242.7V252.7" stroke="#000" stroke-width="1.25"/><circle cx="286.0" cy="247.7" r="3.1" fill="#88e088" stroke="#000" stroke-width="0.75"/>
<path d="M79.0,227.5H91.8M85.5,222.2V232.2" stroke="#000" stroke-width="1.25"/><path d="M85.4,225.1L88.4,230.2L82.4,230.2Z" fill="#808080" stroke="#000" stroke-width="0.8" stroke-linejoin="miter"/>
<path d="M95.9,219.5H108.7M102.5,214.0V224.0" stroke="#000" stroke-width="1.25"/><path d="M102.3,216.9L105.3,222.0L99.3,222.0Z" fill="#808080" stroke="#000" stroke-width="0.8" stroke-linejoin="miter"/>
<path d="M133.2,203.5H146.0M139.5,198.4V208.4" stroke="#000" stroke-width="1.25"/><path d="M139.6,201.3L142.6,206.4L136.6,206.4Z" fill="#808080" stroke="#000" stroke-width="0.8" stroke-linejoin="miter"/>
<path d="M140.2,200.5H153.0M146.5,195.7V205.7" stroke="#000" stroke-width="1.25"/><path d="M146.6,198.6L149.6,203.7L143.6,203.7Z" fill="#808080" stroke="#000" stroke-width="0.8" stroke-linejoin="miter"/>
<path d="M143.3,199.5H156.1M149.5,194.0V204.0" stroke="#000" stroke-width="1.25"/><path d="M149.7,196.9L152.7,202.0L146.7,202.0Z" fill="#808080" stroke="#000" stroke-width="0.8" stroke-linejoin="miter"/>
<path d="M147.7,196.5H160.5M154.5,191.8V201.8" stroke="#000" stroke-width="1.25"/><path d="M154.1,194.7L157.1,199.8L151.1,199.8Z" fill="#808080" stroke="#000" stroke-width="0.8" stroke-linejoin="miter"/>
<path d="M158.6,192.5H171.4M165.5,187.0V197.0" stroke="#000" stroke-width="1.25"/><path d="M165.0,189.9L168.0,195.0L162.0,195.0Z" fill="#808080" stroke="#000" stroke-width="0.8" stroke-linejoin="miter"/>
<path d="M191.8,177.5H204.6M198.5,172.3V182.3" stroke="#000" stroke-width="1.25"/><path d="M198.2,175.2L201.2,180.3L195.2,180.3Z" fill="#808080" stroke="#000" stroke-width="0.8" stroke-linejoin="miter"/>
<path d="M272.2,142.5H285.0M278.5,137.0V147.0" stroke="#000" stroke-width="1.25"/><path d="M278.6,139.9L281.6,145.0L275.6,145.0Z" fill="#808080" stroke="#000" stroke-width="0.8" stroke-linejoin="miter"/>
<path d="M279.8,138.5H292.6M286.5,133.5V143.5" stroke="#000" stroke-width="1.25"/><path d="M286.2,136.4L289.2,141.5L283.2,141.5Z" fill="#808080" stroke="#000" stroke-width="0.8" stroke-linejoin="miter"/>
<path d="M79.0,218.5H91.8M85.5,213.4V223.4" stroke="#000" stroke-width="1.25"/><path d="M85.4,216.3L88.4,221.4L82.4,221.4Z" fill="#ff00ff" stroke="#000" stroke-width="0.8" stroke-linejoin="miter"/>
<path d="M95.9,213.5H108.7M102.5,208.1V218.1" stroke="#000" stroke-width="1.25"/><path d="M102.3,211.0L105.3,216.1L99.3,216.1Z" fill="#ff00ff" stroke="#000" stroke-width="0.8" stroke-linejoin="miter"/>
<path d="M133.2,195.5H146.0M139.5,190.0V200.0" stroke="#000" stroke-width="1.25"/><path d="M139.6,192.9L142.6,198.0L136.6,198.0Z" fill="#ff00ff" stroke="#000" stroke-width="0.8" stroke-linejoin="miter"/>
<path d="M140.2,192.5H153.0M146.5,187.8V197.8" stroke="#000" stroke-width="1.25"/><path d="M146.6,190.7L149.6,195.8L143.6,195.8Z" fill="#ff00ff" stroke="#000" stroke-width="0.8" stroke-linejoin="miter"/>
<path d="M143.7,189.5H156.5M150.5,184.3V194.3" stroke="#000" stroke-width="1.25"/><path d="M150.1,187.2L153.1,192.3L147.1,192.3Z" fill="#ff00ff" stroke="#000" stroke-width="0.8" stroke-linejoin="miter"/>
<path d="M148.1,189.5H160.9M154.5,184.8V194.8" stroke="#000" stroke-width="1.25"/><path d="M154.5,187.7L157.5,192.8L151.5,192.8Z" fill="#ff00ff" stroke="#000" stroke-width="0.8" stroke-linejoin="miter"/>
<path d="M158.6,182.5H171.4M165.5,177.6V187.6" stroke="#000" stroke-width="1.25"/><path d="M165.0,180.5L168.0,185.6L162.0,185.6Z" fill="#ff00ff" stroke="#000" stroke-width="0.8" stroke-linejoin="miter"/>
<path d="M191.8,166.5H204.6M198.5,161.4V171.4" stroke="#000" stroke-width="1.25"/><path d="M198.2,164.3L201.2,169.4L195.2,169.4Z" fill="#ff00ff" stroke="#000" stroke-width="0.8" stroke-linejoin="miter"/>
<path d="M272.8,126.5H285.6M279.5,121.2V131.2" stroke="#000" stroke-width="1.25"/><path d="M279.2,124.1L282.2,129.2L276.2,129.2Z" fill="#ff00ff" stroke="#000" stroke-width="0.8" stroke-linejoin="miter"/>
<path d="M279.8,126.5H292.6M286.5,121.8V131.8" stroke="#000" stroke-width="1.25"/><path d="M286.2,124.7L289.2,129.8L283.2,129.8Z" fill="#ff00ff" stroke="#000" stroke-width="0.8" stroke-linejoin="miter"/>
<path d="M79.0,213.5H91.8M85.5,208.1V218.1" stroke="#000" stroke-width="1.25"/><path d="M85.4,211.0L88.4,216.1L82.4,216.1Z" fill="#88e088" stroke="#000" stroke-width="0.8" stroke-linejoin="miter"/>
<path d="M95.9,206.5H108.7M102.5,201.7V211.7" stroke="#000" stroke-width="1.25"/><path d="M102.3,204.6L105.3,209.7L99.3,209.7Z" fill="#88e088" stroke="#000" stroke-width="0.8" stroke-linejoin="miter"/>
<path d="M133.2,187.5H146.0M139.5,182.9V192.9" stroke="#000" stroke-width="1.25"/><path d="M139.6,185.8L142.6,190.9L136.6,190.9Z" fill="#88e088" stroke="#000" stroke-width="0.8" stroke-linejoin="miter"/>
<path d="M139.8,183.5H152.6M146.5,178.2V188.2" stroke="#000" stroke-width="1.25"/><path d="M146.2,181.1L149.2,186.2L143.2,186.2Z" fill="#88e088" stroke="#000" stroke-width="0.8" stroke-linejoin="miter"/>
<path d="M143.3,185.5H156.1M149.5,180.4V190.4" stroke="#000" stroke-width="1.25"/><path d="M149.7,183.3L152.7,188.4L146.7,188.4Z" fill="#88e088" stroke="#000" stroke-width="0.8" stroke-linejoin="miter"/>
<path d="M147.2,181.5H160.0M153.5,176.0V186.0" stroke="#000" stroke-width="1.25"/><path d="M153.6,178.9L156.6,184.0L150.6,184.0Z" fill="#88e088" stroke="#000" stroke-width="0.8" stroke-linejoin="miter"/>
<path d="M148.6,182.5H161.4M155.5,177.3V187.3" stroke="#000" stroke-width="1.25"/><path d="M155.0,180.2L158.0,185.3L152.0,185.3Z" fill="#88e088" stroke="#000" stroke-width="0.8" stroke-linejoin="miter"/>
<path d="M147.7,186.5H160.5M154.5,181.3V191.3" stroke="#000" stroke-width="1.25"/><path d="M154.1,184.2L157.1,189.3L151.1,189.3Z" fill="#88e088" stroke="#000" stroke-width="0.8" stroke-linejoin="miter"/>
<path d="M159.1,176.5H171.9M165.5,171.2V181.2" stroke="#000" stroke-width="1.25"/><path d="M165.5,174.1L168.5,179.2L162.5,179.2Z" fill="#88e088" stroke="#000" stroke-width="0.8" stroke-linejoin="miter"/>
<path d="M191.8,157.5H204.6M198.5,152.2V162.2" stroke="#000" stroke-width="1.25"/><path d="M198.2,155.1L201.2,160.2L195.2,160.2Z" fill="#88e088" stroke="#000" stroke-width="0.8" stroke-linejoin="miter"/>
<path d="M279.8,116.5H292.6M286.5,111.9V121.9" stroke="#000" stroke-width="1.25"/><path d="M286.2,114.8L289.2,119.9L283.2,119.9Z" fill="#88e088" stroke="#000" stroke-width="0.8" stroke-linejoin="miter"/>
<path d="M148.6,43.5H161.4M155.5,38.4V48.4" stroke="#000" stroke-width="1.25"/><path d="M155.0,41.3L158.0,46.4L152.0,46.4Z" fill="#8b0000" stroke="#000" stroke-width="0.8" stroke-linejoin="miter"/>
<path d="M159.1,44.5H171.9M165.5,39.2V49.2" stroke="#000" stroke-width="1.25"/><path d="M165.5,42.1L168.5,47.2L162.5,47.2Z" fill="#8b0000" stroke="#000" stroke-width="0.8" stroke-linejoin="miter"/>
<path d="M140.0,54.5H152.8M146.5,49.1V59.1" stroke="#000" stroke-width="1.25"/><path d="M146.4,52.0L149.4,57.1L143.4,57.1Z" fill="#8b0000" stroke="#000" stroke-width="0.8" stroke-linejoin="miter"/>
<path d="M147.2,61.5H160.0M153.5,56.0V66.0" stroke="#000" stroke-width="1.25"/><path d="M153.6,58.9L156.6,64.0L150.6,64.0Z" fill="#8b0000" stroke="#000" stroke-width="0.8" stroke-linejoin="miter"/>
<path d="M140.0,65.5H152.8M146.5,60.0V70.0" stroke="#000" stroke-width="1.25"/><path d="M146.4,62.9L149.4,68.0L143.4,68.0Z" fill="#8b0000" stroke="#000" stroke-width="0.8" stroke-linejoin="miter"/>
<path d="M142.2,72.5H155.0M148.5,67.3V77.3" stroke="#000" stroke-width="1.25"/><path d="M148.6,70.2L151.6,75.3L145.6,75.3Z" fill="#8b0000" stroke="#000" stroke-width="0.8" stroke-linejoin="miter"/>
<path d="M133.2,77.5H146.0M139.5,72.0V82.0" stroke="#000" stroke-width="1.25"/><path d="M139.6,74.9L142.6,80.0L136.6,80.0Z" fill="#8b0000" stroke="#000" stroke-width="0.8" stroke-linejoin="miter"/>
<path d="M180.5,80.5H193.3M186.5,75.8V85.8" stroke="#000" stroke-width="1.25"/><path d="M186.9,78.7L189.9,83.8L183.9,83.8Z" fill="#8b0000" stroke="#000" stroke-width="0.8" stroke-linejoin="miter"/>
<path d="M192.1,89.5H204.9M198.5,84.9V94.9" stroke="#000" stroke-width="1.25"/><path d="M198.5,87.8L201.5,92.9L195.5,92.9Z" fill="#8b0000" stroke="#000" stroke-width="0.8" stroke-linejoin="miter"/>
<path d="M280.1,78.5H292.9M286.5,73.6V83.6" stroke="#000" stroke-width="1.25"/><path d="M286.5,76.5L289.5,81.6L283.5,81.6Z" fill="#8b0000" stroke="#000" stroke-width="0.8" stroke-linejoin="miter"/>
<path d="M74.1,48.5H82.7M78.5,44.2V53.4" stroke="#000" stroke-width="1.25"/><circle cx="78.4" cy="48.8" r="3.1" fill="#ff00ff" stroke="#000" stroke-width="0.75"/>
<text x="89.6" y="53.6" font-size="13.5">PP</text>
<path d="M74.1,62.5H82.7M78.5,57.5V66.7" stroke="#000" stroke-width="1.25"/><circle cx="78.4" cy="62.1" r="3.1" fill="#88e088" stroke="#000" stroke-width="0.75"/>
<text x="89.6" y="66.9" font-size="13.5">PPP</text>
<path d="M74.1,75.5H82.7M78.5,70.8V80.0" stroke="#000" stroke-width="1.25"/><path d="M78.4,73.3L81.4,78.4L75.4,78.4Z" fill="#808080" stroke="#000" stroke-width="0.8" stroke-linejoin="miter"/>
<text x="89.6" y="80.2" font-size="13.5">S</text>
<path d="M74.1,88.5H82.7M78.5,84.2V93.4" stroke="#000" stroke-width="1.25"/><path d="M78.4,86.7L81.4,91.8L75.4,91.8Z" fill="#ff00ff" stroke="#000" stroke-width="0.8" stroke-linejoin="miter"/>
<text x="89.6" y="93.6" font-size="13.5">SS</text>
<path d="M74.1,102.5H82.7M78.5,97.5V106.7" stroke="#000" stroke-width="1.25"/><path d="M78.4,100.0L81.4,105.1L75.4,105.1Z" fill="#88e088" stroke="#000" stroke-width="0.8" stroke-linejoin="miter"/>
<text x="89.6" y="106.9" font-size="13.5">SSS</text>
<path d="M74.1,115.5H82.7M78.5,110.8V120.0" stroke="#000" stroke-width="1.25"/><path d="M78.4,113.3L81.4,118.4L75.4,118.4Z" fill="#8b0000" stroke="#000" stroke-width="0.8" stroke-linejoin="miter"/>
<text x="89.6" y="120.2" font-size="13.5">ScS</text>
<defs><radialGradient id="gb1" gradientUnits="userSpaceOnUse" cx="0" cy="0" r="1" gradientTransform="translate(494.7 57.0) rotate(21) scale(30 7)"><stop offset="0" stop-color="#00b4ff"/><stop offset="0.3" stop-color="#0078ff"/><stop offset="0.65" stop-color="#0020f0"/><stop offset="1" stop-color="#00009a"/></radialGradient></defs>
<defs><radialGradient id="gb2" gradientUnits="userSpaceOnUse" cx="0" cy="0" r="1" gradientTransform="translate(556.4 73.0) rotate(18) scale(22 5)"><stop offset="0" stop-color="#0000e4"/><stop offset="0.6" stop-color="#0000b8"/><stop offset="1" stop-color="#00008c"/></radialGradient></defs>
<defs><radialGradient id="gb3" gradientUnits="userSpaceOnUse" cx="0" cy="0" r="1" gradientTransform="translate(629.7 83.0) rotate(0) scale(14 4)"><stop offset="0" stop-color="#0000e4"/><stop offset="0.6" stop-color="#0000b8"/><stop offset="1" stop-color="#00008c"/></radialGradient></defs>
<path d="M413.5,232.4 415.1,231.7 416.7,231.2 418.3,230.6 420.0,230.2 421.6,229.4 423.2,228.9 424.8,227.6 426.5,227.0 428.1,226.4 429.7,225.3 431.3,224.7 433.0,223.7 434.6,223.2 436.2,222.7 437.8,222.2 439.5,221.3 441.1,220.5 442.7,219.7 444.3,219.5 446.0,218.2 447.6,218.1 449.2,217.4 450.9,216.2 452.5,215.7 454.1,215.1 455.7,213.9 457.4,213.7 459.0,212.5 460.6,211.7 460.6,214.5 459.0,215.6 457.4,215.8 455.7,216.9 454.1,217.4 452.5,218.2 450.9,219.3 449.2,219.5 447.6,220.1 446.0,220.9 444.3,221.7 442.7,222.3 441.1,223.2 439.5,224.2 437.8,224.3 436.2,225.6 434.6,226.0 433.0,226.7 431.3,227.7 429.7,228.4 428.1,228.6 426.5,229.9 424.8,230.4 423.2,230.8 421.6,231.8 420.0,232.5 418.3,233.0 416.7,233.9 415.1,234.4 413.5,235.9Z M460.6,212.4 461.7,212.0 462.8,211.6 462.8,213.2 461.7,213.7 460.6,214.1Z M464.6,210.8 465.7,210.2 466.8,209.8 466.8,211.5 465.7,211.8 464.6,212.4Z M413.5,224.7 415.1,223.9 416.7,223.1 418.3,222.2 420.0,221.2 421.6,220.4 423.2,219.8 424.9,219.3 426.5,218.7 428.1,217.3 429.8,216.6 431.4,216.0 433.0,215.5 434.6,214.8 436.3,214.0 437.9,213.2 439.5,212.4 441.2,211.8 442.8,211.2 444.4,210.3 446.1,209.4 447.7,208.7 449.3,207.8 451.0,206.8 452.6,206.1 454.2,205.2 455.8,205.3 457.5,204.3 459.1,203.7 459.1,207.0 457.5,207.3 455.8,208.4 454.2,209.0 452.6,209.4 451.0,210.2 449.3,211.1 447.7,211.6 446.1,212.3 444.4,213.7 442.8,213.9 441.2,214.7 439.5,215.7 437.9,216.7 436.3,217.0 434.6,218.3 433.0,218.5 431.4,219.2 429.8,220.3 428.1,220.9 426.5,222.0 424.9,222.7 423.2,223.2 421.6,223.9 420.0,224.6 418.3,225.0 416.7,226.1 415.1,227.0 413.5,228.0Z M459.1,204.0 460.3,203.5 461.5,203.0 461.5,205.0 460.3,205.4 459.1,206.0Z M463.4,202.1 464.5,201.5 465.7,200.9 465.7,203.0 464.5,203.5 463.4,204.0Z M413.5,216.1 415.1,215.4 416.7,214.3 418.3,214.1 419.9,212.9 421.5,212.6 423.1,212.2 424.7,210.6 426.3,210.1 427.9,209.7 429.5,208.7 431.1,208.0 432.7,207.3 434.3,207.0 435.9,206.2 437.5,205.3 439.1,204.1 440.7,203.6 442.3,203.0 444.0,202.3 445.6,201.4 447.2,200.4 448.8,199.5 450.4,198.9 452.0,198.0 453.6,197.5 455.2,196.8 456.8,195.8 458.4,195.8 460.0,195.1 461.6,193.7 461.6,199.1 460.0,199.2 458.4,200.6 456.8,201.5 455.2,201.5 453.6,203.0 452.0,203.0 450.4,204.1 448.8,204.4 447.2,205.3 445.6,206.3 444.0,206.8 442.3,208.2 440.7,208.2 439.1,209.3 437.5,210.1 435.9,210.8 434.3,211.4 432.7,211.9 431.1,213.0 429.5,213.3 427.9,214.1 426.3,215.3 424.7,216.1 423.1,216.6 421.5,217.0 419.9,218.0 418.3,218.5 416.7,219.8 415.1,220.7 413.5,221.0Z M461.6,195.1 463.5,194.4 463.5,196.7 461.6,197.7Z M465.1,193.6 467.1,192.7 467.1,195.2 465.1,195.9Z M468.6,208.3 470.2,208.1 471.9,206.8 473.5,206.8 475.1,206.0 476.7,205.0 478.3,204.1 479.9,203.9 481.5,202.8 483.1,202.3 484.7,201.1 486.3,200.6 487.9,199.8 489.6,199.7 491.2,198.7 492.8,198.0 494.4,197.4 496.0,196.8 497.6,195.4 499.2,194.8 500.8,194.2 502.4,193.5 504.0,192.9 505.6,191.9 507.2,191.2 508.9,191.1 510.5,190.2 512.1,189.3 513.7,188.6 515.3,188.1 516.9,187.2 518.5,186.8 520.1,186.4 521.7,185.4 523.3,184.5 524.9,183.4 526.5,182.9 528.2,182.6 529.8,181.6 531.4,180.5 533.0,179.9 534.6,179.9 536.2,178.7 537.8,177.8 539.4,177.3 541.0,176.3 542.6,175.8 544.2,175.1 545.9,174.6 547.5,173.6 549.1,173.3 550.7,172.2 552.3,172.2 553.9,171.4 555.5,170.0 557.1,170.0 558.7,169.1 560.3,168.0 561.9,167.3 563.5,166.5 565.2,165.7 566.8,165.6 568.4,164.4 570.0,163.8 571.6,163.0 573.2,162.4 573.2,164.6 571.6,165.8 570.0,166.8 568.4,167.4 566.8,167.9 565.2,168.8 563.5,169.5 561.9,170.1 560.3,170.7 558.7,171.5 557.1,172.3 555.5,172.7 553.9,173.5 552.3,173.9 550.7,174.6 549.1,175.5 547.5,176.0 545.9,177.2 544.2,177.7 542.6,178.7 541.0,178.9 539.4,180.4 537.8,181.1 536.2,181.1 534.6,182.2 533.0,182.5 531.4,183.4 529.8,183.9 528.2,184.5 526.5,185.9 524.9,186.5 523.3,186.9 521.7,187.3 520.1,188.3 518.5,188.8 516.9,189.7 515.3,190.8 513.7,191.7 512.1,192.1 510.5,193.1 508.9,193.4 507.2,193.8 505.6,194.9 504.0,195.9 502.4,196.4 500.8,196.5 499.2,197.9 497.6,197.9 496.0,199.4 494.4,200.0 492.8,200.6 491.2,201.4 489.6,201.8 487.9,202.4 486.3,203.2 484.7,203.8 483.1,204.3 481.5,205.6 479.9,206.2 478.3,207.0 476.7,208.0 475.1,207.8 473.5,209.0 471.9,209.6 470.2,210.2 468.6,210.7Z M540.4,166.1 542.0,165.6 543.7,164.8 545.3,163.8 547.0,163.5 548.6,162.4 550.2,161.4 551.9,160.4 553.5,159.8 555.2,159.7 556.8,158.3 558.4,157.4 560.1,156.6 561.7,156.4 563.4,155.5 565.0,155.1 566.6,154.4 568.3,153.7 569.9,152.7 571.6,151.8 573.2,151.5 573.2,154.3 571.6,154.9 569.9,155.4 568.3,156.1 566.6,157.1 565.0,158.3 563.4,158.8 561.7,159.9 560.1,160.4 558.4,160.7 556.8,161.7 555.2,162.3 553.5,163.7 551.9,164.3 550.2,164.7 548.6,166.0 547.0,165.9 545.3,167.3 543.7,167.6 542.0,168.6 540.4,169.1Z M541.5,156.9 543.2,156.2 544.8,155.9 546.5,155.2 548.2,154.4 549.8,153.8 551.5,152.9 553.2,152.3 554.8,150.9 556.5,150.6 558.2,150.0 559.9,148.5 561.5,147.7 563.2,147.1 564.9,146.4 566.5,145.4 568.2,144.9 569.9,144.6 571.5,143.5 573.2,142.2 573.2,147.3 571.5,147.8 569.9,149.0 568.2,149.0 566.5,150.0 564.9,150.8 563.2,151.7 561.5,152.4 559.9,153.6 558.2,154.4 556.5,155.2 554.8,155.5 553.2,156.4 551.5,157.4 549.8,157.9 548.2,159.1 546.5,159.0 544.8,160.1 543.2,160.8 541.5,161.9Z M519.0,176.9 520.0,176.4 521.1,175.8 522.1,175.5 523.1,175.0 523.1,176.5 522.1,177.0 521.1,177.5 520.0,177.8 519.0,178.2Z M526.5,173.2 527.5,172.8 528.6,172.4 529.6,171.9 530.6,171.3 530.6,172.9 529.6,173.6 528.6,173.9 527.5,174.3 526.5,175.0Z M577.7,161.2 578.8,160.6 580.0,160.1 580.0,161.6 578.8,162.1 577.7,162.6Z M581.9,159.3 583.0,158.8 584.1,158.3 584.1,159.7 583.0,160.2 581.9,160.9Z M577.7,149.9 578.8,149.4 580.0,148.7 580.0,150.4 578.8,150.8 577.7,151.4Z M581.9,148.0 583.0,147.3 584.1,146.8 584.1,148.5 583.0,149.0 581.9,149.5Z M577.7,142.1 578.8,141.5 580.0,140.9 580.0,142.5 578.8,142.9 577.7,143.5Z M581.9,140.2 583.0,139.7 584.1,139.1 584.1,140.6 583.0,141.0 581.9,141.5Z M602.6,149.2 604.2,148.7 605.9,148.5 607.5,147.1 609.1,146.8 610.7,145.8 612.4,145.3 614.0,144.5 615.6,144.1 617.3,142.7 618.9,142.7 620.5,141.5 622.2,141.0 623.8,140.1 625.4,139.5 627.0,138.8 628.7,138.2 630.3,137.2 631.9,137.0 633.6,136.0 635.2,135.1 636.8,134.5 638.4,133.3 640.1,133.3 641.7,132.2 643.3,131.8 645.0,130.9 646.6,129.9 648.2,129.6 649.9,128.8 651.5,128.3 653.1,127.6 654.7,126.4 656.4,126.2 658.0,125.4 658.0,127.9 656.4,128.1 654.7,129.5 653.1,129.6 651.5,130.9 649.9,131.7 648.2,132.2 646.6,132.5 645.0,133.2 643.3,134.5 641.7,134.8 640.1,135.6 638.4,136.3 636.8,137.1 635.2,137.6 633.6,138.3 631.9,138.9 630.3,140.2 628.7,140.6 627.0,141.4 625.4,142.6 623.8,142.7 622.2,143.2 620.5,144.3 618.9,145.3 617.3,145.5 615.6,146.4 614.0,147.5 612.4,147.8 610.7,148.3 609.1,149.5 607.5,149.7 605.9,151.0 604.2,151.4 602.6,152.3Z M602.6,137.0 604.2,136.9 605.9,135.5 607.5,135.4 609.1,134.7 610.7,134.1 612.4,133.3 614.0,132.0 615.6,131.8 617.3,130.3 618.9,130.2 620.5,128.8 622.2,128.5 623.8,127.8 625.4,127.2 627.0,126.2 628.7,125.2 630.3,125.2 631.9,123.6 633.6,123.5 635.2,122.8 636.8,121.7 638.4,121.0 640.1,120.1 641.7,119.1 643.3,118.7 645.0,118.2 646.6,116.8 648.2,116.8 649.9,115.8 651.5,114.6 653.1,114.1 654.7,113.1 656.4,112.5 658.0,111.8 658.0,115.7 656.4,116.3 654.7,117.0 653.1,117.7 651.5,118.3 649.9,119.4 648.2,119.8 646.6,120.9 645.0,121.2 643.3,121.8 641.7,123.2 640.1,124.0 638.4,124.5 636.8,125.4 635.2,125.6 633.6,126.5 631.9,127.1 630.3,128.5 628.7,129.1 627.0,130.0 625.4,130.2 623.8,131.6 622.2,132.1 620.5,132.8 618.9,133.4 617.3,134.1 615.6,134.8 614.0,135.7 612.4,136.0 610.7,137.2 609.1,138.0 607.5,138.7 605.9,139.4 604.2,140.1 602.6,141.2Z M617.3,125.3 619.0,125.2 620.7,124.6 622.4,123.0 624.1,122.3 625.8,121.6 627.5,121.2 629.2,120.6 630.9,120.2 632.6,118.6 634.3,118.1 636.0,117.2 637.7,116.3 637.7,121.6 636.0,122.8 634.3,124.0 632.6,124.9 630.9,125.7 629.2,126.5 627.5,126.4 625.8,126.8 624.1,128.0 622.4,129.3 620.7,129.4 619.0,130.5 617.3,131.9Z M640.0,116.5 641.2,115.8 642.4,115.0 642.4,116.9 641.2,117.7 640.0,118.4Z M644.4,113.6 645.6,112.7 646.8,111.9 646.8,113.9 645.6,114.7 644.4,115.6Z M648.8,110.6 650.0,109.7 651.2,108.7 651.2,110.8 650.0,111.7 648.8,112.4Z M575.5,252.8 576.7,253.0 577.8,252.9 577.8,254.3 576.7,254.5 575.5,254.6Z M579.8,252.8 580.9,252.7 582.1,252.7 582.1,254.1 580.9,254.2 579.8,254.2Z M575.5,258.2 576.7,258.1 577.8,258.1 577.8,259.5 576.7,259.8 575.5,259.7Z M579.8,258.0 580.9,258.0 582.1,257.8 582.1,259.5 580.9,259.5 579.8,259.5Z M413.5,256.4 415.1,256.3 416.7,256.3 418.3,256.0 420.0,256.4 421.6,256.3 423.2,255.7 424.9,256.5 426.5,255.7 428.1,256.1 429.8,256.0 431.4,255.6 433.0,256.0 434.6,255.8 436.3,255.7 437.9,256.3 439.5,255.9 441.2,255.8 442.8,256.2 444.4,256.1 446.1,255.9 447.7,255.6 449.3,255.7 451.0,255.9 452.6,255.9 454.2,256.1 455.8,255.5 457.5,255.9 459.1,256.0 460.7,255.6 462.4,255.8 464.0,255.9 465.6,255.7 465.6,258.9 464.0,258.7 462.4,258.9 460.7,258.7 459.1,259.5 457.5,259.0 455.8,258.9 454.2,259.2 452.6,259.1 451.0,259.2 449.3,259.4 447.7,259.0 446.1,259.4 444.4,259.5 442.8,258.9 441.2,259.5 439.5,259.4 437.9,259.6 436.3,258.8 434.6,259.2 433.0,259.6 431.4,259.7 429.8,259.2 428.1,258.9 426.5,259.0 424.9,259.1 423.2,259.3 421.6,259.7 420.0,259.0 418.3,259.4 416.7,259.7 415.1,259.5 413.5,259.8Z M413.5,259.5 415.1,259.9 416.7,260.2 418.3,260.2 420.0,259.7 421.6,259.9 423.2,260.0 424.9,259.5 426.5,260.0 428.1,259.5 429.8,260.3 431.4,259.9 433.0,259.7 434.6,260.0 436.3,259.7 437.9,259.6 439.5,259.9 441.2,260.1 442.8,259.9 444.4,260.0 446.1,259.7 447.7,259.9 449.3,259.5 451.0,259.6 452.6,260.0 454.2,260.1 455.8,259.6 457.5,259.6 459.1,259.4 460.7,259.9 462.4,259.9 464.0,259.7 465.6,259.7 465.6,262.8 464.0,263.3 462.4,263.3 460.7,262.7 459.1,262.7 457.5,263.0 455.8,263.2 454.2,263.0 452.6,262.9 451.0,262.6 449.3,263.1 447.7,263.4 446.1,262.8 444.4,263.0 442.8,263.4 441.2,262.7 439.5,263.2 437.9,262.8 436.3,262.9 434.6,263.6 433.0,263.4 431.4,262.9 429.8,263.1 428.1,263.5 426.5,262.9 424.9,263.1 423.2,263.6 421.6,262.9 420.0,263.0 418.3,263.3 416.7,263.1 415.1,263.3 413.5,262.9Z M469.1,255.5 470.8,255.5 472.4,255.9 474.0,256.1 475.7,255.3 477.3,255.8 478.9,256.1 480.6,256.0 482.2,255.8 483.8,255.2 485.4,255.5 487.1,255.5 488.7,255.5 490.3,255.1 492.0,255.7 493.6,255.1 495.2,255.6 496.9,255.1 498.5,255.3 500.1,255.3 501.7,255.7 503.4,255.0 505.0,255.2 506.6,255.5 508.3,255.0 509.9,255.5 511.5,255.3 513.2,254.9 514.8,255.1 516.4,255.6 518.1,255.6 519.7,255.1 521.3,254.8 521.3,258.6 519.7,258.0 518.1,258.6 516.4,258.1 514.8,258.6 513.2,259.0 511.5,258.8 509.9,258.5 508.3,259.0 506.6,258.7 505.0,258.6 503.4,258.7 501.7,259.0 500.1,258.2 498.5,258.6 496.9,258.8 495.2,258.7 493.6,259.0 492.0,258.5 490.3,258.6 488.7,259.0 487.1,258.6 485.4,258.6 483.8,259.2 482.2,258.6 480.6,258.8 478.9,259.0 477.3,259.3 475.7,259.2 474.0,259.1 472.4,259.1 470.8,259.5 469.1,258.8Z M469.1,259.5 470.8,259.4 472.4,259.9 474.0,259.8 475.7,259.9 477.3,259.4 478.9,259.4 480.6,259.6 482.2,259.8 483.8,259.1 485.4,259.4 487.1,259.5 488.7,259.9 490.3,259.5 492.0,259.0 493.6,259.9 495.2,259.6 496.9,259.8 498.5,259.2 500.1,259.5 501.7,259.7 503.4,259.8 505.0,259.0 506.6,258.9 508.3,259.0 509.9,259.1 511.5,259.0 513.2,259.3 514.8,259.6 516.4,259.6 518.1,259.0 519.7,259.0 521.3,259.2 521.3,262.4 519.7,262.4 518.1,262.9 516.4,262.9 514.8,262.8 513.2,262.7 511.5,262.7 509.9,262.7 508.3,263.0 506.6,262.8 505.0,262.4 503.4,262.3 501.7,262.2 500.1,262.9 498.5,262.8 496.9,262.6 495.2,262.7 493.6,262.5 492.0,262.7 490.3,262.4 488.7,262.9 487.1,262.8 485.4,262.9 483.8,263.0 482.2,262.5 480.6,262.6 478.9,263.1 477.3,263.1 475.7,263.2 474.0,262.8 472.4,262.7 470.8,262.8 469.1,263.0Z M537.9,253.7 539.5,253.4 541.2,252.8 542.8,253.2 544.4,252.8 546.1,252.7 547.7,253.1 549.4,253.3 551.0,252.9 552.6,252.4 554.3,252.3 555.9,253.0 557.6,252.9 559.2,252.4 560.9,252.3 562.5,252.2 564.1,252.2 565.8,251.9 567.4,252.3 569.1,252.5 570.7,252.3 572.3,252.4 574.0,251.6 574.0,255.4 572.3,254.9 570.7,255.8 569.1,255.6 567.4,255.6 565.8,255.8 564.1,255.3 562.5,255.5 560.9,255.7 559.2,255.5 557.6,255.5 555.9,256.1 554.3,256.2 552.6,255.7 551.0,256.2 549.4,256.1 547.7,255.9 546.1,256.0 544.4,256.8 542.8,256.5 541.2,256.3 539.5,256.7 537.9,256.4Z M537.9,258.8 539.5,258.6 541.2,258.3 542.8,258.3 544.4,258.5 546.1,258.5 547.7,257.7 549.4,258.4 551.0,258.4 552.6,258.2 554.3,257.5 555.9,257.4 557.6,258.0 559.2,257.7 560.9,257.3 562.5,257.2 564.1,257.9 565.8,257.6 567.4,257.1 569.1,257.7 570.7,257.2 572.3,257.4 574.0,256.8 574.0,260.4 572.3,260.7 570.7,260.8 569.1,260.2 567.4,260.3 565.8,260.8 564.1,260.8 562.5,260.9 560.9,260.6 559.2,261.2 557.6,260.7 555.9,261.2 554.3,260.8 552.6,261.3 551.0,261.3 549.4,261.7 547.7,261.1 546.1,261.2 544.4,261.5 542.8,261.8 541.2,261.8 539.5,261.6 537.9,261.5Z M605.6,250.2 607.2,250.1 608.9,249.6 610.5,250.0 612.1,249.5 613.8,249.8 615.4,249.3 617.0,250.1 618.7,249.9 620.3,249.9 621.9,249.5 623.6,249.5 625.2,248.8 626.8,248.8 628.5,249.1 630.1,248.9 631.7,249.2 633.4,249.0 635.0,249.1 636.7,248.5 638.3,248.1 639.9,248.6 641.6,248.3 643.2,248.4 644.8,248.4 646.5,247.7 648.1,247.8 649.7,247.9 651.4,247.7 653.0,247.8 654.6,247.2 656.3,247.4 656.3,250.7 654.6,251.3 653.0,251.0 651.4,251.6 649.7,251.3 648.1,251.9 646.5,251.7 644.8,252.1 643.2,251.9 641.6,251.6 639.9,251.7 638.3,252.3 636.7,252.1 635.0,251.9 633.4,252.0 631.7,252.7 630.1,252.5 628.5,252.5 626.8,252.2 625.2,252.3 623.6,252.5 621.9,253.1 620.3,253.4 618.7,252.6 617.0,252.8 615.4,253.4 613.8,253.6 612.1,253.4 610.5,253.3 608.9,253.2 607.2,253.6 605.6,253.9Z M605.6,256.4 607.2,256.5 608.9,255.7 610.5,255.7 612.1,255.6 613.8,255.9 615.4,256.1 617.0,255.7 618.7,255.7 620.3,254.9 621.9,255.5 623.6,254.7 625.2,254.9 626.8,254.5 628.5,254.7 630.1,255.0 631.7,254.8 633.4,254.7 635.0,254.6 636.7,254.5 638.3,254.3 639.9,253.9 641.6,253.9 643.2,254.1 644.8,254.0 646.5,253.8 648.1,253.3 649.7,253.5 651.4,253.6 653.0,253.5 654.6,252.8 656.3,252.9 656.3,256.1 654.6,256.4 653.0,256.0 651.4,256.7 649.7,256.9 648.1,256.5 646.5,256.9 644.8,256.6 643.2,256.7 641.6,256.8 639.9,257.7 638.3,257.8 636.7,257.9 635.0,257.6 633.4,257.4 631.7,257.9 630.1,258.4 628.5,257.7 626.8,258.1 625.2,258.6 623.6,258.4 621.9,258.6 620.3,258.6 618.7,258.4 617.0,258.8 615.4,259.0 613.8,259.3 612.1,258.9 610.5,259.0 608.9,259.6 607.2,259.5 605.6,259.3Z" fill="#0000c4"/>
<path d="M414.3,233.0 415.9,232.3 417.5,231.7 419.1,231.1 420.8,230.4 422.4,229.4 424.0,228.6 425.6,228.0 427.3,227.2 428.9,226.4 430.5,226.0 432.2,225.2 433.8,224.3 435.4,223.8 437.0,223.0 438.7,222.3 440.3,221.7 441.9,220.7 443.5,220.2 445.2,219.3 446.8,218.6 448.4,217.9 450.0,217.2 451.7,216.7 453.3,215.8 454.9,215.1 456.6,214.6 458.2,213.8 459.8,212.9 459.8,214.3 458.2,215.2 456.6,215.9 454.9,216.7 453.3,217.3 451.7,218.0 450.0,218.6 448.4,219.6 446.8,220.1 445.2,221.0 443.5,221.7 441.9,222.3 440.3,223.0 438.7,223.8 437.0,224.3 435.4,225.0 433.8,226.0 432.2,226.5 430.5,227.1 428.9,228.0 427.3,228.7 425.6,229.6 424.0,230.3 422.4,231.1 420.8,231.7 419.1,232.3 417.5,233.2 415.9,233.9 414.3,234.6Z M414.3,224.9 415.9,224.0 417.5,223.3 419.1,222.3 420.8,221.9 422.4,220.8 424.0,220.4 425.7,219.6 427.3,218.8 428.9,218.0 430.6,217.1 432.2,216.5 433.8,215.9 435.5,214.9 437.1,214.3 438.7,213.5 440.4,212.6 442.0,212.1 443.6,211.2 445.3,210.6 446.9,209.6 448.5,209.2 450.1,208.2 451.8,207.7 453.4,206.7 455.0,206.0 456.7,205.3 458.3,204.6 458.3,206.2 456.7,206.8 455.0,207.7 453.4,208.6 451.8,209.2 450.1,210.1 448.5,210.7 446.9,211.7 445.3,212.4 443.6,213.2 442.0,213.8 440.4,214.5 438.7,215.3 437.1,215.9 435.5,216.6 433.8,217.3 432.2,218.2 430.6,219.0 428.9,219.9 427.3,220.6 425.7,221.3 424.0,222.0 422.4,222.6 420.8,223.7 419.1,224.3 417.5,224.8 415.9,225.8 414.3,226.6Z M414.3,216.7 415.9,216.1 417.5,215.4 419.1,214.6 420.7,214.0 422.3,213.1 423.9,212.3 425.5,211.8 427.1,210.9 428.7,210.0 430.3,209.3 431.9,208.7 433.5,207.8 435.1,207.4 436.7,206.5 438.3,205.7 439.9,205.0 441.5,204.4 443.2,203.4 444.8,202.6 446.4,201.9 448.0,201.4 449.6,200.5 451.2,199.8 452.8,199.1 454.4,198.3 456.0,197.5 457.6,196.7 459.2,196.2 460.8,195.2 460.8,198.3 459.2,199.0 457.6,199.8 456.0,200.6 454.4,201.2 452.8,202.0 451.2,202.6 449.6,203.6 448.0,204.0 446.4,205.0 444.8,205.5 443.2,206.4 441.5,207.0 439.9,208.0 438.3,208.7 436.7,209.4 435.1,210.2 433.5,210.9 431.9,211.6 430.3,212.4 428.7,212.8 427.1,213.6 425.5,214.3 423.9,215.1 422.3,215.8 420.7,216.8 419.1,217.6 417.5,218.4 415.9,218.9 414.3,219.8Z M469.4,208.8 471.0,207.9 472.7,207.4 474.3,206.5 475.9,206.1 477.5,205.1 479.1,204.7 480.7,203.8 482.3,203.0 483.9,202.4 485.5,201.7 487.1,200.9 488.7,200.4 490.4,199.8 492.0,198.7 493.6,198.3 495.2,197.6 496.8,196.7 498.4,196.2 500.0,195.5 501.6,194.5 503.2,193.9 504.8,193.2 506.4,192.6 508.0,192.0 509.7,191.2 511.3,190.4 512.9,189.6 514.5,188.9 516.1,188.4 517.7,187.7 519.3,187.0 520.9,186.0 522.5,185.5 524.1,184.6 525.7,184.2 527.4,183.5 529.0,182.6 530.6,182.1 532.2,181.3 533.8,180.7 535.4,179.6 537.0,179.0 538.6,178.2 540.2,177.7 541.8,176.8 543.4,176.2 545.1,175.4 546.7,174.9 548.3,174.2 549.9,173.3 551.5,172.6 553.1,172.0 554.7,171.1 556.3,170.7 557.9,170.0 559.5,169.3 561.1,168.4 562.7,167.8 564.4,167.2 566.0,166.2 567.6,165.5 569.2,164.8 570.8,164.1 572.4,163.6 572.4,164.7 570.8,165.7 569.2,166.1 567.6,166.8 566.0,167.5 564.4,168.5 562.7,169.0 561.1,169.6 559.5,170.3 557.9,171.2 556.3,171.9 554.7,172.5 553.1,173.4 551.5,174.0 549.9,174.6 548.3,175.3 546.7,176.3 545.1,176.9 543.4,177.5 541.8,178.4 540.2,178.8 538.6,179.8 537.0,180.5 535.4,181.1 533.8,181.9 532.2,182.5 530.6,183.2 529.0,184.1 527.4,184.6 525.7,185.4 524.1,185.9 522.5,186.8 520.9,187.5 519.3,188.0 517.7,188.8 516.1,189.5 514.5,190.2 512.9,190.9 511.3,191.6 509.7,192.4 508.0,193.1 506.4,193.9 504.8,194.4 503.2,195.1 501.6,195.8 500.0,196.6 498.4,197.2 496.8,198.0 495.2,198.7 493.6,199.6 492.0,200.4 490.4,200.9 488.7,201.6 487.1,202.2 485.5,203.0 483.9,203.6 482.3,204.4 480.7,205.3 479.1,206.1 477.5,206.6 475.9,207.1 474.3,208.1 472.7,208.6 471.0,209.6 469.4,210.2Z M541.2,166.6 542.8,165.7 544.5,165.1 546.1,164.0 547.8,163.4 549.4,162.8 551.1,162.0 552.7,161.2 554.3,160.6 556.0,159.6 557.6,158.7 559.3,158.1 560.9,157.3 562.5,156.5 564.2,156.0 565.8,155.1 567.5,154.6 569.1,153.8 570.8,153.1 572.4,152.2 572.4,153.9 570.8,154.5 569.1,155.2 567.5,156.1 565.8,157.1 564.2,157.6 562.5,158.3 560.9,159.2 559.3,159.9 557.6,160.6 556.0,161.4 554.3,162.4 552.7,162.8 551.1,163.6 549.4,164.5 547.8,165.2 546.1,165.9 544.5,166.9 542.8,167.4 541.2,168.1Z M542.3,158.1 544.0,157.2 545.6,156.5 547.3,155.4 549.0,154.8 550.7,154.0 552.3,153.2 554.0,152.7 555.7,151.6 557.4,150.8 559.0,150.1 560.7,149.3 562.4,148.7 564.0,147.9 565.7,147.0 567.4,146.4 569.1,145.7 570.7,144.8 572.4,144.0 572.4,146.5 570.7,147.2 569.1,148.0 567.4,148.7 565.7,149.4 564.0,150.1 562.4,151.3 560.7,151.9 559.0,152.6 557.4,153.4 555.7,154.3 554.0,154.9 552.3,155.7 550.7,156.3 549.0,157.3 547.3,158.1 545.6,158.7 544.0,159.6 542.3,160.4Z M603.4,150.0 605.0,149.3 606.7,148.3 608.3,147.5 609.9,146.8 611.6,146.1 613.2,145.4 614.8,144.9 616.4,144.2 618.1,143.4 619.7,142.7 621.3,141.8 623.0,141.2 624.6,140.3 626.2,139.8 627.9,139.2 629.5,138.3 631.1,137.8 632.7,137.0 634.4,136.1 636.0,135.3 637.6,134.8 639.3,134.1 640.9,133.3 642.5,132.8 644.2,131.7 645.8,131.1 647.4,130.3 649.0,129.7 650.7,128.9 652.3,128.5 653.9,127.6 655.6,126.8 657.2,126.3 657.2,127.5 655.6,128.1 653.9,129.1 652.3,129.9 650.7,130.3 649.0,131.2 647.4,132.0 645.8,132.6 644.2,133.1 642.5,133.8 640.9,134.8 639.3,135.4 637.6,136.3 636.0,137.0 634.4,137.7 632.7,138.1 631.1,139.0 629.5,139.7 627.9,140.6 626.2,141.3 624.6,141.9 623.0,142.6 621.3,143.4 619.7,143.9 618.1,144.8 616.4,145.6 614.8,146.0 613.2,147.1 611.6,147.8 609.9,148.4 608.3,149.0 606.7,149.8 605.0,150.6 603.4,151.4Z M603.4,137.9 605.0,137.1 606.7,136.3 608.3,135.6 609.9,134.9 611.6,134.3 613.2,133.5 614.8,132.7 616.4,131.9 618.1,131.1 619.7,130.3 621.3,129.5 623.0,129.1 624.6,128.2 626.2,127.2 627.9,126.6 629.5,125.9 631.1,125.3 632.7,124.6 634.4,123.5 636.0,122.8 637.6,122.2 639.3,121.4 640.9,120.8 642.5,119.9 644.2,119.1 645.8,118.4 647.4,117.8 649.0,116.8 650.7,116.1 652.3,115.5 653.9,114.7 655.6,113.8 657.2,113.1 657.2,115.1 655.6,115.6 653.9,116.7 652.3,117.3 650.7,118.2 649.0,119.0 647.4,119.5 645.8,120.1 644.2,120.9 642.5,121.6 640.9,122.5 639.3,123.3 637.6,124.0 636.0,124.9 634.4,125.7 632.7,126.2 631.1,127.1 629.5,127.8 627.9,128.4 626.2,129.5 624.6,130.1 623.0,130.9 621.3,131.3 619.7,132.4 618.1,133.2 616.4,133.9 614.8,134.7 613.2,135.1 611.6,135.8 609.9,136.7 608.3,137.5 606.7,138.2 605.0,139.1 603.4,139.7Z M414.3,256.9 415.9,257.0 417.5,256.9 419.1,256.8 420.8,257.0 422.4,256.8 424.0,256.9 425.7,257.0 427.3,257.0 428.9,257.1 430.6,257.0 432.2,256.8 433.8,257.0 435.5,256.6 437.1,256.9 438.7,257.0 440.4,256.7 442.0,256.9 443.6,256.8 445.3,256.9 446.9,256.9 448.5,256.9 450.1,256.6 451.8,256.7 453.4,256.7 455.0,256.6 456.7,256.7 458.3,256.7 459.9,256.6 461.6,256.6 463.2,256.6 464.8,256.6 464.8,258.3 463.2,258.2 461.6,258.1 459.9,258.3 458.3,258.3 456.7,258.2 455.0,258.5 453.4,258.1 451.8,258.3 450.1,258.3 448.5,258.1 446.9,258.4 445.3,258.4 443.6,258.4 442.0,258.4 440.4,258.5 438.7,258.4 437.1,258.4 435.5,258.3 433.8,258.5 432.2,258.6 430.6,258.3 428.9,258.4 427.3,258.4 425.7,258.7 424.0,258.4 422.4,258.3 420.8,258.4 419.1,258.6 417.5,258.4 415.9,258.6 414.3,258.5Z M414.3,260.7 415.9,260.8 417.5,260.8 419.1,260.7 420.8,260.9 422.4,260.8 424.0,260.9 425.7,260.8 427.3,260.8 428.9,260.7 430.6,260.8 432.2,260.6 433.8,260.8 435.5,260.8 437.1,260.5 438.7,260.6 440.4,260.5 442.0,260.6 443.6,260.5 445.3,260.6 446.9,260.6 448.5,260.5 450.1,260.6 451.8,260.5 453.4,260.6 455.0,260.6 456.7,260.7 458.3,260.4 459.9,260.6 461.6,260.5 463.2,260.4 464.8,260.7 464.8,262.1 463.2,262.3 461.6,262.2 459.9,262.0 458.3,262.3 456.7,262.2 455.0,262.3 453.4,262.0 451.8,262.1 450.1,262.4 448.5,262.1 446.9,262.4 445.3,262.3 443.6,262.4 442.0,262.3 440.4,262.4 438.7,262.3 437.1,262.3 435.5,262.3 433.8,262.4 432.2,262.1 430.6,262.2 428.9,262.2 427.3,262.5 425.7,262.2 424.0,262.5 422.4,262.3 420.8,262.4 419.1,262.4 417.5,262.3 415.9,262.3 414.3,262.2Z M469.9,256.5 471.6,256.6 473.2,256.6 474.8,256.5 476.5,256.6 478.1,256.6 479.7,256.5 481.4,256.5 483.0,256.3 484.6,256.5 486.3,256.6 487.9,256.5 489.5,256.3 491.1,256.4 492.8,256.3 494.4,256.2 496.0,256.1 497.7,256.5 499.3,256.3 500.9,256.2 502.6,256.4 504.2,256.1 505.8,256.0 507.5,256.1 509.1,256.3 510.7,256.2 512.4,256.0 514.0,256.2 515.6,255.9 517.3,256.1 518.9,255.8 520.5,256.0 520.5,257.7 518.9,257.5 517.3,257.7 515.6,257.8 514.0,257.6 512.4,257.7 510.7,257.7 509.1,257.8 507.5,257.7 505.8,257.7 504.2,257.7 502.6,257.7 500.9,257.9 499.3,257.7 497.7,258.0 496.0,258.0 494.4,257.8 492.8,257.8 491.1,258.1 489.5,258.1 487.9,258.1 486.3,258.0 484.6,258.1 483.0,258.0 481.4,258.1 479.7,257.9 478.1,258.1 476.5,258.3 474.8,258.2 473.2,258.2 471.6,258.2 469.9,258.1Z M469.9,260.6 471.6,260.6 473.2,260.5 474.8,260.5 476.5,260.4 478.1,260.5 479.7,260.4 481.4,260.6 483.0,260.5 484.6,260.5 486.3,260.2 487.9,260.1 489.5,260.2 491.1,260.4 492.8,260.4 494.4,260.3 496.0,260.2 497.7,260.3 499.3,260.3 500.9,260.3 502.6,260.1 504.2,260.0 505.8,260.1 507.5,260.3 509.1,260.0 510.7,260.1 512.4,259.9 514.0,260.2 515.6,260.2 517.3,260.1 518.9,259.9 520.5,260.0 520.5,261.7 518.9,261.5 517.3,261.6 515.6,261.5 514.0,261.7 512.4,261.8 510.7,261.7 509.1,261.8 507.5,261.7 505.8,261.9 504.2,261.7 502.6,261.7 500.9,261.8 499.3,261.9 497.7,261.7 496.0,262.0 494.4,261.9 492.8,262.0 491.1,262.1 489.5,262.1 487.9,261.8 486.3,261.9 484.6,261.9 483.0,262.0 481.4,262.2 479.7,262.1 478.1,262.1 476.5,262.0 474.8,262.0 473.2,262.1 471.6,262.0 469.9,262.2Z M538.7,254.1 540.3,254.1 542.0,254.2 543.6,253.9 545.2,253.9 546.9,253.7 548.5,253.7 550.2,253.7 551.8,253.5 553.5,253.5 555.1,253.6 556.8,253.4 558.4,253.5 560.0,253.3 561.7,253.1 563.3,253.3 565.0,253.2 566.6,253.2 568.3,253.2 569.9,252.9 571.5,253.0 573.2,253.0 573.2,254.5 571.5,254.6 569.9,254.4 568.3,254.5 566.6,254.6 565.0,254.7 563.3,254.9 561.7,254.9 560.0,255.0 558.4,254.9 556.8,255.2 555.1,255.0 553.5,255.3 551.8,255.2 550.2,255.2 548.5,255.5 546.9,255.5 545.2,255.5 543.6,255.4 542.0,255.8 540.3,255.8 538.7,255.6Z M538.7,259.3 540.3,259.3 542.0,258.9 543.6,259.0 545.2,259.0 546.9,258.8 548.5,259.0 550.2,258.9 551.8,258.9 553.5,258.6 555.1,258.5 556.8,258.7 558.4,258.5 560.0,258.3 561.7,258.4 563.3,258.5 565.0,258.4 566.6,258.1 568.3,258.2 569.9,258.3 571.5,258.2 573.2,258.1 573.2,259.7 571.5,259.5 569.9,259.9 568.3,259.8 566.6,259.7 565.0,259.7 563.3,260.0 561.7,259.9 560.0,259.9 558.4,260.2 556.8,260.1 555.1,260.2 553.5,260.2 551.8,260.4 550.2,260.2 548.5,260.6 546.9,260.4 545.2,260.7 543.6,260.8 542.0,260.5 540.3,260.8 538.7,260.6Z M606.4,251.1 608.0,250.9 609.7,251.1 611.3,250.7 612.9,250.7 614.6,250.7 616.2,250.7 617.8,250.4 619.5,250.4 621.1,250.2 622.8,250.3 624.4,250.0 626.0,250.0 627.7,249.8 629.3,249.9 630.9,249.6 632.6,249.8 634.2,249.4 635.8,249.6 637.5,249.5 639.1,249.4 640.7,249.3 642.4,249.0 644.0,249.1 645.7,248.9 647.3,249.0 648.9,248.7 650.6,248.8 652.2,248.8 653.8,248.5 655.5,248.5 655.5,250.0 653.8,250.4 652.2,250.2 650.6,250.3 648.9,250.6 647.3,250.6 645.7,250.8 644.0,250.8 642.4,251.0 640.7,251.0 639.1,251.0 637.5,251.0 635.8,251.3 634.2,251.4 632.6,251.6 630.9,251.6 629.3,251.8 627.7,251.8 626.0,251.7 624.4,251.9 622.8,251.8 621.1,251.9 619.5,252.1 617.8,252.2 616.2,252.4 614.6,252.2 612.9,252.4 611.3,252.6 609.7,252.7 608.0,252.6 606.4,252.9Z M606.4,257.2 608.0,257.0 609.7,256.7 611.3,256.8 612.9,256.7 614.6,256.5 616.2,256.5 617.8,256.5 619.5,256.2 621.1,256.0 622.8,256.1 624.4,255.7 626.0,255.6 627.7,255.7 629.3,255.7 630.9,255.6 632.6,255.4 634.2,255.1 635.8,255.0 637.5,255.1 639.1,254.8 640.7,254.6 642.4,254.5 644.0,254.6 645.7,254.6 647.3,254.4 648.9,254.4 650.6,254.2 652.2,254.2 653.8,253.9 655.5,253.7 655.5,255.3 653.8,255.4 652.2,255.7 650.6,255.7 648.9,255.9 647.3,255.9 645.7,256.1 644.0,256.2 642.4,256.2 640.7,256.5 639.1,256.5 637.5,256.6 635.8,256.8 634.2,257.0 632.6,257.0 630.9,257.2 629.3,257.2 627.7,257.3 626.0,257.5 624.4,257.3 622.8,257.5 621.1,257.6 619.5,258.0 617.8,257.8 616.2,257.9 614.6,258.2 612.9,258.1 611.3,258.3 609.7,258.6 608.0,258.7 606.4,258.7Z" fill="#0000ff"/>
<path d="M472.8,46.3 475.0,46.9 476.0,47.9 477.8,47.9 479.7,48.3 481.6,48.9 483.0,49.6 484.5,50.2 485.9,49.9 487.6,51.2 489.2,51.2 491.2,52.1 492.8,52.4 494.2,52.5 495.4,53.5 497.4,54.1 498.6,54.6 500.2,54.9 502.0,55.6 503.7,55.5 505.4,56.0 507.0,57.1 508.6,57.9 509.7,58.5 511.8,59.0 513.5,59.3 514.9,59.9 516.5,60.5 517.7,60.6 519.2,61.3 520.4,62.5 522.0,62.6 524.2,63.4 525.2,66.3 524.6,67.2 523.2,65.9 521.3,65.8 520.1,65.7 518.1,64.7 516.8,64.6 514.9,64.4 513.3,64.6 511.8,64.2 509.8,63.5 508.5,63.3 506.7,63.2 505.2,62.8 503.6,62.3 501.8,61.4 500.5,61.5 498.8,61.4 497.5,60.6 495.3,60.0 493.8,59.9 492.3,59.2 491.0,58.3 489.6,57.7 487.6,57.8 485.8,56.9 484.1,55.8 482.9,56.0 481.6,55.3 479.4,54.6 477.8,53.5 476.6,53.9 474.7,53.1 473.2,52.5Z" fill="url(#gb1)"/>
<path d="M538.8,67.3 540.1,67.9 542.2,67.4 543.5,68.3 545.0,67.8 546.5,68.4 548.6,68.0 549.8,68.0 551.1,69.1 552.9,69.1 554.5,69.4 556.2,70.3 557.1,70.5 558.6,71.1 560.4,71.1 562.5,72.3 563.6,72.8 565.5,72.7 567.0,73.9 568.4,74.2 570.3,75.0 572.2,75.1 573.4,76.4 573.2,79.0 571.5,79.0 569.9,78.8 568.5,78.4 566.9,78.7 565.0,77.8 563.8,77.9 561.5,77.1 560.4,77.0 558.9,77.0 556.6,76.6 555.7,76.4 554.0,75.5 552.4,75.3 550.3,74.2 548.4,73.6 547.0,73.3 545.2,73.4 543.6,73.6 541.9,72.8 540.5,72.2 538.9,72.0Z" fill="url(#gb2)"/>
<path d="M617.4,83.5 619.2,81.7 620.7,81.4 623.0,81.0 624.2,81.0 626.4,80.2 628.0,80.1 629.0,80.0 631.3,80.2 633.0,80.5 633.8,81.3 635.4,81.6 637.5,81.5 638.4,81.3 640.0,81.8 641.9,82.2 641.7,85.0 640.4,85.4 638.1,85.9 637.0,85.7 635.4,85.5 633.8,86.2 631.9,86.2 630.1,86.0 628.8,85.5 627.1,86.2 625.8,86.3 623.7,85.7 621.8,86.0 620.1,85.5 618.7,85.5 617.1,85.0Z" fill="url(#gb3)"/>
<path d="M649.6,84.5 651.8,84.4 653.2,83.3 653.5,85.7 651.7,85.9 649.2,85.5Z" fill="#0000c4"/>
<defs><linearGradient id="clbu" gradientUnits="userSpaceOnUse" x1="468.6" y1="0" x2="520.8" y2="0"><stop offset="0.000" stop-color="#0000ff"/><stop offset="0.115" stop-color="#0060ff"/><stop offset="0.212" stop-color="#00e0ff"/><stop offset="0.288" stop-color="#80ff80"/><stop offset="0.346" stop-color="#ffe000"/><stop offset="0.654" stop-color="#ffc000"/><stop offset="0.750" stop-color="#40ffc0"/><stop offset="0.827" stop-color="#00c0ff"/><stop offset="0.904" stop-color="#0050ff"/><stop offset="1.000" stop-color="#0000ff"/></linearGradient></defs>
<defs><linearGradient id="clbs" gradientUnits="userSpaceOnUse" x1="468.6" y1="0" x2="509.8" y2="0"><stop offset="0.000" stop-color="#0000ff"/><stop offset="0.195" stop-color="#0040ff"/><stop offset="0.317" stop-color="#00c0ff"/><stop offset="0.415" stop-color="#ffe000"/><stop offset="0.732" stop-color="#ffd000"/><stop offset="0.854" stop-color="#00e0ff"/><stop offset="1.000" stop-color="#0000ff"/></linearGradient></defs>
<path d="M468.6,208.6 470.3,207.6 471.9,206.9 473.5,206.1 475.1,205.9 476.7,205.3 478.4,204.2 480.0,203.7 481.6,202.9 483.2,202.1 484.8,201.3 486.5,200.5 488.1,199.8 489.7,199.2 491.3,198.6 493.0,197.6 494.6,197.2 496.2,196.2 497.8,195.6 499.4,194.8 501.1,194.2 502.7,193.3 504.3,193.0 505.9,192.4 507.5,191.2 509.2,190.9 510.8,190.2 510.8,192.6 509.2,193.3 507.5,193.9 505.9,194.9 504.3,195.2 502.7,196.2 501.1,196.8 499.4,197.2 497.8,198.1 496.2,199.3 494.6,199.9 493.0,200.7 491.3,201.2 489.7,201.5 488.1,202.5 486.5,203.4 484.8,203.8 483.2,204.7 481.6,205.7 480.0,206.0 478.4,206.6 476.7,207.3 475.1,208.4 473.5,209.3 471.9,209.8 470.3,210.2 468.6,211.3Z" fill="url(#clbs)"/>
<path d="M467.6,199.5 469.2,198.5 470.9,198.0 472.5,196.7 474.1,196.6 475.7,195.8 477.3,194.6 478.9,194.0 480.5,193.4 482.1,192.6 483.7,191.9 485.4,191.0 487.0,190.6 488.6,190.0 490.2,189.4 491.8,188.6 493.4,187.9 495.0,186.7 496.6,186.1 498.3,185.1 499.9,184.2 501.5,183.6 503.1,183.2 504.7,182.1 506.3,181.9 507.9,181.0 509.5,180.5 511.1,179.7 512.8,179.1 514.4,177.8 516.0,176.8 517.6,176.2 519.2,175.5 520.8,175.2 520.8,178.2 519.2,178.8 517.6,180.2 516.0,181.1 514.4,181.0 512.8,182.3 511.1,182.8 509.5,183.9 507.9,184.1 506.3,185.0 504.7,186.0 503.1,186.8 501.5,187.2 499.9,188.1 498.3,188.7 496.6,190.0 495.0,189.9 493.4,190.8 491.8,192.0 490.2,192.7 488.6,192.8 487.0,194.4 485.4,194.8 483.7,195.4 482.1,195.9 480.5,196.9 478.9,197.6 477.3,198.1 475.7,199.1 474.1,199.7 472.5,200.3 470.9,201.4 469.2,201.9 467.6,202.7Z" fill="url(#clbu)"/>
<path d="M468.6,191.4 470.3,190.0 471.9,189.1 473.5,188.9 475.2,188.1 476.8,187.1 478.4,186.0 480.1,185.8 481.7,185.3 483.3,183.7 484.9,183.5 486.6,182.3 488.2,182.1 489.8,180.9 491.5,180.3 493.1,179.4 494.7,178.7 496.4,178.0 498.0,176.8 499.6,176.3 501.2,175.9 502.9,175.3 504.5,174.4 506.1,173.5 507.8,172.6 509.4,172.0 511.0,170.9 512.7,170.4 514.3,169.9 515.9,168.9 517.6,168.7 519.2,168.0 520.8,166.9 520.8,171.2 519.2,171.6 517.6,172.6 515.9,173.5 514.3,174.3 512.7,175.1 511.0,176.0 509.4,176.6 507.8,177.4 506.1,177.8 504.5,179.1 502.9,179.5 501.2,180.5 499.6,181.5 498.0,181.7 496.4,182.5 494.7,183.1 493.1,183.8 491.5,185.3 489.8,186.0 488.2,186.6 486.6,187.4 484.9,188.2 483.3,188.9 481.7,189.3 480.1,190.7 478.4,191.1 476.8,191.9 475.2,192.8 473.5,192.8 471.9,193.7 470.3,194.5 468.6,195.6Z" fill="url(#clbu)"/>
<ellipse cx="494.7" cy="186.0" rx="9" ry="3.2" transform="rotate(-24 494.7 186.0)" fill="#ffe000" fill-opacity="1"/>
<ellipse cx="495.7" cy="191.0" rx="9" ry="3.5" transform="rotate(-24 495.7 191.0)" fill="#ff8a00" fill-opacity="1"/>
<ellipse cx="494.7" cy="191.0" rx="7" ry="3.2" transform="rotate(-24 494.7 191.0)" fill="#1a0000" fill-opacity="1"/>
<ellipse cx="492.7" cy="197.5" rx="5" ry="1.4" transform="rotate(-24 492.7 197.5)" fill="#ffd000" fill-opacity="1"/>
<ellipse cx="487.7" cy="258.0" rx="5" ry="2.2" transform="rotate(-10 487.7 258.0)" fill="#00e0e0" fill-opacity="1"/>
<ellipse cx="493.7" cy="260.5" rx="4" ry="1.6" transform="rotate(0 493.7 260.5)" fill="#ffe000" fill-opacity="1"/>
<ellipse cx="491.7" cy="258.5" rx="3" ry="1.6" transform="rotate(0 491.7 258.5)" fill="#a0ff60" fill-opacity="1"/>
<path d="M423.2,262.5H436.0M429.5,257.0V267.0" stroke="#000" stroke-width="1.25"/><circle cx="429.6" cy="262.0" r="3.1" fill="#ff00ff" stroke="#000" stroke-width="0.75"/>
<path d="M440.7,261.5H453.5M447.5,256.6V266.6" stroke="#000" stroke-width="1.25"/><circle cx="447.1" cy="261.6" r="3.1" fill="#ff00ff" stroke="#000" stroke-width="0.75"/>
<path d="M478.0,256.5H490.8M484.5,251.5V261.5" stroke="#000" stroke-width="1.25"/><circle cx="484.4" cy="256.5" r="3.1" fill="#ff00ff" stroke="#000" stroke-width="0.75"/>
<path d="M484.5,259.5H497.3M490.5,254.5V264.5" stroke="#000" stroke-width="1.25"/><circle cx="490.9" cy="259.5" r="3.1" fill="#ff00ff" stroke="#000" stroke-width="0.75"/>
<path d="M488.3,258.5H501.1M494.5,253.0V263.0" stroke="#000" stroke-width="1.25"/><circle cx="494.7" cy="258.0" r="3.1" fill="#ff00ff" stroke="#000" stroke-width="0.75"/>
<path d="M492.3,263.5H505.1M498.5,258.2V268.2" stroke="#000" stroke-width="1.25"/><circle cx="498.7" cy="263.2" r="3.1" fill="#ff00ff" stroke="#000" stroke-width="0.75"/>
<path d="M503.6,260.5H516.4M509.5,255.5V265.5" stroke="#000" stroke-width="1.25"/><circle cx="510.0" cy="260.5" r="3.1" fill="#ff00ff" stroke="#000" stroke-width="0.75"/>
<path d="M537.1,259.5H549.9M543.5,254.1V264.1" stroke="#000" stroke-width="1.25"/><circle cx="543.5" cy="259.1" r="3.1" fill="#ff00ff" stroke="#000" stroke-width="0.75"/>
<path d="M617.7,259.5H630.5M624.5,254.5V264.5" stroke="#000" stroke-width="1.25"/><circle cx="624.1" cy="259.5" r="3.1" fill="#ff00ff" stroke="#000" stroke-width="0.75"/>
<path d="M624.8,258.5H637.6M631.5,253.5V263.5" stroke="#000" stroke-width="1.25"/><circle cx="631.2" cy="258.5" r="3.1" fill="#ff00ff" stroke="#000" stroke-width="0.75"/>
<path d="M423.2,257.5H436.0M429.5,252.5V262.5" stroke="#000" stroke-width="1.25"/><circle cx="429.6" cy="257.5" r="3.1" fill="#88e088" stroke="#000" stroke-width="0.75"/>
<path d="M440.7,256.5H453.5M447.5,251.5V261.5" stroke="#000" stroke-width="1.25"/><circle cx="447.1" cy="256.5" r="3.1" fill="#88e088" stroke="#000" stroke-width="0.75"/>
<path d="M478.0,252.5H490.8M484.5,247.4V257.4" stroke="#000" stroke-width="1.25"/><circle cx="484.4" cy="252.4" r="3.1" fill="#88e088" stroke="#000" stroke-width="0.75"/>
<path d="M484.5,253.5H497.3M490.5,248.0V258.0" stroke="#000" stroke-width="1.25"/><circle cx="490.9" cy="253.0" r="3.1" fill="#88e088" stroke="#000" stroke-width="0.75"/>
<path d="M488.3,254.5H501.1M494.5,249.5V259.5" stroke="#000" stroke-width="1.25"/><circle cx="494.7" cy="254.5" r="3.1" fill="#88e088" stroke="#000" stroke-width="0.75"/>
<path d="M492.3,253.5H505.1M498.5,248.4V258.4" stroke="#000" stroke-width="1.25"/><circle cx="498.7" cy="253.4" r="3.1" fill="#88e088" stroke="#000" stroke-width="0.75"/>
<path d="M493.3,259.5H506.1M499.5,254.1V264.1" stroke="#000" stroke-width="1.25"/><circle cx="499.7" cy="259.1" r="3.1" fill="#88e088" stroke="#000" stroke-width="0.75"/>
<path d="M503.6,255.5H516.4M509.5,250.0V260.0" stroke="#000" stroke-width="1.25"/><circle cx="510.0" cy="255.0" r="3.1" fill="#88e088" stroke="#000" stroke-width="0.75"/>
<path d="M537.1,253.5H549.9M543.5,248.0V258.0" stroke="#000" stroke-width="1.25"/><circle cx="543.5" cy="253.0" r="3.1" fill="#88e088" stroke="#000" stroke-width="0.75"/>
<path d="M617.7,248.5H630.5M624.5,243.3V253.3" stroke="#000" stroke-width="1.25"/><circle cx="624.1" cy="248.3" r="3.1" fill="#88e088" stroke="#000" stroke-width="0.75"/>
<path d="M624.8,247.5H637.6M631.5,242.7V252.7" stroke="#000" stroke-width="1.25"/><circle cx="631.2" cy="247.7" r="3.1" fill="#88e088" stroke="#000" stroke-width="0.75"/>
<path d="M423.5,227.5H436.3M429.5,222.2V232.2" stroke="#000" stroke-width="1.25"/><path d="M429.9,225.1L432.9,230.2L426.9,230.2Z" fill="#808080" stroke="#000" stroke-width="0.8" stroke-linejoin="miter"/>
<path d="M440.5,219.5H453.3M446.5,214.0V224.0" stroke="#000" stroke-width="1.25"/><path d="M446.9,216.9L449.9,222.0L443.9,222.0Z" fill="#808080" stroke="#000" stroke-width="0.8" stroke-linejoin="miter"/>
<path d="M477.9,203.5H490.7M484.5,198.4V208.4" stroke="#000" stroke-width="1.25"/><path d="M484.3,201.3L487.3,206.4L481.3,206.4Z" fill="#808080" stroke="#000" stroke-width="0.8" stroke-linejoin="miter"/>
<path d="M484.9,200.5H497.7M491.5,195.7V205.7" stroke="#000" stroke-width="1.25"/><path d="M491.3,198.6L494.3,203.7L488.3,203.7Z" fill="#808080" stroke="#000" stroke-width="0.8" stroke-linejoin="miter"/>
<path d="M488.0,199.5H500.8M494.5,194.0V204.0" stroke="#000" stroke-width="1.25"/><path d="M494.4,196.9L497.4,202.0L491.4,202.0Z" fill="#808080" stroke="#000" stroke-width="0.8" stroke-linejoin="miter"/>
<path d="M492.4,196.5H505.2M498.5,191.8V201.8" stroke="#000" stroke-width="1.25"/><path d="M498.8,194.7L501.8,199.8L495.8,199.8Z" fill="#808080" stroke="#000" stroke-width="0.8" stroke-linejoin="miter"/>
<path d="M503.4,192.5H516.2M509.5,187.0V197.0" stroke="#000" stroke-width="1.25"/><path d="M509.8,189.9L512.8,195.0L506.8,195.0Z" fill="#808080" stroke="#000" stroke-width="0.8" stroke-linejoin="miter"/>
<path d="M536.7,177.5H549.5M543.5,172.3V182.3" stroke="#000" stroke-width="1.25"/><path d="M543.1,175.2L546.1,180.3L540.1,180.3Z" fill="#808080" stroke="#000" stroke-width="0.8" stroke-linejoin="miter"/>
<path d="M617.4,142.5H630.2M623.5,137.0V147.0" stroke="#000" stroke-width="1.25"/><path d="M623.8,139.9L626.8,145.0L620.8,145.0Z" fill="#808080" stroke="#000" stroke-width="0.8" stroke-linejoin="miter"/>
<path d="M625.0,138.5H637.8M631.5,133.5V143.5" stroke="#000" stroke-width="1.25"/><path d="M631.4,136.4L634.4,141.5L628.4,141.5Z" fill="#808080" stroke="#000" stroke-width="0.8" stroke-linejoin="miter"/>
<path d="M423.5,218.5H436.3M429.5,213.4V223.4" stroke="#000" stroke-width="1.25"/><path d="M429.9,216.3L432.9,221.4L426.9,221.4Z" fill="#ff00ff" stroke="#000" stroke-width="0.8" stroke-linejoin="miter"/>
<path d="M440.5,213.5H453.3M446.5,208.1V218.1" stroke="#000" stroke-width="1.25"/><path d="M446.9,211.0L449.9,216.1L443.9,216.1Z" fill="#ff00ff" stroke="#000" stroke-width="0.8" stroke-linejoin="miter"/>
<path d="M477.9,195.5H490.7M484.5,190.0V200.0" stroke="#000" stroke-width="1.25"/><path d="M484.3,192.9L487.3,198.0L481.3,198.0Z" fill="#ff00ff" stroke="#000" stroke-width="0.8" stroke-linejoin="miter"/>
<path d="M484.9,192.5H497.7M491.5,187.8V197.8" stroke="#000" stroke-width="1.25"/><path d="M491.3,190.7L494.3,195.8L488.3,195.8Z" fill="#ff00ff" stroke="#000" stroke-width="0.8" stroke-linejoin="miter"/>
<path d="M488.4,189.5H501.2M494.5,184.3V194.3" stroke="#000" stroke-width="1.25"/><path d="M494.8,187.2L497.8,192.3L491.8,192.3Z" fill="#ff00ff" stroke="#000" stroke-width="0.8" stroke-linejoin="miter"/>
<path d="M492.8,189.5H505.6M499.5,184.8V194.8" stroke="#000" stroke-width="1.25"/><path d="M499.2,187.7L502.2,192.8L496.2,192.8Z" fill="#ff00ff" stroke="#000" stroke-width="0.8" stroke-linejoin="miter"/>
<path d="M503.4,182.5H516.2M509.5,177.6V187.6" stroke="#000" stroke-width="1.25"/><path d="M509.8,180.5L512.8,185.6L506.8,185.6Z" fill="#ff00ff" stroke="#000" stroke-width="0.8" stroke-linejoin="miter"/>
<path d="M536.7,166.5H549.5M543.5,161.4V171.4" stroke="#000" stroke-width="1.25"/><path d="M543.1,164.3L546.1,169.4L540.1,169.4Z" fill="#ff00ff" stroke="#000" stroke-width="0.8" stroke-linejoin="miter"/>
<path d="M618.0,126.5H630.8M624.5,121.2V131.2" stroke="#000" stroke-width="1.25"/><path d="M624.4,124.1L627.4,129.2L621.4,129.2Z" fill="#ff00ff" stroke="#000" stroke-width="0.8" stroke-linejoin="miter"/>
<path d="M625.0,126.5H637.8M631.5,121.8V131.8" stroke="#000" stroke-width="1.25"/><path d="M631.4,124.7L634.4,129.8L628.4,129.8Z" fill="#ff00ff" stroke="#000" stroke-width="0.8" stroke-linejoin="miter"/>
<path d="M423.5,213.5H436.3M429.5,208.1V218.1" stroke="#000" stroke-width="1.25"/><path d="M429.9,211.0L432.9,216.1L426.9,216.1Z" fill="#88e088" stroke="#000" stroke-width="0.8" stroke-linejoin="miter"/>
<path d="M440.5,206.5H453.3M446.5,201.7V211.7" stroke="#000" stroke-width="1.25"/><path d="M446.9,204.6L449.9,209.7L443.9,209.7Z" fill="#88e088" stroke="#000" stroke-width="0.8" stroke-linejoin="miter"/>
<path d="M477.9,187.5H490.7M484.5,182.9V192.9" stroke="#000" stroke-width="1.25"/><path d="M484.3,185.8L487.3,190.9L481.3,190.9Z" fill="#88e088" stroke="#000" stroke-width="0.8" stroke-linejoin="miter"/>
<path d="M484.5,183.5H497.3M490.5,178.2V188.2" stroke="#000" stroke-width="1.25"/><path d="M490.9,181.1L493.9,186.2L487.9,186.2Z" fill="#88e088" stroke="#000" stroke-width="0.8" stroke-linejoin="miter"/>
<path d="M488.0,185.5H500.8M494.5,180.4V190.4" stroke="#000" stroke-width="1.25"/><path d="M494.4,183.3L497.4,188.4L491.4,188.4Z" fill="#88e088" stroke="#000" stroke-width="0.8" stroke-linejoin="miter"/>
<path d="M491.9,181.5H504.7M498.5,176.0V186.0" stroke="#000" stroke-width="1.25"/><path d="M498.3,178.9L501.3,184.0L495.3,184.0Z" fill="#88e088" stroke="#000" stroke-width="0.8" stroke-linejoin="miter"/>
<path d="M493.3,182.5H506.1M499.5,177.3V187.3" stroke="#000" stroke-width="1.25"/><path d="M499.7,180.2L502.7,185.3L496.7,185.3Z" fill="#88e088" stroke="#000" stroke-width="0.8" stroke-linejoin="miter"/>
<path d="M492.4,186.5H505.2M498.5,181.3V191.3" stroke="#000" stroke-width="1.25"/><path d="M498.8,184.2L501.8,189.3L495.8,189.3Z" fill="#88e088" stroke="#000" stroke-width="0.8" stroke-linejoin="miter"/>
<path d="M503.9,176.5H516.7M510.5,171.2V181.2" stroke="#000" stroke-width="1.25"/><path d="M510.3,174.1L513.3,179.2L507.3,179.2Z" fill="#88e088" stroke="#000" stroke-width="0.8" stroke-linejoin="miter"/>
<path d="M536.7,157.5H549.5M543.5,152.2V162.2" stroke="#000" stroke-width="1.25"/><path d="M543.1,155.1L546.1,160.2L540.1,160.2Z" fill="#88e088" stroke="#000" stroke-width="0.8" stroke-linejoin="miter"/>
<path d="M625.0,116.5H637.8M631.5,111.9V121.9" stroke="#000" stroke-width="1.25"/><path d="M631.4,114.8L634.4,119.9L628.4,119.9Z" fill="#88e088" stroke="#000" stroke-width="0.8" stroke-linejoin="miter"/>
<path d="M493.3,43.5H506.1M499.5,38.4V48.4" stroke="#000" stroke-width="1.25"/><path d="M499.7,41.3L502.7,46.4L496.7,46.4Z" fill="#8b0000" stroke="#000" stroke-width="0.8" stroke-linejoin="miter"/>
<path d="M503.9,44.5H516.7M510.5,39.2V49.2" stroke="#000" stroke-width="1.25"/><path d="M510.3,42.1L513.3,47.2L507.3,47.2Z" fill="#8b0000" stroke="#000" stroke-width="0.8" stroke-linejoin="miter"/>
<path d="M484.7,54.5H497.5M491.5,49.1V59.1" stroke="#000" stroke-width="1.25"/><path d="M491.1,52.0L494.1,57.1L488.1,57.1Z" fill="#8b0000" stroke="#000" stroke-width="0.8" stroke-linejoin="miter"/>
<path d="M491.9,61.5H504.7M498.5,56.0V66.0" stroke="#000" stroke-width="1.25"/><path d="M498.3,58.9L501.3,64.0L495.3,64.0Z" fill="#8b0000" stroke="#000" stroke-width="0.8" stroke-linejoin="miter"/>
<path d="M484.7,65.5H497.5M491.5,60.0V70.0" stroke="#000" stroke-width="1.25"/><path d="M491.1,62.9L494.1,68.0L488.1,68.0Z" fill="#8b0000" stroke="#000" stroke-width="0.8" stroke-linejoin="miter"/>
<path d="M486.9,72.5H499.7M493.5,67.3V77.3" stroke="#000" stroke-width="1.25"/><path d="M493.3,70.2L496.3,75.3L490.3,75.3Z" fill="#8b0000" stroke="#000" stroke-width="0.8" stroke-linejoin="miter"/>
<path d="M477.9,77.5H490.7M484.5,72.0V82.0" stroke="#000" stroke-width="1.25"/><path d="M484.3,74.9L487.3,80.0L481.3,80.0Z" fill="#8b0000" stroke="#000" stroke-width="0.8" stroke-linejoin="miter"/>
<path d="M525.3,80.5H538.1M531.5,75.8V85.8" stroke="#000" stroke-width="1.25"/><path d="M531.7,78.7L534.7,83.8L528.7,83.8Z" fill="#8b0000" stroke="#000" stroke-width="0.8" stroke-linejoin="miter"/>
<path d="M537.0,89.5H549.8M543.5,84.9V94.9" stroke="#000" stroke-width="1.25"/><path d="M543.4,87.8L546.4,92.9L540.4,92.9Z" fill="#8b0000" stroke="#000" stroke-width="0.8" stroke-linejoin="miter"/>
<path d="M625.3,78.5H638.1M631.5,73.6V83.6" stroke="#000" stroke-width="1.25"/><path d="M631.7,76.5L634.7,81.6L628.7,81.6Z" fill="#8b0000" stroke="#000" stroke-width="0.8" stroke-linejoin="miter"/>
<path d="M418.6,48.5H427.2M422.5,44.2V53.4" stroke="#000" stroke-width="1.25"/><circle cx="422.9" cy="48.8" r="3.1" fill="#ff00ff" stroke="#000" stroke-width="0.75"/>
<text x="434.1" y="53.6" font-size="13.5">PP</text>
<path d="M418.6,62.5H427.2M422.5,57.5V66.7" stroke="#000" stroke-width="1.25"/><circle cx="422.9" cy="62.1" r="3.1" fill="#88e088" stroke="#000" stroke-width="0.75"/>
<text x="434.1" y="66.9" font-size="13.5">PPP</text>
<path d="M418.6,75.5H427.2M422.5,70.8V80.0" stroke="#000" stroke-width="1.25"/><path d="M422.9,73.3L425.9,78.4L419.9,78.4Z" fill="#808080" stroke="#000" stroke-width="0.8" stroke-linejoin="miter"/>
<text x="434.1" y="80.2" font-size="13.5">S</text>
<path d="M418.6,88.5H427.2M422.5,84.2V93.4" stroke="#000" stroke-width="1.25"/><path d="M422.9,86.7L425.9,91.8L419.9,91.8Z" fill="#ff00ff" stroke="#000" stroke-width="0.8" stroke-linejoin="miter"/>
<text x="434.1" y="93.6" font-size="13.5">SS</text>
<path d="M418.6,102.5H427.2M422.5,97.5V106.7" stroke="#000" stroke-width="1.25"/><path d="M422.9,100.0L425.9,105.1L419.9,105.1Z" fill="#88e088" stroke="#000" stroke-width="0.8" stroke-linejoin="miter"/>
<text x="434.1" y="106.9" font-size="13.5">SSS</text>
<path d="M418.6,115.5H427.2M422.5,110.8V120.0" stroke="#000" stroke-width="1.25"/><path d="M422.9,113.3L425.9,118.4L419.9,118.4Z" fill="#8b0000" stroke="#000" stroke-width="0.8" stroke-linejoin="miter"/>
<text x="434.1" y="120.2" font-size="13.5">ScS</text>
<line x1="188.05" y1="325.5" x2="188.05" y2="561.8" stroke="#111" stroke-width="1.5"/>
<line x1="60.5" y1="492.35" x2="328.5" y2="492.35" stroke="#111" stroke-width="1.5"/>
<line x1="533.20" y1="325.5" x2="533.20" y2="561.8" stroke="#111" stroke-width="1.5"/>
<line x1="404.6" y1="492.35" x2="674.6" y2="492.35" stroke="#111" stroke-width="1.5"/>
<line x1="190.30" y1="625.5" x2="190.30" y2="861.7" stroke="#111" stroke-width="1.5"/>
<line x1="60.5" y1="745.50" x2="328.5" y2="745.50" stroke="#111" stroke-width="1.5"/>
<line x1="535.40" y1="625.5" x2="535.40" y2="861.7" stroke="#111" stroke-width="1.5"/>
<line x1="404.6" y1="745.50" x2="674.6" y2="745.50" stroke="#111" stroke-width="1.5"/>
<rect x="60.5" y="30.5" width="268.00" height="236.90" fill="none" stroke="#222222" stroke-width="1.25"/>
<line x1="83.00" y1="267.4" x2="83.00" y2="263.9" stroke="#222222" stroke-width="1.1"/>
<text x="81.60" y="284.70" font-size="14.2" text-anchor="middle" >100</text>
<line x1="172.20" y1="267.4" x2="172.20" y2="263.9" stroke="#222222" stroke-width="1.1"/>
<text x="170.80" y="284.70" font-size="14.2" text-anchor="middle" >200</text>
<line x1="261.40" y1="267.4" x2="261.40" y2="263.9" stroke="#222222" stroke-width="1.1"/>
<text x="260.00" y="284.70" font-size="14.2" text-anchor="middle" >300</text>
<line x1="60.5" y1="267.40" x2="64.0" y2="267.40" stroke="#222222" stroke-width="1.1"/>
<text x="56.80" y="272.40" font-size="14.2" text-anchor="end" >0</text>
<line x1="60.5" y1="227.92" x2="64.0" y2="227.92" stroke="#222222" stroke-width="1.1"/>
<text x="56.80" y="232.92" font-size="14.2" text-anchor="end" >100</text>
<line x1="60.5" y1="188.43" x2="64.0" y2="188.43" stroke="#222222" stroke-width="1.1"/>
<text x="56.80" y="193.43" font-size="14.2" text-anchor="end" >200</text>
<line x1="60.5" y1="148.95" x2="64.0" y2="148.95" stroke="#222222" stroke-width="1.1"/>
<text x="56.80" y="153.95" font-size="14.2" text-anchor="end" >300</text>
<line x1="60.5" y1="109.47" x2="64.0" y2="109.47" stroke="#222222" stroke-width="1.1"/>
<text x="56.80" y="114.47" font-size="14.2" text-anchor="end" >400</text>
<line x1="60.5" y1="69.98" x2="64.0" y2="69.98" stroke="#222222" stroke-width="1.1"/>
<text x="56.80" y="74.98" font-size="14.2" text-anchor="end" >500</text>
<line x1="60.5" y1="30.50" x2="64.0" y2="30.50" stroke="#222222" stroke-width="1.1"/>
<text x="56.80" y="35.50" font-size="14.2" text-anchor="end" >600</text>
<rect x="404.6" y="30.5" width="270.00" height="236.90" fill="none" stroke="#222222" stroke-width="1.25"/>
<line x1="427.50" y1="267.4" x2="427.50" y2="263.9" stroke="#222222" stroke-width="1.1"/>
<text x="428.00" y="284.70" font-size="14.2" text-anchor="middle" >100</text>
<line x1="517.00" y1="267.4" x2="517.00" y2="263.9" stroke="#222222" stroke-width="1.1"/>
<text x="517.50" y="284.70" font-size="14.2" text-anchor="middle" >200</text>
<line x1="606.50" y1="267.4" x2="606.50" y2="263.9" stroke="#222222" stroke-width="1.1"/>
<text x="607.00" y="284.70" font-size="14.2" text-anchor="middle" >300</text>
<line x1="404.6" y1="227.92" x2="408.1" y2="227.92" stroke="#222222" stroke-width="1.1"/>
<text x="400.90" y="232.92" font-size="14.2" text-anchor="end" >100</text>
<line x1="404.6" y1="188.43" x2="408.1" y2="188.43" stroke="#222222" stroke-width="1.1"/>
<text x="400.90" y="193.43" font-size="14.2" text-anchor="end" >200</text>
<line x1="404.6" y1="148.95" x2="408.1" y2="148.95" stroke="#222222" stroke-width="1.1"/>
<text x="400.90" y="153.95" font-size="14.2" text-anchor="end" >300</text>
<line x1="404.6" y1="109.47" x2="408.1" y2="109.47" stroke="#222222" stroke-width="1.1"/>
<text x="400.90" y="114.47" font-size="14.2" text-anchor="end" >400</text>
<line x1="404.6" y1="69.98" x2="408.1" y2="69.98" stroke="#222222" stroke-width="1.1"/>
<text x="400.90" y="74.98" font-size="14.2" text-anchor="end" >500</text>
<line x1="404.6" y1="30.50" x2="408.1" y2="30.50" stroke="#222222" stroke-width="1.1"/>
<text x="400.90" y="35.50" font-size="14.2" text-anchor="end" >600</text>
<rect x="60.5" y="325.5" width="268.00" height="236.30" fill="none" stroke="#222222" stroke-width="1.25"/>
<line x1="60.50" y1="561.8" x2="60.50" y2="558.3" stroke="#222222" stroke-width="1.1"/>
<text x="58.60" y="581.40" font-size="14.2" text-anchor="middle" >730</text>
<line x1="127.50" y1="561.8" x2="127.50" y2="558.3" stroke="#222222" stroke-width="1.1"/>
<text x="125.60" y="581.40" font-size="14.2" text-anchor="middle" >740</text>
<line x1="194.50" y1="561.8" x2="194.50" y2="558.3" stroke="#222222" stroke-width="1.1"/>
<text x="192.60" y="581.40" font-size="14.2" text-anchor="middle" >750</text>
<line x1="261.50" y1="561.8" x2="261.50" y2="558.3" stroke="#222222" stroke-width="1.1"/>
<text x="259.60" y="581.40" font-size="14.2" text-anchor="middle" >760</text>
<line x1="328.50" y1="561.8" x2="328.50" y2="558.3" stroke="#222222" stroke-width="1.1"/>
<text x="326.60" y="581.40" font-size="14.2" text-anchor="middle" >770</text>
<line x1="60.5" y1="561.80" x2="64.0" y2="561.80" stroke="#222222" stroke-width="1.1"/>
<text x="56.80" y="566.80" font-size="14.2" text-anchor="end" >160</text>
<line x1="60.5" y1="494.29" x2="64.0" y2="494.29" stroke="#222222" stroke-width="1.1"/>
<text x="56.80" y="499.29" font-size="14.2" text-anchor="end" >180</text>
<line x1="60.5" y1="426.77" x2="64.0" y2="426.77" stroke="#222222" stroke-width="1.1"/>
<text x="56.80" y="431.77" font-size="14.2" text-anchor="end" >200</text>
<line x1="60.5" y1="359.26" x2="64.0" y2="359.26" stroke="#222222" stroke-width="1.1"/>
<text x="56.80" y="364.26" font-size="14.2" text-anchor="end" >220</text>
<rect x="404.6" y="325.5" width="270.00" height="236.30" fill="none" stroke="#222222" stroke-width="1.25"/>
<line x1="404.60" y1="561.8" x2="404.60" y2="558.3" stroke="#222222" stroke-width="1.1"/>
<text x="402.70" y="581.40" font-size="14.2" text-anchor="middle" >730</text>
<line x1="472.10" y1="561.8" x2="472.10" y2="558.3" stroke="#222222" stroke-width="1.1"/>
<text x="470.20" y="581.40" font-size="14.2" text-anchor="middle" >740</text>
<line x1="539.60" y1="561.8" x2="539.60" y2="558.3" stroke="#222222" stroke-width="1.1"/>
<text x="537.70" y="581.40" font-size="14.2" text-anchor="middle" >750</text>
<line x1="607.10" y1="561.8" x2="607.10" y2="558.3" stroke="#222222" stroke-width="1.1"/>
<text x="605.20" y="581.40" font-size="14.2" text-anchor="middle" >760</text>
<line x1="674.60" y1="561.8" x2="674.60" y2="558.3" stroke="#222222" stroke-width="1.1"/>
<text x="672.70" y="581.40" font-size="14.2" text-anchor="middle" >770</text>
<line x1="404.6" y1="561.80" x2="408.1" y2="561.80" stroke="#222222" stroke-width="1.1"/>
<text x="400.90" y="566.80" font-size="14.2" text-anchor="end" >160</text>
<line x1="404.6" y1="494.29" x2="408.1" y2="494.29" stroke="#222222" stroke-width="1.1"/>
<text x="400.90" y="499.29" font-size="14.2" text-anchor="end" >180</text>
<line x1="404.6" y1="426.77" x2="408.1" y2="426.77" stroke="#222222" stroke-width="1.1"/>
<text x="400.90" y="431.77" font-size="14.2" text-anchor="end" >200</text>
<line x1="404.6" y1="359.26" x2="408.1" y2="359.26" stroke="#222222" stroke-width="1.1"/>
<text x="400.90" y="364.26" font-size="14.2" text-anchor="end" >220</text>
<rect x="60.5" y="625.5" width="268.00" height="236.20" fill="none" stroke="#222222" stroke-width="1.25"/>
<line x1="60.50" y1="861.7" x2="60.50" y2="858.2" stroke="#222222" stroke-width="1.1"/>
<text x="58.60" y="881.30" font-size="14.2" text-anchor="middle" >720</text>
<line x1="149.83" y1="861.7" x2="149.83" y2="858.2" stroke="#222222" stroke-width="1.1"/>
<text x="147.93" y="881.30" font-size="14.2" text-anchor="middle" >740</text>
<line x1="239.17" y1="861.7" x2="239.17" y2="858.2" stroke="#222222" stroke-width="1.1"/>
<text x="237.27" y="881.30" font-size="14.2" text-anchor="middle" >760</text>
<line x1="328.50" y1="861.7" x2="328.50" y2="858.2" stroke="#222222" stroke-width="1.1"/>
<text x="326.60" y="881.30" font-size="14.2" text-anchor="middle" >780</text>
<line x1="60.5" y1="861.70" x2="64.0" y2="861.70" stroke="#222222" stroke-width="1.1"/>
<text x="56.80" y="866.70" font-size="14.2" text-anchor="end" >300</text>
<line x1="60.5" y1="802.65" x2="64.0" y2="802.65" stroke="#222222" stroke-width="1.1"/>
<text x="56.80" y="807.65" font-size="14.2" text-anchor="end" >320</text>
<line x1="60.5" y1="743.60" x2="64.0" y2="743.60" stroke="#222222" stroke-width="1.1"/>
<text x="56.80" y="748.60" font-size="14.2" text-anchor="end" >340</text>
<line x1="60.5" y1="684.55" x2="64.0" y2="684.55" stroke="#222222" stroke-width="1.1"/>
<text x="56.80" y="689.55" font-size="14.2" text-anchor="end" >360</text>
<line x1="60.5" y1="625.50" x2="64.0" y2="625.50" stroke="#222222" stroke-width="1.1"/>
<text x="56.80" y="630.50" font-size="14.2" text-anchor="end" >380</text>
<rect x="404.6" y="625.5" width="270.00" height="236.20" fill="none" stroke="#222222" stroke-width="1.25"/>
<line x1="404.60" y1="861.7" x2="404.60" y2="858.2" stroke="#222222" stroke-width="1.1"/>
<text x="402.70" y="881.30" font-size="14.2" text-anchor="middle" >720</text>
<line x1="494.60" y1="861.7" x2="494.60" y2="858.2" stroke="#222222" stroke-width="1.1"/>
<text x="492.70" y="881.30" font-size="14.2" text-anchor="middle" >740</text>
<line x1="584.60" y1="861.7" x2="584.60" y2="858.2" stroke="#222222" stroke-width="1.1"/>
<text x="582.70" y="881.30" font-size="14.2" text-anchor="middle" >760</text>
<line x1="674.60" y1="861.7" x2="674.60" y2="858.2" stroke="#222222" stroke-width="1.1"/>
<text x="672.70" y="881.30" font-size="14.2" text-anchor="middle" >780</text>
<line x1="404.6" y1="861.70" x2="408.1" y2="861.70" stroke="#222222" stroke-width="1.1"/>
<text x="400.90" y="866.70" font-size="14.2" text-anchor="end" >300</text>
<line x1="404.6" y1="802.65" x2="408.1" y2="802.65" stroke="#222222" stroke-width="1.1"/>
<text x="400.90" y="807.65" font-size="14.2" text-anchor="end" >320</text>
<line x1="404.6" y1="743.60" x2="408.1" y2="743.60" stroke="#222222" stroke-width="1.1"/>
<text x="400.90" y="748.60" font-size="14.2" text-anchor="end" >340</text>
<line x1="404.6" y1="684.55" x2="408.1" y2="684.55" stroke="#222222" stroke-width="1.1"/>
<text x="400.90" y="689.55" font-size="14.2" text-anchor="end" >360</text>
<line x1="404.6" y1="625.50" x2="408.1" y2="625.50" stroke="#222222" stroke-width="1.1"/>
<text x="400.90" y="630.50" font-size="14.2" text-anchor="end" >380</text>
<text x="189.25" y="11.90" font-size="14.2" text-anchor="middle"  textLength="138.8" lengthAdjust="spacing">Mantle without a BML</text>
<text x="531.65" y="11.90" font-size="14.2" text-anchor="middle"  textLength="117.6" lengthAdjust="spacing">Mantle with a BML</text>
<text x="0.40" y="22.40" font-size="17.5" text-anchor="start" font-weight="bold" >a</text>
<text x="348.90" y="22.80" font-size="17.5" text-anchor="start" font-weight="bold" >b</text>
<text x="0.40" y="321.10" font-size="17.5" text-anchor="start" font-weight="bold" >c</text>
<text x="348.60" y="321.10" font-size="17.5" text-anchor="start" font-weight="bold" >d</text>
<text x="0.20" y="620.00" font-size="17.5" text-anchor="start" font-weight="bold" >e</text>
<text x="348.40" y="619.40" font-size="17.5" text-anchor="start" font-weight="bold" >f</text>
<text transform="translate(14.8,150.25) rotate(-90)" font-size="14" text-anchor="middle" textLength="132.5" lengthAdjust="spacing">Time after P wave (s)</text>
<text transform="translate(359.0,150.25) rotate(-90)" font-size="14" text-anchor="middle" textLength="132.5" lengthAdjust="spacing">Time after P wave (s)</text>
<text transform="translate(14.8,445.5) rotate(-90)" font-size="14" text-anchor="middle" textLength="79.5" lengthAdjust="spacing"><tspan font-style="italic">t</tspan><tspan font-size="10.2" dy="4.4">PP</tspan><tspan dy="-4.4"> − </tspan><tspan font-style="italic">t</tspan><tspan font-size="10.2" dy="4.4">Pdiff</tspan><tspan dy="-4.4"> (s)</tspan></text>
<text transform="translate(359.2,446.3) rotate(-90)" font-size="14" text-anchor="middle" textLength="102" lengthAdjust="spacing"><tspan font-style="italic">t</tspan><tspan font-size="10.2" dy="4.4">PP</tspan><tspan dy="-4.4"> − </tspan><tspan font-style="italic">t</tspan><tspan font-size="10.2" dy="4.4">PbdiffPcP</tspan><tspan dy="-4.4"> (s)</tspan></text>
<text transform="translate(14.8,742.5) rotate(-90)" font-size="14" text-anchor="middle" textLength="75.5" lengthAdjust="spacing"><tspan font-style="italic">t</tspan><tspan font-size="10.2" dy="4.4">SKS</tspan><tspan dy="-4.4">− </tspan><tspan font-style="italic">t</tspan><tspan font-size="10.2" dy="4.4">PP</tspan><tspan dy="-4.4"> (s)</tspan></text>
<text transform="translate(359.2,741.9) rotate(-90)" font-size="14" text-anchor="middle" textLength="76" lengthAdjust="spacing"><tspan font-style="italic">t</tspan><tspan font-size="10.2" dy="4.4">SKS</tspan><tspan dy="-4.4"> − </tspan><tspan font-style="italic">t</tspan><tspan font-size="10.2" dy="4.4">PP</tspan><tspan dy="-4.4"> (s)</tspan></text>
<text x="192.0" y="302.4" font-size="14" text-anchor="middle" textLength="57" lengthAdjust="spacing"><tspan font-style="italic">t</tspan><tspan font-size="10.2" dy="4.4">S</tspan><tspan dy="-4.4"> − </tspan><tspan font-style="italic">t</tspan><tspan font-size="10.2" dy="4.4">P</tspan><tspan dy="-4.4"> (s)</tspan></text>
<text x="537.1" y="302.9" font-size="14" text-anchor="middle" textLength="57" lengthAdjust="spacing"><tspan font-style="italic">t</tspan><tspan font-size="10.2" dy="4.4">S</tspan><tspan dy="-4.4"> − </tspan><tspan font-style="italic">t</tspan><tspan font-size="10.2" dy="4.4">P</tspan><tspan dy="-4.4"> (s)</tspan></text>
<text x="191.5" y="601.6" font-size="14" text-anchor="middle" textLength="69.5" lengthAdjust="spacing"><tspan font-style="italic">t</tspan><tspan font-size="10.2" dy="4.4">SS</tspan><tspan dy="-4.4"> − </tspan><tspan font-style="italic">t</tspan><tspan font-size="10.2" dy="4.4">PP</tspan><tspan dy="-4.4"> (s)</tspan></text>
<text x="537.4" y="602.4" font-size="14" text-anchor="middle" textLength="70" lengthAdjust="spacing"><tspan font-style="italic">t</tspan><tspan font-size="10.2" dy="4.4">SS</tspan><tspan dy="-4.4"> − </tspan><tspan font-style="italic">t</tspan><tspan font-size="10.2" dy="4.4">PP</tspan><tspan dy="-4.4"> (s)</tspan></text>
<text x="192" y="901.3" font-size="14" text-anchor="middle" textLength="69.5" lengthAdjust="spacing"><tspan font-style="italic">t</tspan><tspan font-size="10.2" dy="4.4">SS</tspan><tspan dy="-4.4"> − </tspan><tspan font-style="italic">t</tspan><tspan font-size="10.2" dy="4.4">PP</tspan><tspan dy="-4.4"> (s)</tspan></text>
<text x="537.3" y="901.3" font-size="14" text-anchor="middle" textLength="69.5" lengthAdjust="spacing"><tspan font-style="italic">t</tspan><tspan font-size="10.2" dy="4.4">SS</tspan><tspan dy="-4.4"> − </tspan><tspan font-style="italic">t</tspan><tspan font-size="10.2" dy="4.4">PP</tspan><tspan dy="-4.4"> (s)</tspan></text>
<defs><linearGradient id="jet" x1="0" x2="1" y1="0" y2="0"><stop offset="0.0000" stop-color="#000080"/><stop offset="0.0312" stop-color="#00009f"/><stop offset="0.0625" stop-color="#0000bf"/><stop offset="0.0938" stop-color="#0000df"/><stop offset="0.1250" stop-color="#0000ff"/><stop offset="0.1562" stop-color="#0020ff"/><stop offset="0.1875" stop-color="#0040ff"/><stop offset="0.2188" stop-color="#0060ff"/><stop offset="0.2500" stop-color="#0080ff"/><stop offset="0.2812" stop-color="#009fff"/><stop offset="0.3125" stop-color="#00bfff"/><stop offset="0.3438" stop-color="#00dfff"/><stop offset="0.3750" stop-color="#00ffff"/><stop offset="0.4062" stop-color="#20ffdf"/><stop offset="0.4375" stop-color="#40ffbf"/><stop offset="0.4688" stop-color="#60ff9f"/><stop offset="0.5000" stop-color="#80ff80"/><stop offset="0.5312" stop-color="#9fff60"/><stop offset="0.5625" stop-color="#bfff40"/><stop offset="0.5938" stop-color="#dfff20"/><stop offset="0.6250" stop-color="#ffff00"/><stop offset="0.6562" stop-color="#ffdf00"/><stop offset="0.6875" stop-color="#ffbf00"/><stop offset="0.7188" stop-color="#ff9f00"/><stop offset="0.7500" stop-color="#ff8000"/><stop offset="0.7812" stop-color="#ff6000"/><stop offset="0.8125" stop-color="#ff4000"/><stop offset="0.8438" stop-color="#ff2000"/><stop offset="0.8750" stop-color="#ff0000"/><stop offset="0.9062" stop-color="#df0000"/><stop offset="0.9375" stop-color="#bf0000"/><stop offset="0.9688" stop-color="#9f0000"/><stop offset="1.0000" stop-color="#800000"/></linearGradient></defs>
<rect x="190.3" y="919.3" width="318.0" height="16.200000000000045" fill="url(#jet)" stroke="#222222" stroke-width="1.2"/>
<line x1="190.30" y1="935.5" x2="190.30" y2="938.5" stroke="#222222" stroke-width="1.1"/>
<text x="190.30" y="952.50" font-size="14" text-anchor="middle" >0</text>
<line x1="253.90" y1="935.5" x2="253.90" y2="938.5" stroke="#222222" stroke-width="1.1"/>
<text x="253.90" y="952.50" font-size="14" text-anchor="middle" >0.2</text>
<line x1="317.50" y1="935.5" x2="317.50" y2="938.5" stroke="#222222" stroke-width="1.1"/>
<text x="317.50" y="952.50" font-size="14" text-anchor="middle" >0.4</text>
<line x1="381.10" y1="935.5" x2="381.10" y2="938.5" stroke="#222222" stroke-width="1.1"/>
<text x="381.10" y="952.50" font-size="14" text-anchor="middle" >0.6</text>
<line x1="444.70" y1="935.5" x2="444.70" y2="938.5" stroke="#222222" stroke-width="1.1"/>
<text x="444.70" y="952.50" font-size="14" text-anchor="middle" >0.8</text>
<line x1="508.30" y1="935.5" x2="508.30" y2="938.5" stroke="#222222" stroke-width="1.1"/>
<text x="508.30" y="952.50" font-size="14" text-anchor="middle" >1.0</text>
<text x="346.80" y="971.80" font-size="13.6" text-anchor="middle" >PDF</text></svg>
</body></html>
